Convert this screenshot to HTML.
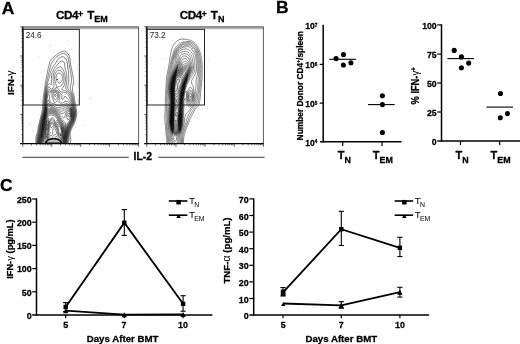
<!DOCTYPE html>
<html><head><meta charset="utf-8"><title>figure</title><style>html,body{margin:0;padding:0;background:#fff;font-family:"Liberation Sans",sans-serif;}svg{display:block;opacity:0.999}text[font-weight=bold]{stroke:#000;stroke-width:0.28px;stroke-linejoin:round}</style></head><body>
<svg width="520" height="344" viewBox="0 0 520 344" font-family="Liberation Sans, sans-serif">
<defs><filter id="bl" x="-50%" y="-50%" width="200%" height="200%"><feGaussianBlur stdDeviation="0.75"/></filter></defs>
<rect width="520" height="344" fill="#fff"/>
<text transform="translate(1.8,14.0) scale(1.02,1)" font-size="17.1" font-weight="bold">A</text>
<text transform="translate(276.0,12.8) scale(1.02,1)" font-size="17.1" font-weight="bold">B</text>
<text transform="translate(0.0,191.0) scale(1.02,1)" font-size="17.1" font-weight="bold">C</text>
<g id="contours1"><circle cx="60.4" cy="91.8" r="0.45" fill="#9a9a9a"/><circle cx="73.5" cy="61.8" r="0.45" fill="#9a9a9a"/><circle cx="56.7" cy="61.6" r="0.45" fill="#9a9a9a"/><circle cx="66.3" cy="69.1" r="0.45" fill="#9a9a9a"/><circle cx="68.2" cy="40.4" r="0.45" fill="#9a9a9a"/><circle cx="77.2" cy="68.5" r="0.45" fill="#9a9a9a"/><circle cx="67.5" cy="67.8" r="0.45" fill="#9a9a9a"/><circle cx="55.8" cy="77.4" r="0.45" fill="#9a9a9a"/><circle cx="69.1" cy="66.8" r="0.45" fill="#9a9a9a"/><circle cx="58.3" cy="81.0" r="0.45" fill="#9a9a9a"/><circle cx="50.4" cy="45.8" r="0.45" fill="#9a9a9a"/><circle cx="64.3" cy="59.3" r="0.45" fill="#9a9a9a"/><circle cx="38.9" cy="57.0" r="0.45" fill="#9a9a9a"/><circle cx="54.9" cy="50.9" r="0.45" fill="#9a9a9a"/><circle cx="43.6" cy="70.6" r="0.45" fill="#9a9a9a"/><circle cx="69.9" cy="66.3" r="0.45" fill="#9a9a9a"/><circle cx="51.8" cy="76.2" r="0.45" fill="#9a9a9a"/><circle cx="67.9" cy="65.2" r="0.45" fill="#9a9a9a"/><circle cx="66.0" cy="86.7" r="0.45" fill="#9a9a9a"/><circle cx="57.7" cy="57.0" r="0.45" fill="#9a9a9a"/><circle cx="63.8" cy="74.0" r="0.45" fill="#9a9a9a"/><circle cx="72.1" cy="49.4" r="0.45" fill="#9a9a9a"/><circle cx="52.7" cy="56.6" r="0.45" fill="#9a9a9a"/><circle cx="40.9" cy="72.0" r="0.45" fill="#9a9a9a"/><circle cx="65.8" cy="58.2" r="0.45" fill="#9a9a9a"/><circle cx="75.2" cy="83.2" r="0.45" fill="#9a9a9a"/><circle cx="68.0" cy="124.8" r="0.45" fill="#9a9a9a"/><circle cx="73.3" cy="104.0" r="0.45" fill="#9a9a9a"/><circle cx="67.8" cy="127.2" r="0.45" fill="#9a9a9a"/><circle cx="29.7" cy="124.2" r="0.45" fill="#9a9a9a"/><circle cx="54.0" cy="129.4" r="0.45" fill="#9a9a9a"/><circle cx="51.0" cy="119.8" r="0.45" fill="#9a9a9a"/><circle cx="63.5" cy="109.5" r="0.45" fill="#9a9a9a"/><circle cx="67.6" cy="118.7" r="0.45" fill="#9a9a9a"/><circle cx="65.9" cy="113.7" r="0.45" fill="#9a9a9a"/><circle cx="75.4" cy="127.3" r="0.45" fill="#9a9a9a"/><circle cx="55.2" cy="127.6" r="0.45" fill="#9a9a9a"/><circle cx="32.8" cy="130.6" r="0.45" fill="#9a9a9a"/><circle cx="65.4" cy="118.9" r="0.45" fill="#9a9a9a"/><circle cx="41.9" cy="135.1" r="0.45" fill="#9a9a9a"/><circle cx="37.8" cy="126.8" r="0.45" fill="#9a9a9a"/><circle cx="78.8" cy="100.8" r="0.45" fill="#9a9a9a"/><circle cx="53.2" cy="104.3" r="0.45" fill="#9a9a9a"/><circle cx="61.9" cy="138.2" r="0.45" fill="#9a9a9a"/><circle cx="90.4" cy="98.7" r="0.45" fill="#9a9a9a"/><circle cx="48.8" cy="128.4" r="0.45" fill="#9a9a9a"/><circle cx="83.3" cy="125.1" r="0.45" fill="#9a9a9a"/><circle cx="46.1" cy="123.6" r="0.45" fill="#9a9a9a"/><path d="M35.7 143.5 L35.7 142.5 L35.7 141.5 L35.7 140.5 L35.7 139.5 L35.8 138.8 L35.9 138.0 L36.0 137.2 L36.1 136.5 L36.3 135.8 L36.5 135.0 L36.8 134.3 L37.0 133.5 L37.2 132.8 L37.3 132.0 L37.5 131.3 L37.7 130.5 L37.8 129.8 L37.9 129.0 L38.1 128.2 L38.2 127.5 L38.3 126.8 L38.5 126.0 L38.6 125.2 L38.8 124.5 L39.0 123.8 L39.2 123.0 L39.4 122.2 L39.5 121.5 L39.7 120.8 L39.9 120.0 L40.1 119.3 L40.3 118.5 L40.5 117.8 L40.7 117.0 L40.9 116.2 L41.1 115.5 L41.2 114.8 L41.4 114.0 L41.6 113.2 L41.7 112.5 L41.9 111.8 L42.0 111.0 L42.2 110.2 L42.3 109.5 L42.4 108.8 L42.5 108.0 L42.5 107.2 L42.6 106.5 L42.6 105.5 L42.7 104.5 L42.8 103.7 L42.8 102.8 L42.9 102.0 L42.9 101.2 L43.0 100.5 L43.1 99.8 L43.1 99.0 L43.2 98.2 L43.3 97.5 L43.4 96.8 L43.5 96.0 L43.6 95.2 L43.7 94.5 L43.8 93.8 L43.9 93.0 L44.1 92.2 L44.2 91.5 L44.3 90.8 L44.4 90.0 L44.5 89.2 L44.6 88.5 L44.7 87.8 L44.8 87.0 L44.9 86.2 L45.0 85.5 L45.1 84.8 L45.3 84.0 L45.4 83.2 L45.5 82.5 L45.6 81.8 L45.8 81.0 L45.9 80.2 L46.0 79.5 L46.2 78.8 L46.3 78.0 L46.4 77.2 L46.6 76.5 L46.7 75.8 L46.9 75.0 L47.0 74.2 L47.2 73.5 L47.3 72.8 L47.5 72.0 L47.6 71.2 L47.8 70.5 L47.9 69.8 L48.1 69.0 L48.2 68.3 L48.4 67.5 L48.6 66.8 L48.8 66.0 L49.0 65.2 L49.2 64.5 L49.4 63.8 L49.5 63.0 L49.7 62.2 L49.9 61.5 L50.2 60.8 L50.7 60.0 L51.1 59.5 L51.6 59.0 L52.2 58.5 L52.8 58.0 L53.2 57.6 L53.8 57.2 L54.2 56.8 L54.8 56.3 L55.2 55.8 L55.8 55.4 L56.2 55.0 L56.7 54.6 L57.2 54.2 L57.8 53.8 L58.2 53.4 L58.8 53.1 L59.2 52.8 L59.8 52.5 L60.5 52.2 L61.2 51.9 L62.0 51.6 L62.8 51.4 L63.5 51.2 L64.2 51.1 L65.2 51.2 L65.9 51.5 L66.5 51.9 L67.0 52.4 L67.5 53.0 L67.8 53.5 L68.2 54.0 L68.5 54.5 L68.8 55.0 L69.2 55.8 L69.5 56.5 L69.7 57.2 L69.8 58.0 L70.0 58.8 L70.1 59.5 L70.2 60.2 L70.2 61.0 L70.3 61.8 L70.4 62.5 L70.5 63.2 L70.6 64.0 L70.7 64.8 L70.8 65.5 L71.0 66.2 L71.1 67.0 L71.3 67.8 L71.5 68.5 L71.6 69.2 L71.8 70.0 L71.9 70.8 L72.1 71.5 L72.2 72.2 L72.4 73.0 L72.5 73.8 L72.7 74.5 L72.8 75.2 L72.9 76.0 L73.0 76.8 L73.1 77.5 L73.2 78.2 L73.4 79.0 L73.5 79.8 L73.6 80.5 L73.6 81.5 L73.5 82.2 L73.4 83.0 L73.3 83.8 L73.1 84.5 L73.0 85.2 L72.9 86.0 L72.8 86.7 L72.6 87.5 L72.5 88.2 L72.5 89.0 L72.5 90.0 L72.5 90.8 L72.7 91.5 L72.9 92.2 L73.1 93.0 L73.4 93.8 L73.7 94.5 L74.0 95.2 L74.2 96.0 L74.3 96.8 L74.4 97.5 L74.5 98.2 L74.6 99.0 L74.7 99.8 L74.8 100.5 L74.9 101.2 L75.1 102.0 L75.2 102.8 L75.3 103.5 L75.5 104.2 L75.6 105.0 L75.7 105.8 L75.9 106.5 L76.0 107.2 L76.1 108.0 L76.2 108.8 L76.3 109.5 L76.4 110.2 L76.5 111.0 L76.6 111.8 L76.7 112.5 L76.7 113.5 L76.7 114.5 L76.6 115.2 L76.5 116.0 L76.3 116.8 L76.2 117.5 L76.0 118.2 L75.8 119.0 L75.6 119.8 L75.4 120.5 L75.1 121.2 L74.9 122.0 L74.6 122.8 L74.3 123.5 L74.0 124.2 L73.7 124.8 L73.3 125.5 L73.0 126.2 L72.7 126.8 L72.3 127.5 L72.0 128.2 L71.7 128.8 L71.4 129.5 L71.1 130.2 L70.8 131.0 L70.6 131.8 L70.4 132.5 L70.3 133.2 L70.2 134.0 L70.2 135.0 L70.2 135.8 L70.4 136.5 L70.5 137.2 L70.6 138.0 L70.7 138.8 L70.8 139.5 L70.8 140.5 L70.7 141.2 L70.6 142.0 L70.4 142.8 L70.1 143.5 L70.1 143.5 M36.6 143.5 L36.6 142.5 L36.6 141.5 L36.6 140.5 L36.7 139.5 L36.7 138.8 L36.8 138.0 L36.9 137.2 L37.1 136.5 L37.2 135.8 L37.4 135.0 L37.6 134.2 L37.8 133.5 L38.0 132.8 L38.2 132.0 L38.3 131.2 L38.5 130.5 L38.6 129.8 L38.7 129.0 L38.8 128.2 L39.0 127.5 L39.1 126.8 L39.2 126.1 L39.4 125.2 L39.6 124.5 L39.8 123.8 L39.9 123.0 L40.1 122.2 L40.3 121.5 L40.5 120.8 L40.7 120.0 L40.9 119.2 L41.0 118.5 L41.2 117.8 L41.4 117.0 L41.6 116.2 L41.8 115.5 L42.0 114.8 L42.2 114.0 L42.4 113.2 L42.5 112.5 L42.7 111.8 L42.8 111.0 L43.0 110.2 L43.1 109.5 L43.2 108.8 L43.3 108.0 L43.3 107.2 L43.4 106.5 L43.4 105.8 L43.5 105.0 L43.6 104.0 L43.6 103.2 L43.7 102.5 L43.7 101.8 L43.8 101.0 L43.9 100.2 L44.0 99.5 L44.0 98.7 L44.1 98.0 L44.2 97.2 L44.3 96.5 L44.4 95.8 L44.5 95.0 L44.6 94.2 L44.7 93.5 L44.8 92.8 L44.9 92.0 L45.0 91.2 L45.2 90.5 L45.3 89.8 L45.4 89.0 L45.5 88.3 L45.6 87.5 L45.8 86.8 L45.9 86.0 L46.0 85.3 L46.2 84.5 L46.3 83.8 L46.5 83.0 L46.7 82.2 L46.8 81.5 L47.0 80.8 L47.2 80.0 L47.3 79.2 L47.5 78.5 L47.7 77.8 L47.8 77.0 L48.0 76.3 L48.2 75.5 L48.4 74.8 L48.6 74.0 L48.7 73.2 L48.9 72.5 L49.1 71.8 L49.2 71.0 L49.4 70.2 L49.6 69.5 L49.8 68.8 L50.0 68.0 L50.2 67.2 L50.4 66.5 L50.7 65.8 L51.0 65.0 L51.2 64.3 L51.5 63.7 L51.8 63.0 L52.2 62.2 L52.5 61.7 L52.9 61.0 L53.3 60.5 L53.6 60.0 L54.0 59.5 L54.5 59.0 L54.9 58.5 L55.4 58.0 L55.9 57.5 L56.5 57.0 L57.0 56.6 L57.5 56.2 L58.0 55.8 L58.5 55.5 L59.0 55.2 L59.5 54.9 L60.1 54.5 L60.8 54.2 L61.5 53.9 L62.2 53.6 L63.0 53.4 L63.8 53.3 L64.8 53.4 L65.4 53.8 L66.0 54.2 L66.4 54.8 L66.9 55.2 L67.2 55.8 L67.5 56.2 L67.9 57.0 L68.1 57.8 L68.3 58.5 L68.5 59.2 L68.6 60.0 L68.7 60.8 L68.8 61.5 L68.9 62.2 L69.0 63.0 L69.1 63.8 L69.2 64.5 L69.3 65.2 L69.4 66.0 L69.6 66.8 L69.7 67.5 L69.9 68.2 L70.0 69.0 L70.2 69.8 L70.4 70.5 L70.5 71.2 L70.7 72.0 L70.8 72.8 L70.9 73.5 L71.0 74.2 L71.1 75.0 L71.2 75.8 L71.3 76.5 L71.4 77.2 L71.4 78.0 L71.5 78.8 L71.5 79.8 L71.5 80.8 L71.5 81.5 L71.4 82.2 L71.2 83.0 L71.0 83.8 L70.8 84.5 L70.6 85.2 L70.4 86.0 L70.3 86.8 L70.2 87.5 L70.3 88.5 L70.5 89.2 L70.7 90.0 L71.0 90.7 L71.2 91.3 L71.5 91.8 L71.8 92.5 L72.0 93.1 L72.2 93.7 L72.5 94.3 L72.7 95.0 L73.0 95.7 L73.2 96.5 L73.3 97.2 L73.4 98.0 L73.5 98.8 L73.7 99.5 L73.8 100.2 L73.9 101.0 L74.1 101.8 L74.2 102.5 L74.4 103.2 L74.5 104.0 L74.7 104.8 L74.8 105.5 L75.0 106.2 L75.1 107.0 L75.2 107.8 L75.4 108.5 L75.5 109.2 L75.6 110.0 L75.7 110.8 L75.8 111.5 L75.9 112.3 L76.0 113.0 L76.0 114.0 L75.9 115.0 L75.8 115.8 L75.6 116.5 L75.5 117.2 L75.3 118.0 L75.1 118.8 L74.9 119.5 L74.7 120.2 L74.4 121.0 L74.2 121.8 L73.9 122.5 L73.6 123.2 L73.2 124.0 L73.0 124.5 L72.6 125.2 L72.2 125.9 L72.0 126.5 L71.6 127.2 L71.2 128.0 L70.9 128.8 L70.6 129.5 L70.3 130.2 L70.0 131.0 L69.8 131.7 L69.6 132.5 L69.4 133.2 L69.3 134.0 L69.2 134.8 L69.2 135.8 L69.1 136.8 L69.1 137.8 L69.1 138.8 L69.1 139.8 L69.0 140.5 L68.9 141.2 L68.7 142.0 L68.5 142.7 L68.2 143.5 L68.2 143.5 M37.1 143.5 L37.1 142.5 L37.1 141.5 L37.2 140.5 L37.2 139.5 L37.3 138.8 L37.4 138.0 L37.5 137.2 L37.7 136.5 L37.8 135.8 L38.0 135.0 L38.2 134.2 L38.4 133.5 L38.6 132.8 L38.7 132.0 L38.9 131.2 L39.0 130.5 L39.2 129.8 L39.3 129.0 L39.4 128.2 L39.5 127.5 L39.7 126.8 L39.8 126.0 L39.9 125.2 L40.1 124.5 L40.3 123.8 L40.4 123.0 L40.6 122.2 L40.8 121.5 L41.0 120.8 L41.2 120.0 L41.4 119.2 L41.5 118.5 L41.7 117.8 L41.9 117.0 L42.1 116.2 L42.3 115.5 L42.5 114.8 L42.7 114.0 L42.9 113.2 L43.1 112.5 L43.2 111.8 L43.4 111.0 L43.5 110.2 L43.7 109.5 L43.8 108.8 L43.8 108.0 L43.9 107.2 L44.0 106.5 L44.0 105.8 L44.1 104.7 L44.1 104.0 L44.2 103.2 L44.2 102.5 L44.3 101.8 L44.4 101.0 L44.5 100.2 L44.5 99.5 L44.6 98.8 L44.7 98.0 L44.8 97.2 L44.8 96.5 L44.9 95.8 L45.0 95.0 L45.1 94.2 L45.3 93.5 L45.4 92.8 L45.5 92.0 L45.7 91.2 L45.8 90.5 L45.9 89.8 L46.0 89.0 L46.2 88.2 L46.3 87.5 L46.5 86.8 L46.7 86.0 L46.9 85.2 L47.1 84.5 L47.2 83.8 L47.5 83.0 L47.7 82.2 L48.0 81.5 L48.2 80.8 L48.5 80.0 L48.7 79.2 L48.9 78.5 L49.1 77.8 L49.3 77.0 L49.5 76.2 L49.7 75.5 L49.9 74.8 L50.1 74.0 L50.2 73.4 L50.5 72.5 L50.7 71.8 L50.9 71.0 L51.2 70.2 L51.5 69.5 L51.8 68.9 L52.1 68.2 L52.5 67.5 L52.8 67.0 L53.2 66.5 L53.6 66.0 L53.9 65.5 L54.3 65.0 L54.7 64.5 L55.1 64.0 L55.4 63.5 L55.7 63.0 L56.0 62.5 L56.5 61.8 L56.9 61.0 L57.2 60.4 L57.7 59.8 L58.1 59.2 L58.5 58.8 L59.0 58.2 L59.5 57.8 L60.0 57.5 L60.8 57.1 L61.5 56.8 L62.2 56.7 L63.0 56.8 L63.8 57.0 L64.5 57.4 L65.0 57.8 L65.5 58.2 L65.9 58.8 L66.2 59.2 L66.5 60.0 L66.8 60.7 L67.0 61.5 L67.1 62.2 L67.2 63.0 L67.4 63.8 L67.4 64.5 L67.5 65.2 L67.6 66.0 L67.7 66.8 L67.8 67.5 L67.9 68.2 L68.0 69.0 L68.1 69.8 L68.2 70.5 L68.4 71.2 L68.5 72.0 L68.6 72.8 L68.7 73.5 L68.7 74.2 L68.8 75.2 L68.8 76.2 L68.8 77.2 L68.9 78.2 L68.8 79.2 L68.8 80.2 L68.8 81.0 L68.7 81.8 L68.6 82.5 L68.4 83.2 L68.3 84.0 L68.1 84.8 L68.0 85.5 L67.9 86.2 L67.8 87.0 L67.8 88.0 L68.0 88.8 L68.4 89.5 L68.7 90.0 L69.1 90.5 L69.6 91.0 L70.0 91.5 L70.3 92.0 L70.7 92.5 L71.0 93.0 L71.4 93.8 L71.7 94.5 L72.0 95.2 L72.2 96.0 L72.4 96.8 L72.5 97.5 L72.7 98.2 L72.8 99.0 L72.9 99.8 L73.1 100.5 L73.2 101.2 L73.4 102.0 L73.6 102.8 L73.7 103.5 L73.9 104.2 L74.1 105.0 L74.2 105.7 L74.4 106.5 L74.5 107.2 L74.7 108.0 L74.8 108.8 L75.0 109.5 L75.1 110.2 L75.2 111.0 L75.3 111.8 L75.4 112.5 L75.5 113.5 L75.4 114.5 L75.3 115.2 L75.2 116.0 L75.1 116.8 L74.9 117.5 L74.7 118.2 L74.5 119.0 L74.3 119.8 L74.1 120.5 L73.8 121.2 L73.5 122.0 L73.2 122.7 L73.0 123.2 L72.6 124.0 L72.3 124.8 L71.9 125.5 L71.5 126.2 L71.1 127.0 L70.8 127.8 L70.5 128.3 L70.2 128.9 L70.0 129.5 L69.8 130.1 L69.5 130.8 L69.3 131.5 L69.1 132.2 L68.9 133.0 L68.8 133.8 L68.7 134.5 L68.6 135.2 L68.5 136.0 L68.4 136.8 L68.4 137.5 L68.3 138.2 L68.3 139.0 L68.2 139.8 L68.1 140.5 L68.0 141.2 L67.8 142.0 L67.6 142.8 L67.5 143.5 L67.5 143.5 M37.5 143.5 L37.6 142.5 L37.6 141.5 L37.6 140.5 L37.7 139.5 L37.8 138.8 L37.9 138.0 L38.0 137.3 L38.2 136.5 L38.3 135.8 L38.5 135.0 L38.7 134.2 L38.9 133.5 L39.0 132.8 L39.2 132.0 L39.4 131.2 L39.5 130.5 L39.6 129.8 L39.7 129.0 L39.8 128.2 L40.0 127.5 L40.1 126.8 L40.2 126.0 L40.4 125.2 L40.5 124.5 L40.7 123.8 L40.9 123.0 L41.0 122.2 L41.2 121.5 L41.4 120.8 L41.6 120.0 L41.8 119.3 L41.9 118.5 L42.1 117.8 L42.3 117.0 L42.5 116.2 L42.7 115.5 L42.9 114.8 L43.1 114.0 L43.3 113.2 L43.5 112.6 L43.7 111.8 L43.8 111.0 L44.0 110.2 L44.1 109.5 L44.2 108.8 L44.3 108.0 L44.4 107.2 L44.4 106.5 L44.5 105.8 L44.5 104.8 L44.6 104.0 L44.6 103.2 L44.7 102.5 L44.8 101.8 L44.8 101.0 L44.9 100.2 L45.0 99.5 L45.1 98.8 L45.2 98.0 L45.2 97.2 L45.3 96.5 L45.4 95.8 L45.5 95.0 L45.6 94.2 L45.7 93.5 L45.9 92.8 L46.0 92.0 L46.2 91.2 L46.3 90.5 L46.5 89.8 L46.7 89.0 L46.8 88.2 L47.0 87.5 L47.2 86.8 L47.5 86.1 L47.7 85.5 L48.0 84.9 L48.4 84.2 L48.9 83.8 L49.8 83.6 L50.2 84.0 L50.7 84.5 L51.1 85.0 L51.7 84.5 L51.7 83.5 L51.7 82.8 L51.6 82.0 L51.5 81.2 L51.4 80.5 L51.4 79.8 L51.3 78.8 L51.4 77.8 L51.4 77.0 L51.5 76.2 L51.6 75.5 L51.8 74.8 L51.9 74.0 L52.1 73.2 L52.4 72.5 L52.7 71.8 L53.0 71.0 L53.3 70.3 L53.6 69.8 L54.0 69.0 L54.3 68.5 L54.7 68.0 L55.1 67.5 L55.5 67.0 L55.9 66.5 L56.4 66.0 L56.7 65.6 L57.2 65.0 L57.7 64.5 L58.1 64.0 L58.5 63.5 L58.9 63.0 L59.4 62.5 L59.8 62.1 L60.2 61.7 L60.8 61.3 L61.5 61.0 L62.2 60.9 L63.0 61.2 L63.5 61.5 L63.9 62.0 L64.2 62.8 L64.5 63.5 L64.6 64.2 L64.7 65.0 L64.8 65.8 L64.9 66.5 L65.0 67.2 L65.1 68.0 L65.2 68.7 L65.4 69.5 L65.7 70.2 L65.9 71.0 L66.1 71.8 L66.2 72.4 L66.4 73.2 L66.6 74.0 L66.7 74.8 L66.8 75.5 L66.8 76.2 L66.9 77.2 L66.9 78.2 L66.9 79.2 L66.9 80.2 L66.8 81.2 L66.8 82.0 L66.7 82.8 L66.5 83.5 L66.4 84.2 L66.2 85.0 L66.0 85.8 L65.9 86.5 L65.8 87.2 L65.7 88.0 L65.9 88.8 L66.2 89.4 L66.8 89.9 L67.2 90.4 L67.8 90.9 L68.2 91.3 L68.7 91.8 L69.2 92.2 L69.6 92.8 L70.0 93.2 L70.4 93.8 L70.8 94.4 L71.0 95.0 L71.2 95.6 L71.5 96.3 L71.6 97.0 L71.8 97.8 L72.0 98.5 L72.1 99.2 L72.3 100.0 L72.5 100.8 L72.6 101.5 L72.8 102.2 L73.0 103.0 L73.2 103.8 L73.3 104.5 L73.5 105.2 L73.7 106.0 L73.9 106.8 L74.1 107.5 L74.2 108.2 L74.4 109.0 L74.5 109.8 L74.7 110.5 L74.8 111.2 L74.9 112.0 L75.0 112.8 L75.0 113.8 L75.0 114.7 L74.9 115.5 L74.8 116.2 L74.6 117.0 L74.4 117.8 L74.2 118.4 L74.0 119.2 L73.8 120.0 L73.6 120.8 L73.3 121.5 L73.0 122.2 L72.8 122.8 L72.4 123.5 L72.0 124.2 L71.6 125.0 L71.2 125.7 L71.0 126.2 L70.6 127.0 L70.3 127.8 L70.0 128.3 L69.8 128.9 L69.5 129.5 L69.2 130.2 L69.0 130.9 L68.8 131.8 L68.6 132.5 L68.4 133.2 L68.3 134.0 L68.2 134.8 L68.1 135.5 L68.0 136.2 L67.9 137.0 L67.8 137.8 L67.8 138.5 L67.7 139.2 L67.6 140.0 L67.5 140.8 L67.3 141.5 L67.2 142.2 L67.0 143.0 L66.9 143.5 M37.9 143.5 L37.9 142.5 L38.0 141.5 L38.0 140.5 L38.1 139.8 L38.1 139.0 L38.2 138.2 L38.4 137.5 L38.5 136.8 L38.7 136.0 L38.9 135.2 L39.0 134.5 L39.2 133.8 L39.4 133.0 L39.6 132.2 L39.7 131.5 L39.9 130.8 L40.0 130.0 L40.1 129.2 L40.2 128.5 L40.3 127.8 L40.4 127.0 L40.6 126.2 L40.7 125.5 L40.9 124.8 L41.0 124.1 L41.2 123.2 L41.3 122.5 L41.5 121.8 L41.7 121.0 L41.9 120.2 L42.1 119.5 L42.2 118.8 L42.4 118.0 L42.6 117.2 L42.8 116.5 L43.0 115.8 L43.2 115.0 L43.4 114.2 L43.6 113.5 L43.8 112.8 L44.0 112.1 L44.2 111.2 L44.3 110.5 L44.5 109.8 L44.6 109.0 L44.7 108.2 L44.7 107.5 L44.8 106.8 L44.9 106.0 L44.9 105.0 L45.0 104.2 L45.0 103.5 L45.1 102.8 L45.2 102.0 L45.2 101.2 L45.3 100.5 L45.4 99.8 L45.5 99.0 L45.5 98.2 L45.6 97.5 L45.7 96.8 L45.8 96.0 L45.9 95.2 L46.0 94.5 L46.1 93.8 L46.3 93.0 L46.5 92.2 L46.6 91.5 L46.8 90.8 L47.1 90.0 L47.2 89.3 L47.5 88.6 L47.7 88.0 L48.2 87.2 L48.8 86.9 L49.5 87.2 L49.8 87.8 L50.2 88.2 L50.6 88.8 L51.2 89.1 L52.0 88.9 L52.5 88.6 L53.0 88.1 L53.5 87.5 L53.8 86.8 L54.0 86.0 L54.1 85.2 L54.0 84.3 L53.9 83.5 L53.8 82.7 L53.6 82.0 L53.5 81.3 L53.4 80.5 L53.2 79.8 L53.1 79.0 L53.1 78.2 L53.1 77.2 L53.1 76.2 L53.2 75.5 L53.4 74.8 L53.5 74.0 L53.8 73.3 L54.0 72.8 L54.2 72.1 L54.5 71.5 L55.0 70.8 L55.3 70.2 L55.6 69.8 L56.1 69.2 L56.5 68.8 L57.0 68.3 L57.5 67.9 L58.0 67.6 L58.5 67.3 L59.2 66.9 L60.0 66.7 L60.8 66.8 L61.2 67.2 L61.8 67.7 L62.1 68.2 L62.4 68.8 L62.8 69.3 L63.1 70.0 L63.5 70.7 L63.8 71.2 L64.1 72.0 L64.4 72.8 L64.7 73.5 L64.9 74.2 L65.1 75.0 L65.2 75.8 L65.3 76.5 L65.3 77.2 L65.4 78.2 L65.4 79.2 L65.4 80.2 L65.3 81.0 L65.2 81.8 L65.1 82.5 L64.9 83.2 L64.7 84.0 L64.5 84.7 L64.3 85.2 L64.0 85.9 L63.6 86.5 L63.3 87.0 L62.9 87.5 L62.5 88.0 L62.0 88.5 L61.8 89.2 L62.1 89.8 L62.8 90.1 L63.5 90.3 L64.2 90.5 L65.0 90.7 L65.6 91.0 L66.2 91.3 L66.8 91.6 L67.2 92.0 L67.8 92.4 L68.2 92.9 L68.8 93.4 L69.2 94.0 L69.6 94.5 L69.9 95.0 L70.2 95.7 L70.5 96.3 L70.7 97.0 L70.9 97.8 L71.1 98.5 L71.3 99.2 L71.5 100.0 L71.7 100.8 L71.9 101.5 L72.1 102.2 L72.3 103.0 L72.5 103.8 L72.8 104.5 L73.0 105.3 L73.2 106.0 L73.4 106.8 L73.6 107.5 L73.8 108.1 L73.9 109.0 L74.1 109.8 L74.2 110.5 L74.4 111.2 L74.5 112.0 L74.6 112.8 L74.6 113.8 L74.6 114.8 L74.5 115.5 L74.4 116.2 L74.2 116.9 L74.1 117.8 L73.9 118.5 L73.6 119.2 L73.4 120.0 L73.2 120.8 L72.9 121.5 L72.6 122.2 L72.2 122.9 L72.0 123.5 L71.6 124.2 L71.2 124.8 L70.9 125.5 L70.5 126.2 L70.2 126.8 L69.9 127.5 L69.6 128.2 L69.3 129.0 L69.0 129.7 L68.8 130.4 L68.5 131.2 L68.3 132.0 L68.2 132.8 L68.0 133.5 L67.9 134.2 L67.8 135.0 L67.7 135.8 L67.6 136.5 L67.5 137.2 L67.4 138.0 L67.3 138.8 L67.2 139.5 L67.1 140.2 L67.0 141.0 L66.8 141.8 L66.7 142.5 L66.6 143.2 L66.5 143.5 M58.0 70.5 L58.8 70.3 L59.8 70.4 L60.5 70.7 L61.0 71.1 L61.5 71.5 L61.9 72.0 L62.3 72.5 L62.6 73.0 L63.0 73.7 L63.2 74.3 L63.5 75.0 L63.7 75.8 L63.8 76.5 L63.9 77.2 L64.0 78.2 L63.9 79.2 L63.9 80.0 L63.8 80.8 L63.6 81.5 L63.4 82.2 L63.1 83.0 L62.8 83.8 L62.5 84.2 L62.1 84.8 L61.5 85.2 L61.0 85.6 L60.3 86.0 L59.8 86.3 L59.2 86.5 L58.6 86.8 L57.9 87.0 L57.3 87.2 L56.9 86.8 L56.5 86.0 L56.3 85.2 L56.0 84.5 L55.8 83.8 L55.6 83.0 L55.4 82.2 L55.2 81.5 L55.0 80.8 L54.8 80.0 L54.7 79.2 L54.6 78.5 L54.5 77.8 L54.5 76.8 L54.6 76.0 L54.7 75.2 L54.9 74.5 L55.2 73.8 L55.5 73.1 L55.9 72.5 L56.2 72.0 L56.6 71.5 L57.2 71.0 L57.8 70.6 L58.0 70.5 M38.3 143.5 L38.3 142.5 L38.3 141.5 L38.4 140.5 L38.4 139.8 L38.5 139.0 L38.6 138.2 L38.7 137.5 L38.9 136.8 L39.1 136.0 L39.2 135.2 L39.4 134.5 L39.6 133.8 L39.8 133.0 L40.0 132.2 L40.1 131.5 L40.2 130.8 L40.4 130.0 L40.5 129.2 L40.6 128.5 L40.7 127.8 L40.8 127.0 L40.9 126.2 L41.0 125.5 L41.2 124.8 L41.3 124.0 L41.5 123.3 L41.7 122.5 L41.8 121.8 L42.0 121.1 L42.2 120.2 L42.4 119.5 L42.6 118.8 L42.7 118.0 L42.9 117.2 L43.1 116.5 L43.4 115.8 L43.6 115.0 L43.8 114.4 L44.0 113.5 L44.2 112.8 L44.4 112.0 L44.5 111.2 L44.7 110.5 L44.8 109.8 L44.9 109.0 L45.0 108.2 L45.1 107.5 L45.2 106.8 L45.2 106.0 L45.3 105.0 L45.3 104.2 L45.4 103.5 L45.5 102.8 L45.5 102.0 L45.6 101.2 L45.7 100.5 L45.8 99.8 L45.9 99.0 L45.9 98.2 L46.0 97.5 L46.1 96.8 L46.2 96.0 L46.3 95.2 L46.4 94.5 L46.6 93.8 L46.7 93.0 L47.0 92.2 L47.2 91.5 L47.5 90.8 L47.8 90.2 L48.2 89.5 L48.8 89.2 L49.3 89.5 L49.9 90.0 L50.5 90.4 L51.2 90.5 L52.0 90.2 L52.5 90.0 L53.0 89.6 L53.5 89.3 L54.0 89.0 L54.5 88.7 L55.2 88.3 L56.0 87.9 L56.8 87.5 L57.3 87.8 L57.8 88.4 L58.1 89.0 L58.5 89.5 L58.9 90.0 L59.4 90.5 L59.9 91.0 L60.5 91.5 L61.0 91.8 L61.8 92.1 L62.5 92.2 L63.5 92.3 L64.5 92.4 L65.2 92.5 L65.9 92.8 L66.5 93.1 L67.0 93.5 L67.5 94.0 L67.9 94.5 L68.2 95.0 L68.6 95.5 L68.9 96.2 L69.2 97.0 L69.5 97.8 L69.8 98.4 L70.0 99.0 L70.2 99.6 L70.5 100.2 L70.8 100.9 L71.0 101.5 L71.2 102.2 L71.5 102.9 L71.7 103.5 L72.0 104.2 L72.2 104.9 L72.5 105.7 L72.8 106.4 L72.9 107.0 L73.2 107.8 L73.4 108.5 L73.6 109.2 L73.7 110.0 L73.9 110.8 L74.0 111.5 L74.2 112.2 L74.2 113.0 L74.3 114.0 L74.2 115.0 L74.1 115.8 L74.0 116.5 L73.8 117.2 L73.7 118.0 L73.4 118.8 L73.2 119.4 L73.0 120.2 L72.8 120.9 L72.5 121.5 L72.2 122.1 L71.9 122.8 L71.5 123.5 L71.2 124.1 L70.9 124.8 L70.5 125.5 L70.1 126.2 L69.8 127.0 L69.4 127.8 L69.1 128.5 L68.8 129.2 L68.5 130.0 L68.3 130.8 L68.1 131.5 L67.9 132.2 L67.8 133.0 L67.6 133.8 L67.5 134.5 L67.4 135.2 L67.3 136.0 L67.2 136.8 L67.1 137.5 L67.0 138.2 L66.9 139.0 L66.8 139.8 L66.7 140.5 L66.6 141.2 L66.4 142.0 L66.3 142.8 L66.1 143.5 L66.1 143.5 M58.1 73.2 L59.0 73.1 L59.8 73.2 L60.3 73.5 L60.9 74.0 L61.4 74.5 L61.7 75.0 L62.0 75.7 L62.2 76.5 L62.4 77.2 L62.4 78.2 L62.3 79.2 L62.2 80.0 L61.9 80.8 L61.6 81.5 L61.2 82.0 L60.8 82.5 L60.2 82.8 L59.5 83.1 L58.8 83.0 L58.0 82.6 L57.5 82.0 L57.2 81.5 L56.8 80.8 L56.6 80.0 L56.4 79.2 L56.2 78.5 L56.1 77.8 L56.1 76.8 L56.2 76.0 L56.5 75.2 L56.8 74.6 L57.2 74.0 L57.7 73.5 L58.1 73.2 M38.6 143.5 L38.6 142.5 L38.6 141.5 L38.7 140.5 L38.7 139.8 L38.8 139.0 L38.9 138.2 L39.1 137.5 L39.2 136.8 L39.4 136.0 L39.6 135.2 L39.8 134.5 L40.0 133.8 L40.2 133.0 L40.3 132.2 L40.5 131.5 L40.6 130.8 L40.7 130.0 L40.8 129.2 L40.9 128.5 L41.0 127.8 L41.1 127.0 L41.2 126.2 L41.4 125.5 L41.5 124.8 L41.7 124.0 L41.8 123.2 L42.0 122.5 L42.1 121.8 L42.3 121.0 L42.5 120.2 L42.7 119.5 L42.9 118.8 L43.0 118.0 L43.2 117.2 L43.4 116.5 L43.7 115.8 L43.9 115.0 L44.1 114.2 L44.3 113.5 L44.5 112.8 L44.7 112.0 L44.9 111.2 L45.0 110.5 L45.2 109.8 L45.3 109.0 L45.4 108.2 L45.5 107.5 L45.5 106.8 L45.6 106.0 L45.6 105.2 L45.7 104.5 L45.7 103.8 L45.8 103.0 L45.9 102.2 L46.0 101.5 L46.0 100.8 L46.1 100.0 L46.2 99.2 L46.3 98.5 L46.4 97.8 L46.5 97.0 L46.6 96.2 L46.7 95.5 L46.8 94.8 L47.0 94.0 L47.2 93.2 L47.4 92.5 L47.8 91.9 L48.2 91.2 L48.8 91.0 L49.5 91.2 L50.1 91.5 L50.8 91.7 L51.5 91.5 L52.0 91.2 L52.8 90.8 L53.3 90.5 L54.0 90.1 L54.8 89.9 L55.5 89.8 L56.2 89.9 L57.0 90.2 L57.5 90.5 L58.0 90.9 L58.4 91.2 L59.0 91.8 L59.5 92.2 L60.0 92.7 L60.5 93.2 L61.0 93.8 L61.4 94.2 L61.7 94.8 L62.0 95.5 L62.0 96.3 L61.8 97.0 L61.6 97.8 L61.7 98.7 L62.0 99.2 L63.0 99.1 L63.5 98.7 L64.0 98.0 L64.4 97.2 L64.6 96.5 L65.2 96.3 L65.8 96.6 L66.2 97.2 L66.7 97.8 L67.1 98.2 L67.6 98.8 L68.0 99.2 L68.4 99.8 L68.8 100.2 L69.1 100.8 L69.5 101.2 L69.8 101.8 L70.1 102.2 L70.5 102.9 L70.8 103.5 L71.2 104.2 L71.5 104.9 L71.8 105.5 L72.1 106.2 L72.4 107.0 L72.7 107.8 L72.9 108.5 L73.1 109.2 L73.3 110.0 L73.5 110.7 L73.7 111.5 L73.8 112.2 L73.9 113.0 L73.9 114.0 L73.9 115.0 L73.8 115.8 L73.7 116.5 L73.5 117.2 L73.3 118.0 L73.1 118.8 L72.9 119.5 L72.6 120.2 L72.3 121.0 L72.0 121.8 L71.8 122.3 L71.4 123.0 L71.0 123.8 L70.6 124.5 L70.2 125.2 L70.0 125.8 L69.6 126.5 L69.2 127.2 L69.0 127.8 L68.8 128.4 L68.5 129.0 L68.2 129.7 L68.0 130.5 L67.8 131.2 L67.7 132.0 L67.5 132.8 L67.4 133.5 L67.3 134.2 L67.1 135.0 L67.0 135.8 L66.9 136.5 L66.8 137.2 L66.7 138.0 L66.6 138.8 L66.5 139.5 L66.4 140.2 L66.3 141.0 L66.1 141.8 L66.0 142.5 L65.9 143.2 L65.8 143.5 M38.9 143.5 L38.9 142.5 L38.9 141.5 L39.0 140.5 L39.1 139.8 L39.1 139.0 L39.2 138.3 L39.4 137.5 L39.6 136.8 L39.7 136.0 L39.9 135.2 L40.1 134.5 L40.3 133.8 L40.5 133.0 L40.7 132.2 L40.8 131.5 L40.9 130.8 L41.0 130.0 L41.1 129.2 L41.2 128.5 L41.3 127.8 L41.4 127.0 L41.5 126.2 L41.7 125.5 L41.8 124.8 L42.0 124.0 L42.1 123.2 L42.3 122.5 L42.4 121.8 L42.6 121.0 L42.8 120.2 L43.0 119.5 L43.1 118.8 L43.3 118.0 L43.5 117.3 L43.7 116.5 L44.0 115.8 L44.2 115.0 L44.4 114.2 L44.6 113.5 L44.8 112.8 L45.0 112.1 L45.2 111.2 L45.4 110.5 L45.5 109.8 L45.6 109.0 L45.7 108.2 L45.8 107.5 L45.9 106.8 L45.9 106.0 L46.0 105.2 L46.0 104.5 L46.1 103.8 L46.2 103.0 L46.3 102.2 L46.3 101.5 L46.4 100.8 L46.5 100.0 L46.6 99.2 L46.7 98.5 L46.8 97.8 L46.9 97.0 L47.0 96.3 L47.1 95.5 L47.3 94.8 L47.5 94.0 L47.8 93.4 L48.2 92.8 L48.8 92.4 L49.5 92.6 L50.2 93.0 L51.0 93.1 L51.5 92.8 L52.0 92.4 L52.4 92.0 L53.0 91.6 L53.5 91.3 L54.1 91.0 L54.8 90.8 L55.8 90.8 L56.5 91.1 L57.2 91.5 L57.8 91.9 L58.2 92.2 L58.6 92.8 L59.0 93.2 L59.3 93.8 L59.7 94.5 L59.8 95.2 L59.9 96.2 L59.8 97.0 L59.6 97.8 L59.5 98.5 L59.3 99.2 L59.2 100.0 L59.1 100.8 L59.0 101.8 L59.2 102.5 L59.8 102.9 L60.5 103.1 L61.5 103.1 L62.2 103.0 L62.9 102.8 L63.5 102.5 L64.0 102.2 L64.8 101.8 L65.4 101.5 L66.2 101.4 L66.9 101.5 L67.5 101.7 L68.0 102.1 L68.5 102.5 L69.0 103.0 L69.5 103.5 L69.9 104.0 L70.3 104.5 L70.7 105.0 L71.0 105.5 L71.4 106.2 L71.8 106.9 L72.0 107.5 L72.4 108.2 L72.6 109.0 L72.9 109.8 L73.1 110.5 L73.2 111.2 L73.4 112.0 L73.5 112.8 L73.6 113.5 L73.6 114.5 L73.5 115.2 L73.5 116.0 L73.3 116.8 L73.1 117.5 L73.0 118.2 L72.8 118.9 L72.5 119.7 L72.2 120.4 L72.0 121.0 L71.8 121.6 L71.4 122.2 L71.0 123.0 L70.6 123.8 L70.2 124.4 L69.9 125.0 L69.6 125.8 L69.2 126.4 L69.0 127.0 L68.6 127.8 L68.3 128.5 L68.1 129.2 L67.8 130.0 L67.6 130.8 L67.5 131.5 L67.3 132.2 L67.2 133.0 L67.0 133.8 L66.9 134.5 L66.8 135.2 L66.7 136.0 L66.6 136.8 L66.5 137.5 L66.4 138.2 L66.3 139.0 L66.2 139.8 L66.0 140.5 L65.9 141.2 L65.8 142.0 L65.6 142.8 L65.5 143.5 L65.5 143.5 M54.5 91.8 L55.5 91.7 L56.2 91.9 L56.8 92.2 L57.4 92.8 L57.9 93.2 L58.2 93.8 L58.5 94.5 L58.7 95.2 L58.7 96.2 L58.6 97.0 L58.4 97.8 L58.1 98.5 L57.9 99.2 L57.5 100.0 L57.1 100.8 L56.7 101.2 L56.3 101.8 L55.8 102.2 L55.2 102.5 L54.4 102.5 L54.0 102.1 L53.7 101.5 L53.4 100.8 L53.1 100.0 L52.9 99.2 L52.7 98.5 L52.4 97.8 L52.2 97.1 L52.0 96.2 L51.9 95.5 L52.0 94.5 L52.2 93.8 L52.7 93.0 L53.1 92.5 L53.8 92.1 L54.5 91.8 L54.5 91.8 M39.2 143.5 L39.2 142.5 L39.2 141.5 L39.3 140.5 L39.4 139.8 L39.4 139.0 L39.6 138.2 L39.7 137.5 L39.9 136.8 L40.1 136.0 L40.2 135.3 L40.5 134.5 L40.7 133.8 L40.8 133.0 L41.0 132.2 L41.1 131.5 L41.2 130.8 L41.4 130.0 L41.5 129.2 L41.5 128.5 L41.6 127.8 L41.7 127.0 L41.8 126.2 L42.0 125.5 L42.1 124.7 L42.2 124.0 L42.4 123.2 L42.6 122.5 L42.7 121.8 L42.9 121.0 L43.1 120.2 L43.2 119.5 L43.4 118.8 L43.6 118.0 L43.8 117.2 L44.0 116.5 L44.2 115.8 L44.5 115.0 L44.7 114.2 L44.9 113.5 L45.1 112.8 L45.3 112.0 L45.5 111.3 L45.7 110.5 L45.8 109.8 L46.0 109.0 L46.1 108.2 L46.2 107.5 L46.2 106.8 L46.3 106.0 L46.4 105.2 L46.4 104.5 L46.5 103.8 L46.6 103.0 L46.7 102.2 L46.8 101.5 L46.9 100.8 L47.0 100.0 L47.1 99.2 L47.2 98.5 L47.4 97.8 L47.5 97.0 L47.6 96.2 L47.8 95.5 L48.0 94.9 L48.5 94.2 L49.2 94.5 L49.6 95.2 L49.6 96.0 L49.6 97.0 L49.5 98.0 L49.6 99.0 L49.7 99.8 L49.9 100.5 L50.1 101.2 L50.4 102.0 L50.8 102.6 L51.2 103.1 L52.0 103.5 L52.8 103.6 L53.8 103.6 L54.5 103.8 L55.0 104.2 L55.5 104.6 L56.0 104.9 L56.6 105.2 L57.5 105.5 L58.2 105.6 L59.2 105.5 L60.0 105.4 L60.8 105.3 L61.5 105.1 L62.2 105.0 L63.0 104.8 L63.7 104.5 L64.3 104.2 L64.9 104.0 L65.7 103.8 L66.5 103.6 L67.2 103.7 L68.0 104.0 L68.8 104.5 L69.2 104.8 L69.7 105.2 L70.2 105.8 L70.6 106.2 L71.0 106.8 L71.3 107.2 L71.7 108.0 L72.0 108.6 L72.2 109.2 L72.5 110.0 L72.7 110.8 L72.9 111.5 L73.1 112.2 L73.2 113.0 L73.3 113.8 L73.3 114.8 L73.2 115.5 L73.1 116.2 L73.0 117.0 L72.8 117.8 L72.6 118.5 L72.3 119.2 L72.1 120.0 L71.8 120.8 L71.5 121.3 L71.2 122.0 L70.8 122.8 L70.4 123.5 L70.0 124.1 L69.7 124.8 L69.3 125.5 L69.0 126.0 L68.7 126.8 L68.3 127.5 L68.0 128.2 L67.8 129.0 L67.6 129.8 L67.4 130.5 L67.2 131.2 L67.1 132.0 L66.9 132.8 L66.8 133.5 L66.7 134.2 L66.6 135.0 L66.5 135.8 L66.4 136.5 L66.2 137.2 L66.1 138.0 L66.0 138.8 L65.9 139.5 L65.8 140.2 L65.7 141.0 L65.5 141.8 L65.4 142.5 L65.3 143.2 L65.2 143.5 M54.6 92.8 L55.5 92.7 L56.2 93.0 L56.8 93.4 L57.2 94.0 L57.5 94.8 L57.6 95.5 L57.5 96.5 L57.3 97.2 L57.0 98.0 L56.7 98.5 L56.2 99.0 L55.8 99.3 L54.9 99.2 L54.3 98.8 L54.0 98.2 L53.6 97.5 L53.3 96.8 L53.1 96.0 L53.1 95.2 L53.1 94.5 L53.4 93.8 L53.8 93.3 L54.2 92.9 L54.6 92.8 M39.5 143.5 L39.5 142.5 L39.5 141.6 L39.5 140.8 L39.6 140.0 L39.7 139.2 L39.8 138.5 L40.0 137.8 L40.1 137.0 L40.3 136.2 L40.5 135.6 L40.7 134.8 L40.9 134.0 L41.1 133.2 L41.3 132.5 L41.4 131.8 L41.5 131.0 L41.6 130.2 L41.7 129.5 L41.8 128.8 L41.9 128.0 L42.0 127.2 L42.1 126.5 L42.2 125.8 L42.3 125.0 L42.5 124.2 L42.6 123.5 L42.8 122.8 L42.9 122.0 L43.1 121.2 L43.2 120.5 L43.4 119.8 L43.6 119.0 L43.8 118.2 L44.0 117.5 L44.2 116.8 L44.4 116.0 L44.7 115.2 L44.9 114.5 L45.1 113.8 L45.3 113.0 L45.6 112.2 L45.8 111.5 L46.0 110.8 L46.1 110.0 L46.2 109.3 L46.4 108.5 L46.5 107.8 L46.6 107.0 L46.7 106.2 L46.7 105.5 L46.8 104.8 L46.9 104.0 L47.0 103.2 L47.2 102.5 L47.3 101.8 L47.5 101.0 L47.8 100.3 L48.1 99.8 L48.6 100.2 L48.9 101.0 L49.2 101.8 L49.5 102.5 L49.8 103.2 L50.1 103.8 L50.4 104.3 L50.9 104.8 L51.5 105.1 L52.2 105.5 L52.8 105.8 L53.4 106.0 L54.0 106.3 L54.8 106.7 L55.5 107.0 L56.1 107.2 L57.0 107.5 L57.8 107.6 L58.7 107.5 L59.5 107.4 L60.2 107.2 L61.0 107.0 L61.8 106.8 L62.5 106.7 L63.2 106.5 L63.9 106.2 L64.6 106.0 L65.2 105.8 L65.8 105.5 L66.5 105.3 L67.5 105.3 L68.1 105.5 L68.7 105.8 L69.2 106.1 L69.7 106.5 L70.2 107.0 L70.7 107.5 L71.0 108.0 L71.4 108.5 L71.7 109.2 L72.0 109.8 L72.2 110.5 L72.5 111.2 L72.7 112.0 L72.8 112.8 L72.9 113.5 L73.0 114.5 L72.9 115.5 L72.8 116.2 L72.6 117.0 L72.5 117.8 L72.3 118.5 L72.0 119.2 L71.8 119.9 L71.5 120.5 L71.2 121.1 L70.9 121.8 L70.5 122.5 L70.1 123.2 L69.8 123.8 L69.4 124.5 L69.0 125.2 L68.7 125.8 L68.4 126.5 L68.0 127.2 L67.8 128.0 L67.5 128.8 L67.3 129.5 L67.1 130.2 L66.9 131.0 L66.8 131.8 L66.7 132.5 L66.6 133.2 L66.5 134.0 L66.4 134.8 L66.2 135.5 L66.1 136.2 L66.0 137.0 L65.9 137.8 L65.8 138.5 L65.7 139.2 L65.6 140.0 L65.4 140.8 L65.3 141.5 L65.2 142.2 L65.0 143.0 L64.9 143.5 M54.8 94.5 L55.7 94.5 L56.0 95.0 L56.1 95.8 L55.8 96.5 L54.8 96.2 L54.5 95.5 L54.6 94.8 L54.8 94.5 M39.7 143.5 L39.8 142.6 L39.8 141.8 L39.8 140.8 L39.9 140.0 L40.0 139.2 L40.1 138.5 L40.2 137.8 L40.4 137.0 L40.6 136.2 L40.8 135.5 L41.1 134.8 L41.2 134.0 L41.4 133.2 L41.6 132.5 L41.7 131.8 L41.9 131.0 L42.0 130.2 L42.0 129.5 L42.1 128.8 L42.2 128.0 L42.3 127.2 L42.4 126.5 L42.5 125.8 L42.6 125.0 L42.7 124.2 L42.9 123.5 L43.0 122.7 L43.2 122.0 L43.4 121.2 L43.5 120.5 L43.7 119.8 L43.9 119.0 L44.1 118.2 L44.3 117.5 L44.5 116.8 L44.7 116.0 L44.9 115.2 L45.2 114.5 L45.4 113.8 L45.6 113.0 L45.9 112.2 L46.1 111.5 L46.3 110.8 L46.5 110.0 L46.6 109.2 L46.8 108.5 L46.9 107.8 L47.0 107.0 L47.2 106.2 L47.3 105.5 L47.4 104.8 L47.6 104.0 L48.0 103.2 L48.7 103.5 L49.0 104.0 L49.3 104.5 L49.7 105.0 L50.1 105.5 L50.7 106.0 L51.2 106.3 L52.0 106.7 L52.7 107.0 L53.3 107.3 L54.0 107.7 L54.7 108.0 L55.2 108.3 L56.0 108.6 L56.8 108.9 L57.5 109.1 L58.2 109.2 L59.2 109.2 L60.0 109.1 L60.8 109.0 L61.5 108.8 L62.2 108.7 L62.9 108.5 L63.7 108.2 L64.2 108.0 L65.0 107.6 L65.6 107.2 L66.2 106.9 L67.0 106.7 L68.0 106.7 L68.8 106.9 L69.3 107.2 L70.0 107.8 L70.5 108.2 L70.8 108.8 L71.2 109.2 L71.5 109.9 L71.8 110.4 L72.0 111.0 L72.2 111.8 L72.4 112.5 L72.5 113.2 L72.6 114.0 L72.6 115.0 L72.6 115.8 L72.4 116.5 L72.3 117.2 L72.1 118.0 L71.8 118.8 L71.6 119.5 L71.2 120.2 L70.9 121.0 L70.5 121.7 L70.1 122.5 L69.8 123.0 L69.3 123.8 L69.0 124.3 L68.6 125.0 L68.3 125.8 L68.0 126.3 L67.8 126.9 L67.5 127.5 L67.3 128.2 L67.1 129.0 L66.9 129.8 L66.7 130.5 L66.6 131.2 L66.5 132.0 L66.4 132.8 L66.3 133.5 L66.2 134.2 L66.1 135.0 L66.0 135.8 L65.8 136.5 L65.7 137.2 L65.6 138.0 L65.5 138.8 L65.4 139.5 L65.3 140.2 L65.1 141.0 L65.0 141.8 L64.9 142.5 L64.7 143.2 L64.7 143.5 M40.0 143.5 L40.0 142.5 L40.1 141.5 L40.1 140.5 L40.2 139.8 L40.3 139.0 L40.5 138.2 L40.6 137.5 L40.8 136.8 L41.0 136.1 L41.2 135.2 L41.5 134.5 L41.7 133.8 L41.8 133.0 L42.0 132.2 L42.1 131.5 L42.2 130.8 L42.3 130.0 L42.4 129.2 L42.4 128.5 L42.5 127.8 L42.6 127.0 L42.7 126.2 L42.8 125.5 L42.9 124.8 L43.1 124.0 L43.2 123.2 L43.4 122.5 L43.5 121.8 L43.7 121.0 L43.8 120.2 L44.0 119.5 L44.2 118.8 L44.4 118.0 L44.6 117.2 L44.8 116.5 L45.0 115.9 L45.2 115.2 L45.4 114.5 L45.7 113.8 L45.9 113.0 L46.2 112.2 L46.4 111.5 L46.6 110.8 L46.9 110.0 L47.1 109.2 L47.2 108.5 L47.5 107.8 L47.7 107.0 L48.0 106.2 L48.5 105.9 L49.2 106.2 L49.8 106.6 L50.2 107.0 L51.0 107.4 L51.8 107.7 L52.5 108.0 L53.1 108.2 L53.8 108.6 L54.5 109.0 L55.0 109.2 L55.8 109.6 L56.5 110.0 L57.2 110.3 L58.0 110.6 L58.8 110.9 L59.5 111.0 L60.2 111.1 L61.3 111.1 L62.0 111.0 L62.8 110.9 L63.5 110.6 L64.1 110.2 L64.7 109.8 L65.2 109.3 L65.8 108.8 L66.2 108.4 L66.8 108.1 L67.5 107.9 L68.5 107.9 L69.2 108.2 L69.8 108.5 L70.2 109.0 L70.6 109.5 L71.0 110.0 L71.4 110.8 L71.7 111.5 L71.9 112.2 L72.1 113.0 L72.2 113.8 L72.3 114.8 L72.2 115.8 L72.1 116.5 L71.9 117.2 L71.8 118.0 L71.5 118.7 L71.2 119.3 L71.0 119.9 L70.7 120.5 L70.3 121.2 L70.0 121.8 L69.6 122.5 L69.3 123.0 L69.0 123.5 L68.5 124.2 L68.1 125.0 L67.8 125.8 L67.5 126.3 L67.2 127.0 L67.0 127.7 L66.8 128.5 L66.6 129.2 L66.5 129.9 L66.4 130.8 L66.3 131.5 L66.2 132.2 L66.1 133.0 L66.0 133.8 L65.9 134.5 L65.8 135.2 L65.7 136.0 L65.6 136.8 L65.5 137.5 L65.3 138.2 L65.2 139.0 L65.1 139.8 L65.0 140.5 L64.8 141.2 L64.7 142.0 L64.5 142.8 L64.4 143.5 L64.4 143.5 M40.3 143.5 L40.3 142.5 L40.4 141.5 L40.4 140.5 L40.5 139.8 L40.6 139.0 L40.8 138.3 L40.9 137.5 L41.1 136.8 L41.4 136.0 L41.6 135.2 L41.8 134.5 L42.0 133.8 L42.2 133.0 L42.3 132.2 L42.5 131.5 L42.6 130.8 L42.6 130.0 L42.7 129.2 L42.8 128.5 L42.8 127.8 L42.9 127.0 L43.0 126.2 L43.1 125.5 L43.2 124.8 L43.3 124.0 L43.5 123.2 L43.6 122.5 L43.8 121.8 L43.9 121.0 L44.1 120.2 L44.2 119.6 L44.4 118.8 L44.6 118.0 L44.8 117.2 L45.1 116.5 L45.3 115.8 L45.6 115.0 L45.8 114.2 L46.1 113.5 L46.4 112.8 L46.6 112.0 L46.9 111.2 L47.2 110.5 L47.4 109.8 L47.7 109.0 L48.0 108.5 L48.4 108.0 L49.0 107.8 L49.8 108.0 L50.5 108.2 L51.2 108.5 L52.0 108.7 L52.7 109.0 L53.3 109.2 L54.0 109.6 L54.7 110.0 L55.2 110.3 L56.0 110.7 L56.8 111.2 L57.3 111.5 L58.0 111.9 L58.7 112.2 L59.2 112.6 L60.0 112.9 L60.8 113.2 L61.5 113.4 L62.2 113.5 L63.0 113.4 L63.8 113.1 L64.2 112.7 L64.8 112.1 L65.2 111.5 L65.6 111.0 L65.9 110.5 L66.3 110.0 L66.8 109.6 L67.2 109.2 L68.0 108.9 L68.8 109.0 L69.3 109.2 L70.0 109.7 L70.4 110.2 L70.8 110.8 L71.2 111.5 L71.5 112.2 L71.7 113.0 L71.8 113.8 L71.9 114.5 L71.9 115.5 L71.8 116.2 L71.6 117.0 L71.4 117.8 L71.2 118.5 L70.9 119.2 L70.5 120.0 L70.2 120.5 L69.9 121.0 L69.6 121.5 L69.3 122.0 L68.9 122.5 L68.6 123.0 L68.3 123.5 L67.9 124.2 L67.5 124.9 L67.2 125.5 L67.0 126.1 L66.8 126.8 L66.6 127.5 L66.4 128.2 L66.3 129.0 L66.2 129.8 L66.1 130.5 L66.0 131.2 L65.9 132.0 L65.8 132.8 L65.8 133.5 L65.7 134.2 L65.6 135.0 L65.5 135.8 L65.4 136.5 L65.2 137.2 L65.1 138.0 L65.0 138.8 L64.9 139.5 L64.8 140.2 L64.6 141.0 L64.5 141.8 L64.3 142.5 L64.1 143.2 L64.1 143.5 M40.7 143.5 L40.6 142.5 L40.7 141.5 L40.7 140.5 L40.8 139.8 L40.9 139.0 L41.1 138.2 L41.2 137.5 L41.5 136.8 L41.7 136.0 L41.9 135.2 L42.2 134.5 L42.4 133.8 L42.5 133.0 L42.7 132.2 L42.8 131.5 L42.9 130.8 L43.0 130.0 L43.0 129.2 L43.1 128.5 L43.1 127.8 L43.2 127.0 L43.3 126.2 L43.4 125.5 L43.5 124.8 L43.6 124.0 L43.8 123.3 L43.9 122.5 L44.1 121.8 L44.2 121.0 L44.4 120.2 L44.5 119.5 L44.7 118.8 L44.9 118.0 L45.1 117.2 L45.4 116.5 L45.6 115.8 L45.9 115.0 L46.1 114.2 L46.4 113.5 L46.7 112.8 L47.0 112.0 L47.2 111.4 L47.6 110.8 L48.0 110.0 L48.4 109.5 L49.0 109.1 L50.0 109.1 L50.8 109.2 L51.5 109.4 L52.2 109.7 L53.0 109.9 L53.6 110.2 L54.2 110.6 L55.0 111.0 L55.5 111.3 L56.0 111.6 L56.5 112.0 L57.0 112.3 L57.5 112.7 L58.0 113.0 L58.5 113.4 L59.0 113.8 L59.5 114.2 L60.0 114.6 L60.4 115.0 L61.0 115.5 L61.5 116.0 L62.0 116.5 L62.5 117.0 L63.0 117.5 L63.5 117.8 L64.2 117.7 L64.7 117.0 L64.9 116.2 L65.1 115.5 L65.2 114.8 L65.5 114.0 L65.8 113.3 L66.0 112.7 L66.3 112.0 L66.8 111.3 L67.2 110.8 L67.8 110.3 L68.5 110.1 L69.2 110.2 L69.8 110.6 L70.2 111.0 L70.5 111.5 L70.9 112.2 L71.2 113.0 L71.4 113.8 L71.5 114.5 L71.5 115.5 L71.4 116.2 L71.2 117.0 L71.0 117.7 L70.8 118.4 L70.4 119.0 L70.0 119.8 L69.7 120.2 L69.3 120.8 L68.9 121.2 L68.5 121.7 L68.1 122.2 L67.7 122.8 L67.4 123.2 L67.0 124.0 L66.8 124.7 L66.5 125.2 L66.3 126.0 L66.2 126.8 L66.0 127.5 L65.9 128.2 L65.9 129.0 L65.8 129.8 L65.7 130.5 L65.7 131.2 L65.6 132.0 L65.6 132.8 L65.5 133.5 L65.4 134.2 L65.3 135.0 L65.2 135.8 L65.1 136.5 L65.0 137.2 L64.9 138.0 L64.8 138.8 L64.7 139.5 L64.5 140.2 L64.4 141.0 L64.2 141.8 L64.0 142.5 L63.8 143.2 L63.8 143.5 M68.1 111.5 L68.8 111.3 L69.4 111.5 L70.0 112.0 L70.3 112.5 L70.7 113.2 L70.9 114.0 L71.0 114.8 L70.9 115.8 L70.8 116.5 L70.6 117.2 L70.3 118.0 L69.8 118.8 L69.3 119.2 L68.8 119.6 L67.8 119.5 L67.4 119.0 L67.1 118.2 L66.9 117.5 L66.8 116.8 L66.7 116.0 L66.7 115.0 L66.8 114.2 L66.9 113.5 L67.2 112.8 L67.5 112.1 L68.0 111.6 L68.1 111.5 M41.0 143.5 L41.0 142.5 L41.0 141.5 L41.0 140.5 L41.1 139.8 L41.2 139.0 L41.4 138.2 L41.6 137.5 L41.8 136.8 L42.0 136.0 L42.2 135.4 L42.4 134.8 L42.7 134.0 L42.8 133.2 L43.0 132.5 L43.1 131.8 L43.2 131.0 L43.3 130.2 L43.3 129.5 L43.4 128.5 L43.4 127.8 L43.5 127.0 L43.6 126.2 L43.7 125.5 L43.8 124.8 L43.9 124.0 L44.0 123.3 L44.2 122.5 L44.3 121.8 L44.5 121.0 L44.7 120.2 L44.8 119.5 L45.0 118.8 L45.2 118.0 L45.4 117.2 L45.6 116.5 L45.9 115.8 L46.2 115.0 L46.5 114.2 L46.8 113.6 L47.0 113.0 L47.4 112.2 L47.8 111.6 L48.1 111.0 L48.6 110.5 L49.2 110.2 L50.0 110.1 L51.0 110.2 L51.8 110.3 L52.4 110.5 L53.0 110.7 L53.6 111.0 L54.2 111.4 L54.9 111.8 L55.5 112.1 L56.0 112.5 L56.5 112.9 L57.0 113.2 L57.5 113.7 L58.0 114.1 L58.4 114.5 L58.9 115.0 L59.4 115.5 L59.8 116.0 L60.1 116.5 L60.5 117.0 L60.8 117.5 L61.1 118.0 L61.4 118.5 L61.8 119.0 L62.1 119.5 L62.5 120.0 L63.0 120.5 L63.5 121.0 L64.0 121.4 L64.5 121.8 L65.0 122.4 L65.3 123.0 L65.5 123.8 L65.5 124.8 L65.5 125.8 L65.4 126.8 L65.4 127.8 L65.4 128.8 L65.4 129.8 L65.4 130.8 L65.3 131.8 L65.3 132.8 L65.2 133.5 L65.2 134.2 L65.1 135.0 L65.0 135.8 L64.9 136.5 L64.8 137.2 L64.7 138.0 L64.5 138.8 L64.4 139.5 L64.3 140.2 L64.1 141.0 L63.9 141.8 L63.8 142.4 L63.5 143.2 L63.4 143.5 M68.8 113.0 L69.5 113.2 L69.9 113.8 L70.2 114.5 L70.2 115.2 L70.1 116.0 L69.9 116.8 L69.5 117.2 L68.8 117.3 L68.3 116.8 L68.1 116.0 L68.0 115.2 L68.0 114.4 L68.2 113.8 L68.5 113.2 L68.8 113.0 M41.4 143.5 L41.3 142.8 L41.3 141.8 L41.3 140.8 L41.4 140.0 L41.5 139.2 L41.7 138.5 L41.9 137.8 L42.1 137.0 L42.3 136.2 L42.6 135.5 L42.8 134.8 L43.0 134.1 L43.2 133.2 L43.4 132.5 L43.5 131.8 L43.6 131.0 L43.6 130.2 L43.7 129.2 L43.7 128.2 L43.8 127.2 L43.9 126.5 L43.9 125.8 L44.0 125.0 L44.2 124.2 L44.3 123.5 L44.4 122.8 L44.6 122.0 L44.7 121.2 L44.9 120.5 L45.1 119.8 L45.2 119.0 L45.4 118.2 L45.6 117.5 L45.9 116.8 L46.1 116.0 L46.4 115.2 L46.7 114.5 L47.1 113.8 L47.5 113.0 L47.8 112.5 L48.2 112.0 L48.7 111.5 L49.2 111.2 L50.0 111.0 L50.8 111.0 L51.5 111.0 L52.2 111.2 L53.0 111.5 L53.6 111.8 L54.2 112.1 L54.8 112.4 L55.2 112.7 L55.8 113.1 L56.2 113.5 L56.8 113.9 L57.2 114.4 L57.8 114.9 L58.2 115.5 L58.7 116.0 L59.0 116.5 L59.4 117.0 L59.7 117.5 L60.0 118.0 L60.3 118.5 L60.6 119.0 L60.9 119.5 L61.3 120.0 L61.7 120.5 L62.1 121.0 L62.5 121.5 L62.9 122.0 L63.2 122.5 L63.6 123.0 L64.0 123.8 L64.2 124.4 L64.5 125.2 L64.6 126.0 L64.7 126.8 L64.8 127.5 L64.9 128.2 L64.9 129.0 L65.0 130.0 L65.0 131.0 L65.0 132.0 L65.0 133.0 L64.9 134.0 L64.8 134.8 L64.8 135.5 L64.7 136.2 L64.6 137.0 L64.5 137.8 L64.3 138.5 L64.2 139.2 L64.1 140.0 L63.9 140.8 L63.7 141.5 L63.5 142.2 L63.2 143.0 L63.1 143.5 M41.9 143.5 L41.8 142.8 L41.7 142.0 L41.7 141.0 L41.8 140.1 L41.9 139.2 L42.0 138.5 L42.2 137.8 L42.5 137.0 L42.7 136.2 L43.0 135.5 L43.2 134.8 L43.4 134.0 L43.6 133.2 L43.7 132.5 L43.8 131.8 L43.9 131.0 L44.0 130.2 L44.0 129.2 L44.1 128.2 L44.1 127.2 L44.2 126.5 L44.3 125.8 L44.4 125.0 L44.5 124.2 L44.6 123.5 L44.7 122.8 L44.9 122.0 L45.0 121.2 L45.2 120.5 L45.4 119.8 L45.5 119.0 L45.7 118.2 L46.0 117.5 L46.2 116.8 L46.5 116.0 L46.8 115.4 L47.1 114.8 L47.5 114.0 L47.8 113.5 L48.2 113.0 L48.7 112.5 L49.2 112.1 L50.0 111.9 L50.8 111.8 L51.8 111.9 L52.5 112.1 L53.2 112.3 L54.0 112.7 L54.8 113.2 L55.3 113.5 L55.8 113.9 L56.2 114.4 L56.7 114.8 L57.2 115.4 L57.8 116.0 L58.2 116.5 L58.5 117.0 L58.8 117.5 L59.1 118.0 L59.4 118.5 L59.8 119.0 L60.2 119.8 L60.6 120.2 L60.9 120.8 L61.3 121.2 L61.7 121.8 L62.1 122.2 L62.4 122.8 L62.7 123.2 L63.1 124.0 L63.4 124.8 L63.7 125.5 L63.9 126.2 L64.0 127.0 L64.2 127.7 L64.3 128.5 L64.5 129.2 L64.5 130.0 L64.6 130.8 L64.7 131.8 L64.7 132.8 L64.7 133.8 L64.6 134.5 L64.5 135.2 L64.4 136.0 L64.4 136.8 L64.2 137.5 L64.1 138.2 L64.0 139.0 L63.9 139.8 L63.7 140.5 L63.5 141.2 L63.2 142.0 L63.0 142.6 L62.7 143.2 L62.6 143.5 M55.3 143.5 L54.5 143.3 L53.8 143.1 L53.0 143.0 L52.0 143.0 L51.2 143.2 L50.5 143.4 L50.2 143.5 M51.8 121.9 L51.4 122.5 L51.2 123.2 L51.3 124.0 L51.8 124.7 L52.4 124.2 L52.7 123.5 L52.6 122.5 L52.2 121.9 L51.8 121.9 M42.4 143.5 L42.2 142.8 L42.1 142.0 L42.1 141.0 L42.1 140.0 L42.2 139.2 L42.4 138.5 L42.6 137.8 L42.8 137.0 L43.1 136.2 L43.4 135.5 L43.6 134.8 L43.8 134.0 L44.0 133.2 L44.1 132.5 L44.2 131.8 L44.3 131.0 L44.4 130.0 L44.4 129.0 L44.4 128.0 L44.5 127.0 L44.5 126.2 L44.6 125.5 L44.7 124.8 L44.9 124.0 L45.0 123.2 L45.1 122.5 L45.3 121.8 L45.4 121.0 L45.6 120.2 L45.8 119.6 L46.0 118.8 L46.2 118.0 L46.4 117.2 L46.7 116.5 L47.0 115.9 L47.3 115.2 L47.8 114.5 L48.2 114.0 L48.7 113.5 L49.2 113.1 L50.0 112.8 L50.8 112.7 L51.8 112.7 L52.5 112.9 L53.2 113.2 L53.9 113.5 L54.5 113.8 L55.0 114.2 L55.5 114.6 L56.0 115.0 L56.4 115.5 L56.9 116.0 L57.2 116.4 L57.7 117.0 L58.0 117.5 L58.3 118.0 L58.6 118.5 L59.0 119.0 L59.3 119.5 L59.6 120.0 L60.0 120.5 L60.4 121.0 L60.7 121.5 L61.1 122.0 L61.5 122.5 L61.8 123.0 L62.1 123.5 L62.5 124.2 L62.8 124.9 L63.0 125.5 L63.2 126.2 L63.4 127.0 L63.6 127.8 L63.8 128.5 L64.0 129.2 L64.1 130.0 L64.2 130.8 L64.3 131.5 L64.4 132.5 L64.4 133.5 L64.3 134.5 L64.3 135.2 L64.2 136.0 L64.1 136.8 L64.0 137.5 L63.9 138.2 L63.8 139.0 L63.6 139.8 L63.4 140.5 L63.2 141.2 L62.9 142.0 L62.5 142.7 L62.2 143.2 L62.0 143.5 M57.9 143.5 L57.3 143.2 L56.5 143.0 L55.8 142.8 L55.0 142.6 L54.2 142.4 L53.5 142.3 L52.8 142.2 L51.8 142.2 L51.0 142.3 L50.2 142.6 L49.5 142.9 L49.0 143.2 L48.6 143.5 M51.8 119.7 L51.0 120.2 L50.7 120.8 L50.4 121.5 L50.3 122.2 L50.2 123.0 L50.2 124.0 L50.3 124.8 L50.4 125.5 L50.6 126.2 L50.8 127.0 L51.2 127.5 L52.0 127.3 L52.5 126.8 L53.0 126.2 L53.3 125.8 L53.6 125.0 L53.8 124.2 L53.9 123.5 L53.9 122.5 L53.8 121.8 L53.5 121.0 L53.0 120.2 L52.5 119.8 L51.8 119.7 L51.8 119.7 M50.8 132.2 L50.5 132.8 L50.8 132.2 L50.8 132.2 M43.1 143.5 L42.8 142.8 L42.6 142.0 L42.5 141.2 L42.5 140.2 L42.6 139.5 L42.7 138.8 L42.9 138.0 L43.2 137.2 L43.4 136.5 L43.7 135.8 L43.9 135.0 L44.2 134.2 L44.4 133.5 L44.5 132.8 L44.6 132.0 L44.7 131.2 L44.8 130.3 L44.8 129.5 L44.8 128.5 L44.8 127.5 L44.9 126.5 L45.0 125.8 L45.1 125.0 L45.2 124.2 L45.3 123.5 L45.5 122.8 L45.6 122.0 L45.8 121.2 L45.9 120.5 L46.1 119.8 L46.3 119.0 L46.5 118.3 L46.8 117.6 L47.0 117.0 L47.4 116.2 L47.8 115.6 L48.2 115.0 L48.7 114.5 L49.2 114.1 L50.0 113.8 L50.8 113.7 L51.8 113.7 L52.5 113.8 L53.2 114.1 L54.0 114.5 L54.5 114.8 L55.0 115.2 L55.5 115.6 L56.0 116.1 L56.5 116.7 L56.9 117.2 L57.3 117.8 L57.6 118.3 L58.0 118.7 L58.3 119.2 L58.7 119.8 L59.0 120.2 L59.4 120.8 L59.8 121.2 L60.2 121.7 L60.6 122.2 L60.9 122.8 L61.3 123.2 L61.6 123.8 L62.0 124.5 L62.2 125.2 L62.5 125.8 L62.7 126.5 L62.9 127.2 L63.1 128.0 L63.3 128.8 L63.5 129.4 L63.7 130.2 L63.8 131.0 L63.9 131.8 L64.0 132.5 L64.0 133.5 L64.0 134.5 L64.0 135.5 L63.9 136.2 L63.8 137.0 L63.7 137.8 L63.6 138.5 L63.4 139.2 L63.2 139.9 L63.0 140.7 L62.8 141.3 L62.4 142.0 L62.0 142.5 L61.5 143.0 L60.8 143.2 L59.8 143.1 L59.0 142.9 L58.2 142.7 L57.5 142.4 L56.9 142.2 L56.0 142.0 L55.2 141.8 L54.5 141.7 L53.8 141.5 L53.0 141.4 L52.2 141.3 L51.2 141.4 L50.5 141.6 L49.8 141.9 L49.2 142.2 L48.5 142.7 L48.0 143.1 L47.5 143.4 L47.4 143.5 M51.8 117.9 L51.1 118.2 L50.6 118.8 L50.3 119.2 L50.0 119.8 L49.8 120.5 L49.6 121.2 L49.5 122.0 L49.5 123.0 L49.5 124.0 L49.5 125.0 L49.6 125.8 L49.7 126.5 L49.7 127.2 L49.7 128.2 L49.7 129.0 L49.6 129.8 L49.4 130.5 L49.2 131.2 L49.1 132.0 L49.0 132.8 L49.0 133.8 L49.2 134.5 L49.5 135.1 L50.0 135.7 L50.8 136.0 L51.4 135.8 L52.0 135.2 L52.3 134.8 L52.7 134.0 L52.8 133.2 L52.8 132.2 L52.7 131.5 L52.7 130.8 L52.7 129.8 L52.9 129.0 L53.2 128.3 L53.6 127.7 L54.0 127.0 L54.2 126.4 L54.5 125.8 L54.6 125.0 L54.7 124.2 L54.8 123.5 L54.8 122.5 L54.7 121.5 L54.6 120.8 L54.4 120.0 L54.0 119.3 L53.6 118.8 L53.0 118.3 L52.4 118.0 L51.8 117.9 M44.4 143.5 L43.8 143.0 L43.4 142.5 L43.1 141.8 L43.0 141.0 L43.0 140.1 L43.1 139.2 L43.2 138.5 L43.4 137.8 L43.7 137.0 L43.9 136.2 L44.2 135.5 L44.5 134.8 L44.7 134.0 L44.9 133.2 L45.0 132.5 L45.1 131.8 L45.2 130.8 L45.2 129.8 L45.2 128.8 L45.2 127.8 L45.3 126.8 L45.4 126.0 L45.4 125.2 L45.6 124.5 L45.7 123.8 L45.8 123.0 L46.0 122.3 L46.2 121.5 L46.4 120.8 L46.6 120.0 L46.7 119.2 L47.0 118.5 L47.2 117.8 L47.7 117.0 L48.0 116.5 L48.4 116.0 L49.0 115.6 L49.7 115.2 L50.5 115.1 L51.5 115.0 L52.2 115.1 L53.0 115.3 L53.8 115.7 L54.2 116.0 L54.8 116.4 L55.2 116.8 L55.7 117.2 L56.1 117.8 L56.5 118.2 L56.9 118.8 L57.3 119.2 L57.7 119.8 L58.2 120.2 L58.6 120.8 L59.1 121.2 L59.5 121.8 L59.9 122.2 L60.3 122.8 L60.6 123.2 L61.0 123.8 L61.2 124.3 L61.6 125.0 L61.9 125.8 L62.2 126.5 L62.4 127.2 L62.6 128.0 L62.8 128.8 L63.0 129.5 L63.2 130.2 L63.4 131.0 L63.5 131.8 L63.6 132.5 L63.7 133.2 L63.7 134.2 L63.7 135.2 L63.6 136.0 L63.6 136.8 L63.5 137.5 L63.3 138.2 L63.2 139.0 L63.0 139.7 L62.8 140.4 L62.5 141.0 L62.1 141.5 L61.8 141.9 L61.2 142.2 L60.5 142.4 L59.8 142.3 L59.0 142.1 L58.2 141.8 L57.5 141.6 L56.8 141.4 L56.0 141.2 L55.2 141.0 L54.5 140.9 L53.8 140.7 L53.0 140.5 L52.2 140.4 L51.2 140.4 L50.5 140.5 L49.8 140.9 L49.2 141.3 L48.8 141.6 L48.3 142.0 L47.8 142.4 L47.2 142.8 L46.8 143.1 L46.0 143.5 L45.9 143.5 M48.2 118.2 L48.9 118.5 L48.9 119.2 L48.8 120.0 L48.7 120.8 L48.7 121.8 L48.7 122.8 L48.7 123.8 L48.8 124.5 L48.8 125.2 L48.9 126.0 L48.9 127.0 L48.9 128.0 L48.8 128.8 L48.7 129.5 L48.6 130.2 L48.4 131.0 L48.2 131.8 L48.1 132.5 L48.1 133.5 L48.2 134.2 L48.5 135.0 L48.8 135.7 L49.1 136.5 L49.5 137.1 L49.9 137.8 L50.1 138.5 L49.9 139.2 L49.5 139.8 L49.1 140.2 L48.6 140.8 L48.1 141.2 L47.5 141.7 L47.0 142.1 L46.3 142.5 L45.5 142.7 L44.8 142.6 L44.2 142.3 L43.9 141.8 L43.6 141.0 L43.5 140.2 L43.6 139.2 L43.7 138.5 L43.9 137.8 L44.2 137.0 L44.4 136.2 L44.7 135.5 L45.0 134.8 L45.2 134.1 L45.5 133.2 L45.6 132.5 L45.7 131.8 L45.7 130.8 L45.7 129.8 L45.7 128.8 L45.7 127.8 L45.8 126.8 L45.8 126.0 L45.9 125.2 L46.1 124.5 L46.2 123.8 L46.4 123.0 L46.6 122.2 L46.9 121.5 L47.1 120.8 L47.4 120.0 L47.7 119.2 L48.0 118.5 L48.2 118.2 M56.1 120.8 L56.8 120.5 L57.3 120.8 L58.0 121.2 L58.5 121.6 L59.0 122.1 L59.5 122.7 L60.0 123.2 L60.3 123.8 L60.6 124.2 L61.0 124.9 L61.3 125.5 L61.6 126.2 L61.8 127.0 L62.1 127.8 L62.2 128.4 L62.5 129.2 L62.7 130.0 L62.9 130.8 L63.0 131.5 L63.2 132.2 L63.3 133.0 L63.3 133.8 L63.4 134.8 L63.3 135.8 L63.3 136.5 L63.2 137.2 L63.1 138.0 L62.9 138.8 L62.7 139.5 L62.4 140.2 L62.1 140.8 L61.6 141.2 L61.0 141.5 L60.0 141.5 L59.2 141.3 L58.5 141.1 L57.8 140.8 L57.0 140.6 L56.3 140.4 L55.5 140.2 L54.8 140.0 L54.0 139.8 L53.4 139.5 L52.8 139.1 L52.2 138.8 L52.0 138.2 L52.2 137.5 L52.5 137.0 L52.9 136.5 L53.2 136.0 L53.7 135.5 L54.2 135.0 L55.0 134.7 L55.7 134.5 L56.2 134.2 L56.6 133.5 L56.6 132.5 L56.4 131.8 L56.0 131.0 L55.6 130.2 L55.3 129.5 L55.2 128.8 L55.2 127.8 L55.3 127.0 L55.4 126.2 L55.4 125.5 L55.5 124.8 L55.5 124.0 L55.6 123.2 L55.7 122.5 L55.8 121.8 L56.0 121.0 L56.1 120.8 M56.9 122.5 L57.5 122.3 L58.2 122.5 L58.8 122.9 L59.2 123.2 L59.6 123.8 L60.0 124.2 L60.3 124.8 L60.7 125.5 L61.0 126.2 L61.2 126.8 L61.5 127.5 L61.7 128.2 L61.9 129.0 L62.1 129.8 L62.3 130.5 L62.5 131.2 L62.7 132.0 L62.8 132.8 L62.9 133.5 L63.0 134.2 L63.0 135.2 L63.0 136.2 L62.9 137.0 L62.8 137.8 L62.6 138.5 L62.3 139.2 L62.0 139.9 L61.5 140.5 L60.9 140.8 L60.0 140.7 L59.3 140.5 L58.8 140.3 L58.2 140.0 L57.6 139.8 L57.0 139.5 L56.4 139.2 L55.9 139.0 L55.2 138.6 L54.8 138.0 L55.0 137.3 L55.5 136.9 L56.2 136.6 L56.8 136.3 L57.2 135.8 L57.5 135.2 L57.7 134.5 L57.7 133.8 L57.7 132.8 L57.5 132.0 L57.3 131.2 L57.1 130.5 L56.9 129.8 L56.6 129.0 L56.5 128.2 L56.3 127.5 L56.3 126.8 L56.2 125.8 L56.3 124.8 L56.4 124.0 L56.5 123.2 L56.9 122.5 L56.9 122.5 M47.2 124.2 L47.8 124.6 L48.0 125.5 L48.0 126.2 L48.1 127.2 L48.0 128.2 L47.8 129.0 L47.6 129.8 L47.2 130.4 L46.7 130.0 L46.5 129.2 L46.5 128.5 L46.4 127.5 L46.5 126.6 L46.6 125.8 L46.8 125.0 L47.2 124.2 L47.2 124.2 M46.7 133.8 L47.2 134.2 L47.5 135.0 L47.8 135.6 L48.0 136.1 L48.2 136.8 L48.5 137.5 L48.6 138.2 L48.6 139.0 L48.3 139.8 L48.0 140.2 L47.5 140.8 L47.0 141.2 L46.5 141.5 L45.9 141.8 L45.0 141.7 L44.5 141.3 L44.2 140.7 L44.1 140.0 L44.2 139.0 L44.3 138.2 L44.5 137.6 L44.8 136.9 L45.0 136.3 L45.3 135.8 L45.7 135.0 L46.0 134.4 L46.5 133.8 L46.7 133.8 M58.0 123.8 L58.8 124.0 L59.2 124.4 L59.7 125.0 L60.1 125.5 L60.4 126.2 L60.7 127.0 L61.0 127.7 L61.2 128.5 L61.5 129.2 L61.7 130.0 L61.9 130.8 L62.1 131.5 L62.2 132.2 L62.4 133.0 L62.5 133.8 L62.6 134.5 L62.6 135.5 L62.5 136.5 L62.4 137.2 L62.3 138.0 L62.0 138.8 L61.5 139.5 L61.0 139.9 L60.0 139.8 L59.3 139.5 L58.8 139.1 L58.3 138.5 L58.0 137.8 L58.1 137.0 L58.2 136.2 L58.4 135.5 L58.5 134.8 L58.5 133.9 L58.4 133.0 L58.3 132.2 L58.1 131.5 L58.0 130.8 L57.8 130.0 L57.5 129.2 L57.4 128.5 L57.2 127.8 L57.1 127.0 L57.1 126.0 L57.2 125.0 L57.4 124.2 L58.0 123.8 L58.0 123.8 M46.1 136.2 L47.0 136.5 L47.3 137.0 L47.5 137.8 L47.6 138.5 L47.4 139.2 L47.0 140.0 L46.5 140.4 L45.8 140.6 L45.1 140.2 L44.9 139.5 L44.9 138.5 L45.2 137.8 L45.5 137.0 L45.9 136.5 L46.1 136.2 M58.3 125.8 L59.1 125.8 L59.5 126.2 L59.9 126.8 L60.2 127.5 L60.5 128.2 L60.8 129.0 L61.0 129.8 L61.2 130.5 L61.4 131.2 L61.6 132.0 L61.7 132.8 L61.9 133.5 L62.0 134.2 L62.0 135.0 L62.1 136.0 L62.0 136.8 L61.8 137.5 L61.5 138.2 L61.0 138.8 L60.2 138.8 L59.8 138.4 L59.3 137.8 L59.2 137.0 L59.2 136.0 L59.2 135.0 L59.2 134.0 L59.2 133.2 L59.1 132.5 L58.9 131.8 L58.8 131.0 L58.6 130.2 L58.4 129.5 L58.2 128.8 L58.1 128.0 L58.0 127.2 L58.1 126.2 L58.3 125.8 M60.5 133.5 L60.8 134.0 L61.0 134.8 L61.1 135.5 L61.0 136.2 L60.4 136.0 L60.4 135.2 L60.4 134.2 L60.5 133.5 L60.5 133.5" fill="none" stroke="#1c1c1c" stroke-width="0.55"/><g fill="none" stroke="#000" stroke-linecap="round" stroke-linejoin="round" filter="url(#bl)"><path d="M46 108 L44.6 117 L43 127 L41.5 137" stroke-width="2.6" opacity="0.42"/><path d="M47.5 122 L46.5 138" stroke-width="3.4" opacity="0.40"/><path d="M70.8 109 L70.6 116" stroke-width="2.6" opacity="0.35"/><path d="M62.5 128 L60.8 138" stroke-width="2.2" opacity="0.30"/></g><circle cx="57.3" cy="79.4" r="0.7" fill="#444"/><path d="M45.6 143.2 A8 4.4 0 0 1 61.6 143.2 Z" fill="#bdbdbd" stroke="#000" stroke-width="1.4"/></g>
<g id="contours2"><circle cx="185.8" cy="57.1" r="0.45" fill="#9a9a9a"/><circle cx="177.9" cy="65.4" r="0.45" fill="#9a9a9a"/><circle cx="189.4" cy="58.7" r="0.45" fill="#9a9a9a"/><circle cx="183.6" cy="42.0" r="0.45" fill="#9a9a9a"/><circle cx="180.7" cy="76.9" r="0.45" fill="#9a9a9a"/><circle cx="183.9" cy="39.8" r="0.45" fill="#9a9a9a"/><circle cx="200.7" cy="67.4" r="0.45" fill="#9a9a9a"/><circle cx="209.2" cy="60.9" r="0.45" fill="#9a9a9a"/><circle cx="180.9" cy="39.7" r="0.45" fill="#9a9a9a"/><circle cx="200.6" cy="96.0" r="0.45" fill="#9a9a9a"/><circle cx="177.0" cy="50.9" r="0.45" fill="#9a9a9a"/><circle cx="192.6" cy="48.4" r="0.45" fill="#9a9a9a"/><circle cx="183.0" cy="55.1" r="0.45" fill="#9a9a9a"/><circle cx="188.1" cy="75.3" r="0.45" fill="#9a9a9a"/><circle cx="186.2" cy="72.9" r="0.45" fill="#9a9a9a"/><circle cx="181.4" cy="64.6" r="0.45" fill="#9a9a9a"/><circle cx="162.5" cy="39.7" r="0.45" fill="#9a9a9a"/><circle cx="194.8" cy="51.7" r="0.45" fill="#9a9a9a"/><circle cx="192.4" cy="67.6" r="0.45" fill="#9a9a9a"/><circle cx="200.5" cy="71.4" r="0.45" fill="#9a9a9a"/><circle cx="197.2" cy="58.4" r="0.45" fill="#9a9a9a"/><circle cx="178.3" cy="49.8" r="0.45" fill="#9a9a9a"/><circle cx="180.6" cy="44.2" r="0.45" fill="#9a9a9a"/><circle cx="180.0" cy="58.7" r="0.45" fill="#9a9a9a"/><circle cx="188.8" cy="55.3" r="0.45" fill="#9a9a9a"/><circle cx="164.8" cy="59.0" r="0.45" fill="#9a9a9a"/><circle cx="188.5" cy="75.2" r="0.45" fill="#9a9a9a"/><circle cx="192.4" cy="51.0" r="0.45" fill="#9a9a9a"/><circle cx="178.0" cy="88.1" r="0.45" fill="#9a9a9a"/><circle cx="194.3" cy="85.6" r="0.45" fill="#9a9a9a"/><circle cx="207.6" cy="108.2" r="0.45" fill="#9a9a9a"/><circle cx="186.6" cy="123.5" r="0.45" fill="#9a9a9a"/><circle cx="188.7" cy="124.5" r="0.45" fill="#9a9a9a"/><circle cx="184.4" cy="120.1" r="0.45" fill="#9a9a9a"/><circle cx="164.0" cy="116.0" r="0.45" fill="#9a9a9a"/><circle cx="173.0" cy="119.5" r="0.45" fill="#9a9a9a"/><circle cx="176.4" cy="125.4" r="0.45" fill="#9a9a9a"/><circle cx="191.8" cy="121.7" r="0.45" fill="#9a9a9a"/><circle cx="185.8" cy="119.1" r="0.45" fill="#9a9a9a"/><circle cx="176.6" cy="116.0" r="0.45" fill="#9a9a9a"/><circle cx="176.1" cy="122.7" r="0.45" fill="#9a9a9a"/><circle cx="182.2" cy="125.0" r="0.45" fill="#9a9a9a"/><circle cx="166.1" cy="128.7" r="0.45" fill="#9a9a9a"/><circle cx="172.8" cy="109.2" r="0.45" fill="#9a9a9a"/><circle cx="179.6" cy="111.2" r="0.45" fill="#9a9a9a"/><circle cx="185.5" cy="111.1" r="0.45" fill="#9a9a9a"/><circle cx="169.2" cy="107.9" r="0.45" fill="#9a9a9a"/><circle cx="197.7" cy="118.5" r="0.45" fill="#9a9a9a"/><circle cx="168.0" cy="118.1" r="0.45" fill="#9a9a9a"/><circle cx="163.3" cy="139.5" r="0.45" fill="#9a9a9a"/><circle cx="163.7" cy="123.7" r="0.45" fill="#9a9a9a"/><circle cx="188.5" cy="100.6" r="0.45" fill="#9a9a9a"/><path d="M167.0 143.5 L166.9 142.8 L166.8 142.0 L166.8 141.3 L166.7 140.5 L166.6 139.8 L166.6 139.0 L166.5 138.2 L166.4 137.5 L166.4 136.8 L166.3 136.0 L166.2 135.2 L166.2 134.5 L166.1 133.8 L166.0 133.0 L165.9 132.2 L165.9 131.5 L165.8 130.8 L165.7 130.0 L165.7 129.2 L165.6 128.5 L165.5 127.8 L165.5 127.0 L165.4 126.2 L165.4 125.5 L165.3 124.8 L165.2 124.0 L165.2 123.2 L165.1 122.5 L165.1 121.8 L165.0 121.0 L164.9 120.2 L164.9 119.2 L164.8 118.2 L164.8 117.2 L164.9 116.2 L164.9 115.5 L165.0 114.8 L165.0 114.0 L165.1 113.0 L165.1 112.0 L165.2 111.0 L165.2 110.0 L165.2 109.0 L165.2 108.0 L165.2 107.0 L165.2 106.0 L165.3 105.0 L165.3 104.0 L165.3 103.0 L165.3 102.0 L165.3 101.0 L165.3 100.0 L165.3 99.0 L165.3 98.0 L165.4 97.2 L165.4 96.5 L165.5 95.5 L165.5 94.5 L165.5 93.5 L165.6 92.8 L165.7 92.0 L165.7 91.0 L165.7 90.0 L165.8 89.0 L165.9 88.2 L165.9 87.5 L166.0 86.5 L166.0 85.6 L166.0 84.8 L166.1 84.0 L166.2 83.2 L166.2 82.2 L166.3 81.5 L166.3 80.8 L166.4 79.8 L166.5 78.8 L166.5 78.0 L166.6 77.2 L166.7 76.5 L166.8 75.8 L167.0 75.0 L167.1 74.2 L167.3 73.5 L167.4 72.8 L167.6 72.0 L167.7 71.2 L167.9 70.5 L168.0 69.8 L168.2 69.0 L168.3 68.2 L168.5 67.5 L168.6 66.8 L168.7 66.0 L168.9 65.2 L169.0 64.5 L169.1 63.8 L169.2 63.0 L169.3 62.2 L169.4 61.5 L169.5 60.8 L169.6 60.0 L169.7 59.2 L169.8 58.5 L169.9 57.8 L170.0 57.0 L170.2 56.2 L170.3 55.5 L170.5 54.8 L170.6 54.0 L170.8 53.3 L170.9 52.5 L171.1 51.8 L171.2 51.0 L171.4 50.2 L171.6 49.5 L171.9 48.8 L172.2 48.0 L172.5 47.2 L172.8 46.6 L173.0 46.0 L173.4 45.2 L173.8 44.7 L174.2 44.0 L174.5 43.5 L174.9 43.0 L175.4 42.5 L175.9 42.0 L176.5 41.5 L177.0 41.0 L177.5 40.7 L178.0 40.3 L178.5 40.0 L179.0 39.8 L179.6 39.5 L180.2 39.3 L181.0 39.1 L181.8 39.0 L182.7 39.0 L183.8 39.1 L184.5 39.2 L185.2 39.3 L186.0 39.4 L186.8 39.5 L187.5 39.7 L188.3 39.8 L189.0 39.9 L189.8 40.1 L190.5 40.3 L191.2 40.7 L191.8 41.0 L192.5 41.4 L193.0 41.7 L193.5 42.0 L194.0 42.4 L194.5 42.8 L195.0 43.2 L195.5 43.8 L195.9 44.2 L196.3 44.8 L196.7 45.3 L197.1 45.8 L197.4 46.2 L197.8 46.8 L198.2 47.5 L198.5 48.1 L198.8 48.7 L199.0 49.4 L199.2 50.1 L199.5 50.8 L199.7 51.5 L200.0 52.2 L200.2 53.0 L200.5 53.8 L200.7 54.5 L200.9 55.2 L201.1 56.0 L201.2 56.8 L201.4 57.5 L201.5 58.3 L201.6 59.0 L201.7 59.8 L201.8 60.5 L201.8 61.2 L201.9 62.0 L202.0 62.8 L202.1 63.5 L202.1 64.2 L202.2 65.0 L202.2 66.0 L202.3 67.0 L202.3 68.0 L202.2 69.0 L202.2 70.0 L202.2 71.0 L202.2 72.0 L202.2 73.0 L202.2 74.0 L202.1 75.0 L202.1 76.0 L202.1 77.0 L202.0 78.0 L202.0 78.9 L201.9 79.8 L201.9 80.5 L201.8 81.2 L201.7 82.0 L201.6 82.8 L201.5 83.5 L201.5 84.2 L201.4 85.2 L201.3 86.2 L201.3 87.0 L201.2 87.8 L201.1 88.5 L201.0 89.2 L200.9 90.0 L200.8 90.8 L200.7 91.5 L200.6 92.2 L200.6 93.0 L200.5 93.8 L200.4 94.5 L200.4 95.2 L200.3 96.0 L200.2 96.8 L200.2 97.5 L200.1 98.2 L200.0 99.0 L199.9 99.8 L199.8 100.5 L199.7 101.2 L199.7 102.0 L199.6 102.8 L199.4 103.5 L199.2 104.2 L199.0 104.8 L198.6 105.5 L198.2 106.0 L197.8 106.5 L197.3 107.0 L196.8 107.5 L196.3 108.0 L195.8 108.5 L195.4 109.0 L195.1 109.5 L194.8 110.0 L194.4 110.8 L194.0 111.4 L193.7 112.0 L193.3 112.8 L193.0 113.3 L192.6 114.0 L192.2 114.7 L191.9 115.2 L191.5 116.0 L191.2 116.6 L190.9 117.2 L190.5 118.0 L190.2 118.6 L190.0 119.2 L189.8 119.8 L189.5 120.4 L189.2 121.1 L189.0 121.7 L188.8 122.4 L188.5 123.0 L188.2 123.6 L188.0 124.2 L187.8 124.8 L187.5 125.4 L187.2 126.0 L187.0 126.6 L186.8 127.2 L186.5 127.8 L186.2 128.4 L186.0 129.0 L185.8 129.8 L185.5 130.5 L185.3 131.2 L185.1 132.0 L184.9 132.8 L184.7 133.5 L184.5 134.2 L184.3 135.0 L184.1 135.8 L183.9 136.5 L183.8 137.2 L183.7 138.0 L183.6 138.8 L183.6 139.5 L183.5 140.2 L183.5 141.0 L183.4 141.8 L183.3 142.5 L183.3 143.2 L183.2 143.5 M168.0 143.5 L167.9 142.8 L167.8 142.0 L167.7 141.2 L167.7 140.5 L167.6 139.8 L167.5 139.0 L167.5 138.2 L167.4 137.5 L167.4 136.8 L167.3 136.0 L167.2 135.2 L167.2 134.5 L167.1 133.8 L167.0 133.0 L166.9 132.2 L166.9 131.5 L166.8 130.8 L166.7 130.0 L166.7 129.0 L166.6 128.0 L166.6 127.0 L166.5 126.0 L166.5 125.0 L166.4 124.0 L166.4 123.0 L166.3 122.0 L166.3 121.0 L166.3 120.0 L166.2 119.0 L166.2 118.0 L166.1 117.0 L166.2 116.0 L166.2 115.0 L166.2 114.0 L166.3 113.0 L166.3 112.0 L166.4 111.0 L166.4 110.0 L166.4 109.0 L166.5 108.0 L166.5 107.0 L166.5 106.0 L166.6 105.0 L166.6 104.0 L166.6 103.0 L166.5 102.0 L166.5 101.0 L166.4 100.0 L166.4 99.0 L166.5 98.0 L166.5 97.2 L166.6 96.2 L166.6 95.2 L166.6 94.2 L166.6 93.2 L166.7 92.2 L166.7 91.2 L166.7 90.2 L166.8 89.5 L166.9 88.8 L166.9 88.0 L167.0 87.0 L167.0 86.0 L167.1 85.0 L167.1 84.2 L167.2 83.5 L167.2 82.8 L167.3 82.0 L167.4 81.2 L167.4 80.5 L167.5 79.8 L167.5 79.0 L167.6 78.2 L167.7 77.5 L167.8 76.8 L167.9 76.0 L168.0 75.2 L168.2 74.5 L168.3 73.8 L168.4 73.0 L168.6 72.2 L168.8 71.5 L168.9 70.8 L169.1 70.0 L169.2 69.2 L169.4 68.5 L169.5 67.8 L169.7 67.0 L169.9 66.2 L170.0 65.6 L170.2 64.8 L170.3 64.0 L170.5 63.2 L170.6 62.5 L170.8 61.8 L170.9 61.0 L171.1 60.2 L171.2 59.5 L171.4 58.8 L171.6 58.0 L171.8 57.2 L172.1 56.5 L172.3 55.7 L172.5 55.1 L172.8 54.3 L173.0 53.5 L173.2 52.8 L173.5 52.0 L173.7 51.2 L174.0 50.5 L174.2 49.9 L174.6 49.2 L175.0 48.5 L175.3 48.0 L175.7 47.5 L176.1 47.0 L176.5 46.5 L177.0 46.0 L177.5 45.5 L178.0 45.1 L178.5 44.7 L179.0 44.3 L179.5 43.9 L180.0 43.5 L180.5 43.2 L181.2 42.8 L181.9 42.5 L182.8 42.3 L183.5 42.1 L184.2 42.0 L185.0 41.9 L185.8 41.7 L186.5 41.6 L187.2 41.5 L188.0 41.5 L189.0 41.4 L189.8 41.6 L190.5 41.8 L191.2 42.2 L191.8 42.5 L192.5 42.9 L193.0 43.2 L193.5 43.6 L194.0 44.0 L194.5 44.5 L194.9 45.0 L195.4 45.5 L195.8 46.0 L196.1 46.5 L196.5 47.0 L196.9 47.5 L197.2 48.0 L197.5 48.7 L197.7 49.2 L198.0 49.9 L198.2 50.6 L198.5 51.2 L198.7 52.0 L199.0 52.8 L199.2 53.5 L199.4 54.2 L199.6 55.0 L199.8 55.8 L200.0 56.5 L200.1 57.2 L200.2 58.0 L200.3 58.8 L200.4 59.5 L200.5 60.2 L200.6 61.0 L200.7 61.8 L200.7 62.5 L200.8 63.2 L200.9 64.0 L200.9 64.8 L201.0 65.8 L201.0 66.8 L201.0 67.6 L201.0 68.5 L200.9 69.5 L200.9 70.5 L200.9 71.5 L200.9 72.5 L200.9 73.5 L200.9 74.5 L200.9 75.5 L200.9 76.5 L200.8 77.5 L200.8 78.5 L200.7 79.5 L200.7 80.2 L200.6 81.0 L200.5 81.8 L200.4 82.5 L200.4 83.2 L200.3 84.2 L200.3 85.2 L200.2 86.2 L200.1 87.0 L200.0 87.8 L199.9 88.5 L199.8 89.2 L199.8 90.0 L199.7 90.8 L199.5 91.5 L199.4 92.2 L199.3 93.0 L199.2 93.8 L199.1 94.5 L199.0 95.2 L199.0 96.0 L198.9 96.8 L198.8 97.5 L198.8 98.2 L198.7 99.0 L198.6 99.8 L198.5 100.5 L198.4 101.2 L198.3 101.9 L198.1 102.8 L197.8 103.5 L197.5 104.1 L197.1 104.8 L196.7 105.2 L196.3 105.8 L195.9 106.2 L195.5 106.7 L195.1 107.2 L194.7 107.8 L194.3 108.2 L194.0 108.7 L193.7 109.2 L193.4 109.8 L193.0 110.4 L192.6 111.0 L192.2 111.7 L191.9 112.2 L191.6 112.8 L191.2 113.3 L190.9 114.0 L190.5 114.6 L190.2 115.2 L189.8 116.0 L189.5 116.6 L189.2 117.2 L189.0 117.8 L188.8 118.4 L188.5 119.0 L188.3 119.8 L188.0 120.5 L187.8 121.2 L187.5 122.0 L187.3 122.8 L187.0 123.4 L186.8 124.1 L186.5 124.7 L186.2 125.3 L186.0 125.9 L185.8 126.5 L185.5 127.2 L185.3 127.8 L185.0 128.5 L184.8 129.2 L184.5 130.0 L184.3 130.8 L184.0 131.5 L183.8 132.2 L183.6 133.0 L183.4 133.8 L183.2 134.4 L183.1 135.2 L182.9 136.0 L182.8 136.8 L182.7 137.5 L182.7 138.2 L182.6 139.2 L182.6 140.2 L182.5 141.2 L182.5 142.0 L182.4 143.0 L182.3 143.5 M169.0 143.5 L168.9 142.8 L168.8 142.1 L168.6 141.2 L168.5 140.5 L168.5 139.8 L168.4 139.0 L168.3 138.2 L168.3 137.5 L168.2 136.8 L168.2 135.8 L168.1 135.0 L168.1 134.2 L168.0 133.5 L167.9 132.8 L167.9 132.0 L167.8 131.2 L167.7 130.5 L167.7 129.5 L167.6 128.5 L167.6 127.5 L167.6 126.5 L167.6 125.5 L167.5 124.5 L167.5 123.5 L167.5 122.5 L167.5 121.5 L167.5 120.5 L167.5 119.5 L167.5 118.5 L167.4 117.5 L167.4 116.5 L167.4 115.5 L167.4 114.5 L167.4 113.5 L167.5 112.5 L167.5 111.5 L167.6 110.5 L167.6 109.5 L167.7 108.5 L167.7 107.5 L167.8 106.5 L167.8 105.5 L167.9 104.5 L167.9 103.5 L167.8 102.5 L167.8 101.6 L167.7 100.8 L167.7 99.8 L167.7 98.8 L167.7 97.8 L167.7 96.8 L167.7 95.8 L167.7 94.8 L167.6 93.8 L167.6 92.8 L167.6 91.8 L167.6 90.8 L167.7 89.8 L167.8 89.0 L167.8 88.0 L167.9 87.0 L167.9 86.0 L168.0 85.0 L168.0 84.2 L168.1 83.5 L168.2 82.8 L168.2 82.0 L168.3 81.2 L168.4 80.5 L168.5 79.8 L168.5 79.0 L168.6 78.2 L168.7 77.5 L168.8 76.8 L168.9 76.0 L169.0 75.2 L169.2 74.5 L169.3 73.8 L169.4 73.0 L169.6 72.2 L169.7 71.5 L169.9 70.8 L170.1 70.0 L170.2 69.2 L170.4 68.5 L170.5 67.8 L170.7 67.0 L170.8 66.2 L171.0 65.5 L171.1 64.8 L171.2 64.1 L171.4 63.2 L171.6 62.5 L171.7 61.8 L171.9 61.0 L172.0 60.2 L172.2 59.5 L172.4 58.8 L172.6 58.0 L172.8 57.4 L172.9 56.8 L173.2 56.0 L173.4 55.2 L173.7 54.5 L173.9 53.8 L174.2 53.0 L174.5 52.2 L174.8 51.5 L175.0 50.9 L175.2 50.3 L175.6 49.8 L176.0 49.0 L176.4 48.5 L176.8 48.0 L177.2 47.5 L177.8 47.0 L178.2 46.5 L178.8 46.1 L179.2 45.8 L179.8 45.3 L180.2 44.9 L180.8 44.6 L181.2 44.2 L182.0 43.8 L182.8 43.5 L183.5 43.3 L184.2 43.2 L185.0 43.0 L185.8 42.9 L186.5 42.8 L187.2 42.7 L188.0 42.6 L189.0 42.6 L189.7 42.8 L190.4 43.0 L191.0 43.3 L191.5 43.6 L192.0 44.0 L192.5 44.4 L193.0 44.8 L193.5 45.2 L194.0 45.8 L194.4 46.2 L194.8 46.8 L195.2 47.2 L195.7 47.8 L196.0 48.2 L196.4 48.8 L196.8 49.4 L197.0 50.0 L197.2 50.6 L197.5 51.2 L197.7 52.0 L197.9 52.8 L198.2 53.5 L198.4 54.2 L198.6 55.0 L198.7 55.8 L198.9 56.5 L199.0 57.2 L199.1 58.0 L199.2 58.7 L199.3 59.5 L199.4 60.2 L199.5 61.0 L199.6 61.8 L199.7 62.5 L199.8 63.2 L199.9 64.0 L199.9 64.8 L200.0 65.8 L200.0 66.8 L199.9 67.8 L199.9 68.8 L199.8 69.8 L199.8 70.8 L199.8 71.8 L199.8 72.8 L199.8 73.8 L199.8 74.8 L199.8 75.8 L199.7 76.5 L199.7 77.2 L199.6 78.0 L199.5 78.8 L199.5 79.5 L199.4 80.2 L199.4 81.0 L199.3 81.8 L199.3 82.5 L199.2 83.5 L199.2 84.5 L199.1 85.5 L199.0 86.5 L199.0 87.2 L198.9 88.0 L198.8 88.7 L198.6 89.5 L198.5 90.2 L198.4 91.0 L198.3 91.8 L198.1 92.5 L198.0 93.2 L197.9 94.0 L197.8 94.8 L197.7 95.5 L197.6 96.2 L197.5 97.0 L197.4 97.8 L197.3 98.5 L197.3 99.2 L197.2 100.0 L197.0 100.8 L196.9 101.5 L196.7 102.2 L196.3 103.0 L196.0 103.6 L195.5 104.2 L195.2 104.8 L194.8 105.2 L194.4 105.8 L194.1 106.2 L193.7 106.8 L193.2 107.2 L192.8 107.8 L192.4 108.2 L192.0 108.7 L191.6 109.2 L191.2 109.7 L190.9 110.2 L190.5 111.0 L190.1 111.8 L189.8 112.4 L189.4 113.0 L189.0 113.8 L188.8 114.3 L188.4 115.0 L188.1 115.8 L187.8 116.5 L187.5 117.1 L187.3 117.8 L187.0 118.5 L186.8 119.2 L186.5 120.0 L186.3 120.8 L186.1 121.5 L185.9 122.2 L185.7 123.0 L185.5 123.8 L185.2 124.5 L184.9 125.2 L184.7 126.0 L184.4 126.8 L184.2 127.5 L183.9 128.2 L183.7 129.0 L183.5 129.6 L183.3 130.2 L183.1 131.0 L182.9 131.8 L182.7 132.5 L182.5 133.2 L182.3 134.0 L182.1 134.8 L182.0 135.5 L181.9 136.2 L181.8 137.0 L181.8 138.0 L181.7 139.0 L181.7 140.0 L181.7 141.0 L181.6 142.0 L181.6 143.0 L181.6 143.5 M170.1 143.5 L169.9 142.8 L169.8 142.0 L169.6 141.2 L169.5 140.5 L169.4 139.8 L169.3 139.0 L169.2 138.2 L169.1 137.2 L169.1 136.2 L169.1 135.2 L169.0 134.2 L168.9 133.5 L168.9 132.8 L168.8 132.0 L168.7 131.2 L168.7 130.5 L168.6 129.8 L168.6 128.8 L168.6 127.8 L168.5 126.8 L168.5 125.8 L168.4 124.8 L168.4 123.8 L168.3 122.8 L168.3 121.8 L168.3 120.8 L168.4 119.8 L168.4 118.8 L168.3 117.8 L168.3 116.8 L168.4 115.8 L168.4 114.8 L168.4 113.8 L168.4 112.8 L168.5 111.8 L168.5 110.8 L168.6 109.8 L168.7 109.0 L168.7 108.2 L168.8 107.5 L168.8 106.8 L168.9 106.0 L168.9 105.0 L168.9 104.0 L168.9 103.0 L168.9 102.0 L168.8 101.0 L168.8 100.2 L168.7 99.2 L168.7 98.2 L168.7 97.2 L168.6 96.2 L168.6 95.2 L168.5 94.2 L168.5 93.2 L168.4 92.2 L168.4 91.2 L168.4 90.2 L168.5 89.2 L168.5 88.2 L168.6 87.2 L168.6 86.2 L168.7 85.2 L168.8 84.5 L168.8 83.8 L168.9 83.0 L169.0 82.2 L169.1 81.5 L169.2 80.8 L169.3 80.0 L169.4 79.2 L169.5 78.5 L169.6 77.8 L169.7 77.0 L169.8 76.2 L169.9 75.5 L170.1 74.8 L170.2 74.0 L170.4 73.2 L170.5 72.5 L170.7 71.8 L170.9 71.0 L171.1 70.2 L171.2 69.5 L171.4 68.8 L171.5 68.0 L171.7 67.2 L171.8 66.5 L171.9 65.8 L172.1 65.0 L172.2 64.2 L172.3 63.5 L172.5 62.8 L172.6 62.0 L172.8 61.3 L172.9 60.5 L173.0 59.8 L173.2 59.0 L173.3 58.2 L173.5 57.6 L173.8 56.8 L174.0 56.0 L174.2 55.2 L174.5 54.5 L174.8 53.8 L175.0 53.1 L175.2 52.5 L175.5 51.9 L175.8 51.3 L176.0 50.8 L176.4 50.0 L176.8 49.5 L177.1 49.0 L177.5 48.6 L178.0 48.0 L178.5 47.5 L179.0 47.1 L179.5 46.8 L180.0 46.4 L180.5 46.0 L181.0 45.7 L181.5 45.4 L182.2 45.0 L182.9 44.8 L183.8 44.5 L184.5 44.4 L185.2 44.2 L186.0 44.1 L186.8 44.0 L187.5 43.9 L188.2 43.8 L189.2 43.9 L190.0 44.2 L190.6 44.5 L191.2 45.0 L191.8 45.4 L192.2 45.8 L192.7 46.2 L193.2 46.8 L193.6 47.2 L194.1 47.8 L194.5 48.2 L195.0 48.7 L195.4 49.2 L195.8 49.7 L196.0 50.2 L196.4 51.0 L196.6 51.8 L196.9 52.5 L197.1 53.2 L197.2 54.0 L197.4 54.8 L197.6 55.5 L197.7 56.2 L197.9 57.0 L198.0 57.8 L198.1 58.5 L198.2 59.2 L198.3 60.0 L198.4 60.8 L198.5 61.5 L198.6 62.2 L198.7 63.0 L198.8 63.8 L198.8 64.5 L198.9 65.2 L198.9 66.2 L198.9 67.2 L198.9 68.2 L198.8 69.2 L198.8 70.2 L198.7 71.3 L198.7 72.2 L198.7 73.2 L198.7 74.2 L198.6 75.2 L198.5 76.0 L198.4 76.8 L198.3 77.5 L198.3 78.2 L198.2 79.0 L198.1 80.0 L198.1 81.0 L198.0 82.0 L198.0 83.0 L198.0 84.0 L197.9 85.0 L197.9 86.0 L197.8 86.8 L197.7 87.5 L197.6 88.2 L197.5 89.0 L197.4 89.8 L197.2 90.5 L197.0 91.2 L196.9 92.0 L196.8 92.8 L196.6 93.5 L196.5 94.2 L196.4 95.0 L196.4 95.8 L196.3 96.5 L196.2 97.2 L196.1 98.0 L196.0 98.8 L195.9 99.5 L195.8 100.2 L195.6 101.0 L195.4 101.8 L195.1 102.5 L194.8 103.2 L194.3 104.0 L194.0 104.5 L193.7 105.0 L193.3 105.5 L192.9 106.0 L192.5 106.5 L192.0 107.0 L191.5 107.5 L191.0 108.0 L190.5 108.5 L190.1 109.0 L189.7 109.5 L189.3 110.0 L188.9 110.5 L188.5 111.0 L188.1 111.5 L187.7 112.0 L187.3 112.5 L186.9 113.0 L186.5 113.4 L186.1 114.0 L185.8 114.6 L185.4 115.2 L185.2 116.0 L184.9 116.8 L184.8 117.5 L184.6 118.2 L184.5 119.0 L184.5 119.8 L184.4 120.7 L184.4 121.5 L184.3 122.2 L184.2 123.0 L184.0 123.8 L183.9 124.5 L183.7 125.2 L183.5 126.0 L183.3 126.8 L183.2 127.5 L182.9 128.2 L182.8 129.0 L182.5 129.8 L182.3 130.5 L182.1 131.2 L181.9 132.0 L181.7 132.8 L181.4 133.5 L181.2 134.2 L181.1 135.0 L180.9 135.8 L180.8 136.5 L180.8 137.5 L180.8 138.5 L180.8 139.5 L180.8 140.5 L180.8 141.5 L180.8 142.5 L180.7 143.2 L180.7 143.5 M171.6 143.5 L171.3 142.8 L171.0 142.0 L170.8 141.3 L170.5 140.5 L170.4 139.8 L170.2 139.0 L170.2 138.2 L170.1 137.2 L170.1 136.2 L170.1 135.2 L170.0 134.4 L169.9 133.5 L169.8 132.8 L169.7 132.0 L169.6 131.2 L169.6 130.5 L169.5 129.8 L169.4 129.0 L169.3 128.2 L169.3 127.5 L169.2 126.5 L169.2 125.8 L169.1 125.0 L169.1 124.2 L169.0 123.3 L169.0 122.5 L169.0 121.5 L169.0 120.5 L169.0 119.5 L169.0 118.5 L169.0 117.5 L169.0 116.5 L169.1 115.5 L169.1 114.5 L169.1 113.5 L169.2 112.5 L169.2 111.5 L169.3 110.5 L169.3 109.5 L169.4 108.8 L169.5 108.0 L169.5 107.2 L169.6 106.5 L169.6 105.5 L169.7 104.5 L169.7 103.5 L169.7 102.5 L169.7 101.5 L169.6 100.5 L169.5 99.8 L169.5 99.0 L169.4 98.0 L169.4 97.0 L169.3 96.2 L169.3 95.5 L169.2 94.8 L169.1 94.0 L169.1 93.0 L169.0 92.0 L169.0 91.0 L169.0 90.0 L169.1 89.0 L169.1 88.0 L169.2 87.0 L169.2 86.0 L169.3 85.2 L169.3 84.5 L169.4 83.8 L169.5 83.0 L169.6 82.2 L169.7 81.5 L169.8 80.8 L169.9 80.0 L170.0 79.2 L170.2 78.5 L170.3 77.8 L170.4 77.0 L170.6 76.2 L170.8 75.5 L170.9 74.8 L171.1 74.0 L171.3 73.2 L171.6 72.5 L171.8 71.8 L172.0 71.0 L172.2 70.2 L172.4 69.5 L172.5 68.8 L172.7 68.0 L172.8 67.2 L173.0 66.5 L173.1 65.8 L173.2 65.0 L173.4 64.2 L173.6 63.5 L173.7 62.8 L173.8 62.0 L173.9 61.2 L174.0 60.5 L174.0 59.8 L174.1 59.0 L174.2 58.2 L174.4 57.5 L174.6 56.8 L174.8 56.0 L175.1 55.2 L175.3 54.5 L175.6 53.8 L175.9 53.0 L176.2 52.3 L176.6 51.5 L177.0 50.8 L177.4 50.2 L177.7 49.8 L178.1 49.2 L178.6 48.8 L179.0 48.3 L179.5 47.9 L180.0 47.5 L180.5 47.2 L181.2 46.8 L182.0 46.5 L182.8 46.3 L183.5 46.0 L184.2 45.8 L185.0 45.6 L185.8 45.4 L186.5 45.3 L187.2 45.1 L188.0 45.0 L189.0 45.1 L189.8 45.3 L190.4 45.8 L191.0 46.2 L191.5 46.6 L192.0 47.1 L192.5 47.7 L193.0 48.2 L193.5 48.8 L193.9 49.2 L194.4 49.8 L194.7 50.2 L195.1 50.8 L195.4 51.5 L195.7 52.2 L195.9 53.0 L196.2 53.8 L196.3 54.5 L196.5 55.2 L196.7 56.0 L196.8 56.8 L196.9 57.5 L197.0 58.2 L197.1 59.0 L197.2 59.8 L197.3 60.5 L197.4 61.2 L197.5 62.0 L197.6 62.8 L197.7 63.5 L197.8 64.2 L197.8 65.0 L197.9 66.0 L197.9 67.0 L197.8 68.0 L197.8 68.8 L197.7 69.8 L197.6 70.8 L197.6 71.8 L197.5 72.8 L197.5 73.5 L197.4 74.2 L197.3 75.0 L197.1 75.8 L196.9 76.5 L196.7 77.2 L196.5 78.0 L196.4 78.8 L196.2 79.5 L196.1 80.2 L196.1 81.2 L196.1 82.2 L196.1 83.2 L196.1 84.2 L196.1 85.2 L196.0 86.2 L195.9 87.0 L195.8 87.8 L195.7 88.5 L195.5 89.2 L195.4 90.0 L195.4 90.8 L195.3 91.5 L195.3 92.5 L195.3 93.5 L195.2 94.5 L195.2 95.5 L195.1 96.5 L195.1 97.2 L195.0 98.0 L194.9 98.8 L194.8 99.4 L194.6 100.2 L194.4 101.0 L194.1 101.8 L193.9 102.5 L193.5 103.2 L193.2 103.8 L192.8 104.5 L192.4 105.0 L192.0 105.5 L191.5 105.9 L191.0 106.3 L190.2 106.7 L189.5 106.9 L188.8 106.6 L188.2 106.1 L187.8 105.5 L187.5 104.9 L187.2 104.2 L186.9 103.5 L186.6 102.8 L186.4 102.0 L186.2 101.2 L186.0 100.5 L185.8 99.8 L185.5 99.0 L185.0 98.4 L184.7 99.0 L184.4 99.8 L184.3 100.5 L184.2 101.2 L184.1 102.0 L184.0 103.0 L184.0 104.0 L184.0 105.0 L184.0 106.0 L183.9 107.0 L183.9 108.0 L183.8 109.0 L183.8 109.8 L183.7 110.8 L183.7 111.8 L183.7 112.8 L183.7 113.8 L183.6 114.8 L183.6 115.5 L183.5 116.2 L183.4 117.0 L183.4 117.8 L183.3 118.8 L183.3 119.8 L183.3 120.8 L183.2 121.8 L183.2 122.8 L183.1 123.5 L183.0 124.2 L182.9 125.0 L182.8 125.8 L182.6 126.5 L182.5 127.3 L182.3 128.0 L182.1 128.8 L181.9 129.5 L181.7 130.2 L181.5 131.0 L181.2 131.7 L181.0 132.5 L180.8 133.2 L180.5 133.9 L180.2 134.6 L180.0 135.2 L179.8 136.0 L179.7 136.8 L179.7 137.8 L179.8 138.8 L179.8 139.5 L179.9 140.5 L179.9 141.5 L179.8 142.5 L179.7 143.2 L179.6 143.5 M173.2 143.5 L172.9 143.0 L172.5 142.4 L172.2 141.8 L171.9 141.0 L171.6 140.2 L171.4 139.5 L171.3 138.8 L171.2 138.0 L171.1 137.0 L171.1 136.0 L171.0 135.2 L170.9 134.5 L170.8 133.8 L170.7 133.0 L170.5 132.2 L170.4 131.5 L170.3 130.8 L170.2 130.0 L170.1 129.2 L170.0 128.5 L169.9 127.8 L169.8 127.0 L169.7 126.2 L169.7 125.5 L169.6 124.8 L169.5 124.0 L169.5 123.2 L169.4 122.2 L169.4 121.2 L169.4 120.2 L169.5 119.2 L169.5 118.2 L169.5 117.2 L169.5 116.2 L169.6 115.2 L169.6 114.2 L169.7 113.2 L169.7 112.2 L169.7 111.2 L169.8 110.2 L169.8 109.5 L169.9 108.8 L170.0 108.0 L170.0 107.2 L170.1 106.2 L170.1 105.2 L170.2 104.2 L170.2 103.2 L170.2 102.2 L170.2 101.2 L170.1 100.5 L170.1 99.7 L170.0 99.0 L170.0 98.2 L169.9 97.5 L169.8 96.8 L169.8 96.0 L169.7 95.2 L169.7 94.5 L169.6 93.8 L169.5 92.8 L169.5 91.8 L169.5 90.8 L169.5 89.8 L169.5 88.8 L169.6 87.8 L169.6 86.8 L169.7 85.8 L169.8 85.0 L169.8 84.2 L169.9 83.5 L170.0 82.8 L170.1 82.0 L170.2 81.2 L170.3 80.5 L170.5 79.8 L170.6 79.0 L170.7 78.2 L170.9 77.5 L171.1 76.8 L171.2 76.0 L171.5 75.2 L171.7 74.5 L171.9 73.8 L172.2 73.0 L172.4 72.2 L172.7 71.5 L173.0 70.8 L173.2 70.0 L173.4 69.2 L173.7 68.5 L173.9 67.8 L174.1 67.0 L174.2 66.4 L174.5 65.5 L174.7 64.8 L174.9 64.0 L175.1 63.2 L175.2 62.5 L175.3 61.8 L175.4 60.8 L175.3 59.8 L175.3 58.8 L175.4 57.8 L175.5 57.0 L175.6 56.2 L175.9 55.5 L176.1 54.8 L176.4 54.0 L176.7 53.2 L177.1 52.5 L177.5 51.8 L177.9 51.2 L178.2 50.8 L178.6 50.2 L179.0 49.8 L179.5 49.3 L180.0 48.8 L180.5 48.5 L181.2 48.1 L182.0 47.8 L182.8 47.5 L183.5 47.3 L184.2 47.2 L185.0 47.0 L185.8 46.8 L186.5 46.7 L187.2 46.6 L188.2 46.6 L189.0 46.8 L189.8 47.2 L190.2 47.6 L190.7 48.0 L191.1 48.5 L191.5 48.9 L191.9 49.5 L192.3 50.0 L192.7 50.5 L193.1 51.0 L193.5 51.5 L193.8 52.0 L194.2 52.5 L194.5 53.1 L194.8 53.8 L195.1 54.5 L195.3 55.2 L195.5 55.9 L195.7 56.8 L195.8 57.5 L195.9 58.2 L195.9 59.0 L196.0 59.8 L196.1 60.5 L196.2 61.2 L196.2 62.0 L196.3 62.8 L196.4 63.5 L196.5 64.2 L196.6 65.0 L196.6 66.0 L196.6 67.0 L196.5 68.0 L196.4 68.8 L196.4 69.5 L196.3 70.2 L196.2 71.0 L196.1 71.8 L195.9 72.5 L195.7 73.2 L195.4 74.0 L195.0 74.8 L194.8 75.3 L194.3 76.0 L194.0 76.5 L193.7 77.0 L193.3 77.5 L193.0 78.0 L192.6 78.8 L192.2 79.4 L192.0 80.0 L191.7 80.8 L191.4 81.5 L191.4 82.2 L191.5 83.0 L191.8 83.7 L192.1 84.2 L192.5 85.0 L192.8 85.6 L193.0 86.2 L193.2 86.9 L193.5 87.8 L193.6 88.5 L193.7 89.2 L193.8 90.0 L193.9 90.8 L194.0 91.5 L194.1 92.2 L194.2 93.0 L194.2 93.8 L194.3 94.8 L194.3 95.8 L194.3 96.8 L194.2 97.5 L194.1 98.2 L194.0 99.0 L193.8 99.8 L193.6 100.5 L193.4 101.2 L193.1 102.0 L192.8 102.6 L192.4 103.2 L192.0 103.7 L191.5 104.2 L191.0 104.6 L190.2 104.8 L189.5 104.7 L189.0 104.4 L188.5 103.8 L188.1 103.2 L187.8 102.6 L187.5 102.0 L187.2 101.4 L187.1 100.8 L186.8 100.0 L186.7 99.2 L186.5 98.5 L186.4 97.8 L186.4 97.0 L186.4 96.0 L186.4 95.0 L186.5 94.2 L186.5 93.5 L186.6 92.5 L186.6 91.5 L186.3 90.8 L185.8 91.2 L185.5 91.8 L185.2 92.5 L184.9 93.2 L184.8 93.9 L184.6 94.8 L184.4 95.5 L184.3 96.2 L184.1 97.0 L184.0 97.8 L183.8 98.5 L183.7 99.2 L183.6 100.0 L183.5 100.8 L183.5 101.5 L183.4 102.5 L183.4 103.5 L183.4 104.5 L183.3 105.5 L183.3 106.5 L183.2 107.3 L183.2 108.2 L183.1 109.2 L183.1 110.2 L183.1 111.2 L183.0 112.2 L183.0 113.2 L183.0 114.2 L183.0 115.2 L182.9 116.2 L182.8 117.0 L182.8 117.8 L182.7 118.8 L182.7 119.8 L182.7 120.8 L182.7 121.8 L182.6 122.8 L182.5 123.5 L182.5 124.2 L182.4 125.0 L182.2 125.8 L182.1 126.5 L181.9 127.2 L181.8 128.0 L181.6 128.8 L181.4 129.5 L181.1 130.2 L180.9 131.0 L180.7 131.8 L180.4 132.5 L180.1 133.2 L179.8 134.0 L179.5 134.6 L179.2 135.2 L178.9 136.0 L178.8 136.7 L178.7 137.5 L178.7 138.5 L178.8 139.2 L178.8 140.2 L178.8 141.2 L178.7 142.0 L178.6 142.8 L178.3 143.5 L178.3 143.5 M183.1 49.2 L184.0 49.1 L184.8 49.1 L185.8 49.0 L186.8 49.1 L187.5 49.2 L188.2 49.5 L188.8 49.8 L189.5 50.2 L190.0 50.7 L190.5 51.2 L190.9 51.8 L191.2 52.2 L191.7 52.8 L192.1 53.2 L192.4 53.8 L192.8 54.2 L193.1 54.8 L193.5 55.5 L193.8 56.1 L193.9 56.8 L194.1 57.5 L194.2 58.2 L194.3 59.0 L194.3 59.8 L194.4 60.5 L194.5 61.2 L194.6 62.0 L194.7 62.8 L194.8 63.5 L194.9 64.2 L194.9 65.0 L195.0 66.0 L195.0 67.0 L194.9 68.0 L194.9 68.8 L194.8 69.5 L194.7 70.2 L194.5 71.0 L194.3 71.8 L194.0 72.5 L193.6 73.2 L193.2 73.9 L192.9 74.5 L192.5 75.0 L192.1 75.5 L191.8 76.0 L191.4 76.5 L191.0 77.0 L190.7 77.5 L190.4 78.0 L190.1 78.5 L189.8 79.0 L189.4 79.8 L189.0 80.5 L188.7 81.2 L188.3 82.0 L188.0 82.8 L187.8 83.4 L187.5 83.9 L187.2 84.5 L186.9 85.2 L186.6 86.0 L186.3 86.8 L186.0 87.5 L185.8 88.2 L185.5 89.0 L185.2 89.7 L185.0 90.5 L184.8 91.2 L184.6 92.0 L184.4 92.8 L184.2 93.5 L184.1 94.2 L183.9 95.0 L183.8 95.8 L183.7 96.5 L183.6 97.2 L183.4 98.0 L183.3 98.8 L183.2 99.5 L183.1 100.2 L183.1 101.0 L183.0 102.0 L183.0 103.0 L183.0 104.0 L182.9 105.0 L182.9 106.0 L182.8 107.0 L182.8 108.0 L182.7 109.0 L182.7 110.0 L182.6 111.0 L182.6 112.0 L182.6 113.0 L182.6 114.0 L182.5 115.0 L182.5 116.0 L182.4 117.0 L182.4 118.0 L182.3 119.0 L182.3 120.0 L182.3 121.0 L182.2 122.0 L182.2 123.0 L182.1 123.8 L182.0 124.5 L181.9 125.3 L181.8 126.0 L181.6 126.8 L181.5 127.5 L181.3 128.2 L181.1 129.0 L180.8 129.8 L180.6 130.5 L180.4 131.2 L180.1 132.0 L179.8 132.8 L179.5 133.4 L179.2 134.0 L178.8 134.7 L178.4 135.2 L178.0 136.0 L177.8 136.8 L177.7 137.5 L177.7 138.5 L177.7 139.5 L177.8 140.3 L177.7 141.2 L177.5 142.0 L177.1 142.8 L176.5 143.2 L175.8 143.5 L175.0 143.3 L174.5 143.0 L174.0 142.5 L173.7 142.0 L173.3 141.5 L173.0 140.8 L172.8 140.3 L172.5 139.5 L172.3 138.8 L172.2 138.0 L172.2 137.2 L172.1 136.5 L172.0 135.8 L171.8 135.0 L171.7 134.2 L171.5 133.5 L171.3 132.8 L171.1 132.0 L170.9 131.2 L170.8 130.5 L170.6 129.8 L170.5 129.0 L170.4 128.2 L170.3 127.5 L170.2 126.8 L170.1 126.0 L170.1 125.2 L170.0 124.5 L169.9 123.8 L169.9 123.0 L169.8 122.0 L169.8 121.0 L169.8 120.0 L169.8 119.0 L169.9 118.0 L169.9 117.0 L169.9 116.0 L170.0 115.0 L170.0 114.0 L170.1 113.0 L170.1 112.0 L170.1 111.0 L170.2 110.0 L170.3 109.2 L170.3 108.5 L170.4 107.8 L170.4 107.0 L170.5 106.2 L170.5 105.2 L170.6 104.2 L170.6 103.2 L170.6 102.2 L170.6 101.2 L170.5 100.3 L170.5 99.5 L170.4 98.8 L170.3 98.0 L170.3 97.2 L170.2 96.5 L170.2 95.8 L170.1 95.0 L170.0 94.2 L170.0 93.5 L169.9 92.5 L169.9 91.5 L169.9 90.5 L169.9 89.5 L169.9 88.5 L170.0 87.5 L170.0 86.5 L170.1 85.5 L170.1 84.8 L170.2 84.0 L170.3 83.2 L170.4 82.5 L170.5 81.8 L170.7 81.0 L170.8 80.2 L170.9 79.5 L171.1 78.8 L171.2 78.0 L171.4 77.2 L171.6 76.5 L171.8 75.8 L172.0 75.0 L172.3 74.2 L172.6 73.5 L172.8 72.8 L173.1 72.0 L173.4 71.2 L173.7 70.5 L174.0 69.8 L174.2 69.0 L174.5 68.4 L174.7 67.8 L175.0 67.0 L175.2 66.3 L175.5 65.6 L175.7 65.0 L176.0 64.2 L176.2 63.5 L176.4 62.8 L176.6 62.0 L176.7 61.2 L176.8 60.5 L176.8 59.5 L176.7 58.5 L176.7 57.8 L176.7 56.8 L176.8 56.0 L177.0 55.2 L177.2 54.5 L177.5 53.9 L177.8 53.2 L178.2 52.5 L178.6 52.0 L179.0 51.5 L179.5 51.0 L180.0 50.5 L180.5 50.2 L181.2 49.8 L181.9 49.5 L182.8 49.3 L183.1 49.2 M189.7 87.5 L190.5 87.4 L191.2 87.8 L191.7 88.2 L192.0 88.8 L192.4 89.5 L192.7 90.2 L192.9 91.0 L193.1 91.8 L193.2 92.5 L193.4 93.2 L193.5 94.0 L193.6 94.8 L193.6 95.8 L193.6 96.8 L193.5 97.5 L193.5 98.2 L193.3 99.0 L193.1 99.8 L192.9 100.5 L192.5 101.2 L192.2 101.8 L191.9 102.2 L191.5 102.7 L191.0 103.1 L190.2 103.3 L189.5 103.1 L189.0 102.7 L188.6 102.2 L188.3 101.8 L188.0 101.2 L187.8 100.5 L187.5 99.8 L187.3 99.0 L187.2 98.2 L187.1 97.5 L187.1 96.5 L187.1 95.5 L187.2 94.8 L187.4 94.0 L187.5 93.2 L187.6 92.5 L187.8 91.8 L188.0 91.0 L188.1 90.2 L188.4 89.5 L188.7 88.8 L189.0 88.2 L189.5 87.6 L189.7 87.5 M183.8 51.5 L184.8 51.4 L185.8 51.4 L186.5 51.5 L187.2 51.7 L187.9 52.0 L188.5 52.4 L189.0 52.7 L189.5 53.2 L190.0 53.7 L190.4 54.2 L190.8 54.7 L191.1 55.2 L191.5 55.9 L191.8 56.5 L192.0 57.1 L192.2 57.8 L192.3 58.5 L192.4 59.2 L192.5 60.0 L192.7 60.7 L192.8 61.5 L192.9 62.3 L193.1 63.0 L193.2 63.7 L193.3 64.5 L193.4 65.2 L193.5 66.0 L193.5 67.0 L193.5 68.0 L193.4 68.8 L193.3 69.5 L193.2 70.2 L193.0 70.9 L192.8 71.6 L192.5 72.1 L192.2 72.8 L191.8 73.5 L191.4 74.0 L191.1 74.5 L190.8 75.0 L190.5 75.5 L190.0 76.2 L189.8 76.8 L189.4 77.5 L189.0 78.2 L188.8 78.8 L188.5 79.4 L188.2 79.9 L188.0 80.5 L187.8 81.1 L187.5 81.8 L187.2 82.4 L187.0 83.0 L186.8 83.6 L186.5 84.2 L186.2 84.8 L186.0 85.5 L185.8 86.2 L185.5 87.0 L185.3 87.8 L185.1 88.5 L184.9 89.2 L184.7 90.0 L184.5 90.8 L184.3 91.5 L184.1 92.2 L183.9 93.0 L183.8 93.8 L183.6 94.5 L183.5 95.2 L183.4 96.0 L183.2 96.7 L183.1 97.5 L183.0 98.2 L182.9 99.0 L182.8 99.8 L182.8 100.5 L182.7 101.2 L182.7 102.2 L182.6 103.2 L182.6 104.2 L182.6 105.2 L182.5 106.2 L182.5 107.2 L182.4 108.2 L182.4 109.2 L182.3 110.2 L182.3 111.2 L182.3 112.2 L182.3 113.2 L182.2 114.2 L182.2 115.2 L182.1 116.2 L182.1 117.0 L182.0 118.0 L182.0 119.0 L181.9 120.0 L181.9 121.0 L181.9 122.0 L181.8 123.0 L181.7 123.8 L181.7 124.5 L181.6 125.2 L181.4 126.0 L181.3 126.8 L181.1 127.5 L180.9 128.2 L180.7 129.0 L180.5 129.6 L180.3 130.2 L180.0 131.0 L179.8 131.8 L179.5 132.4 L179.2 133.0 L178.8 133.8 L178.4 134.2 L178.1 134.8 L177.7 135.2 L177.3 135.8 L177.0 136.2 L176.6 137.0 L176.5 137.8 L176.5 138.8 L176.4 139.8 L176.3 140.5 L175.9 141.0 L175.2 141.2 L174.6 140.8 L174.2 140.2 L173.8 139.5 L173.6 138.8 L173.4 138.0 L173.3 137.2 L173.2 136.5 L172.9 135.8 L172.6 135.0 L172.3 134.2 L172.0 133.5 L171.8 132.8 L171.6 132.0 L171.4 131.2 L171.2 130.5 L171.1 129.8 L170.9 129.0 L170.8 128.2 L170.7 127.5 L170.6 126.8 L170.5 126.0 L170.4 125.2 L170.3 124.5 L170.2 123.8 L170.2 123.0 L170.1 122.0 L170.1 121.0 L170.1 120.0 L170.2 119.0 L170.2 118.0 L170.2 117.0 L170.3 116.0 L170.3 115.0 L170.4 114.0 L170.4 113.0 L170.4 112.0 L170.5 111.0 L170.5 110.0 L170.6 109.2 L170.7 108.5 L170.7 107.8 L170.8 107.0 L170.8 106.0 L170.9 105.0 L170.9 104.0 L171.0 103.0 L170.9 102.0 L170.9 101.0 L170.8 100.0 L170.8 99.2 L170.7 98.5 L170.7 97.8 L170.6 97.0 L170.5 96.2 L170.5 95.5 L170.4 94.8 L170.3 94.0 L170.3 93.2 L170.2 92.2 L170.2 91.2 L170.2 90.2 L170.2 89.2 L170.2 88.2 L170.3 87.2 L170.3 86.2 L170.4 85.5 L170.5 84.8 L170.5 84.0 L170.6 83.2 L170.7 82.5 L170.9 81.8 L171.0 81.0 L171.1 80.2 L171.3 79.5 L171.4 78.8 L171.6 78.0 L171.8 77.2 L172.0 76.5 L172.2 75.8 L172.5 75.0 L172.7 74.2 L173.0 73.6 L173.2 72.9 L173.5 72.3 L173.8 71.7 L174.0 71.1 L174.2 70.5 L174.5 69.9 L174.8 69.3 L175.0 68.8 L175.2 68.1 L175.5 67.6 L175.8 67.0 L176.0 66.4 L176.2 65.9 L176.5 65.3 L176.8 64.7 L177.0 64.1 L177.2 63.4 L177.5 62.8 L177.7 62.0 L177.8 61.2 L178.0 60.5 L178.1 59.8 L178.1 59.0 L178.1 58.0 L178.2 57.0 L178.2 56.2 L178.4 55.5 L178.7 54.8 L179.0 54.1 L179.4 53.5 L179.9 53.0 L180.5 52.5 L181.2 52.1 L182.0 51.9 L182.8 51.7 L183.5 51.5 L183.8 51.5 M189.8 90.3 L190.5 90.0 L191.2 90.4 L191.7 91.0 L192.1 91.8 L192.4 92.5 L192.6 93.2 L192.8 94.0 L192.9 94.8 L193.0 95.5 L193.0 96.5 L193.0 97.5 L192.8 98.2 L192.7 99.0 L192.4 99.8 L192.1 100.5 L191.8 101.0 L191.4 101.5 L190.8 101.9 L190.0 102.0 L189.2 101.6 L188.8 101.0 L188.4 100.2 L188.1 99.5 L187.9 98.8 L187.8 98.1 L187.7 97.2 L187.7 96.2 L187.8 95.5 L187.9 94.8 L188.1 94.0 L188.2 93.3 L188.5 92.5 L188.8 91.8 L189.0 91.3 L189.3 90.8 L189.8 90.3 L189.8 90.3 M183.9 53.8 L184.8 53.7 L185.7 53.8 L186.5 53.9 L187.2 54.2 L188.0 54.7 L188.5 55.1 L189.0 55.6 L189.5 56.2 L189.9 57.0 L190.2 57.8 L190.4 58.5 L190.7 59.2 L190.9 60.0 L191.1 60.8 L191.2 61.4 L191.5 62.2 L191.7 63.0 L191.8 63.8 L192.0 64.5 L192.1 65.2 L192.2 66.0 L192.3 66.8 L192.3 67.8 L192.3 68.8 L192.2 69.5 L192.0 70.2 L191.8 71.0 L191.5 71.7 L191.2 72.3 L190.9 73.0 L190.5 73.8 L190.1 74.5 L189.8 75.2 L189.5 75.8 L189.1 76.5 L188.8 77.2 L188.5 77.9 L188.2 78.4 L188.0 79.1 L187.8 79.7 L187.5 80.3 L187.2 81.0 L187.0 81.6 L186.8 82.2 L186.5 82.9 L186.3 83.5 L186.0 84.2 L185.8 84.9 L185.5 85.5 L185.3 86.2 L185.1 87.0 L184.9 87.8 L184.7 88.5 L184.5 89.1 L184.3 90.0 L184.1 90.8 L183.9 91.5 L183.8 92.2 L183.6 93.0 L183.4 93.8 L183.3 94.5 L183.2 95.2 L183.0 96.0 L182.9 96.8 L182.8 97.5 L182.7 98.2 L182.6 99.0 L182.5 99.8 L182.5 100.5 L182.4 101.2 L182.4 102.2 L182.3 103.2 L182.3 104.2 L182.3 105.2 L182.2 106.2 L182.2 107.0 L182.2 108.0 L182.1 109.0 L182.0 110.0 L182.0 110.9 L182.0 111.8 L182.0 112.8 L182.0 113.8 L181.9 114.8 L181.9 115.8 L181.8 116.5 L181.8 117.2 L181.7 118.2 L181.7 119.2 L181.6 120.2 L181.6 121.2 L181.6 122.2 L181.5 123.0 L181.4 123.8 L181.4 124.5 L181.2 125.2 L181.1 126.0 L181.0 126.8 L180.8 127.5 L180.6 128.2 L180.4 129.0 L180.1 129.8 L179.9 130.5 L179.6 131.2 L179.3 132.0 L178.9 132.8 L178.6 133.2 L178.2 133.7 L177.8 134.2 L177.3 134.8 L176.8 135.2 L176.2 135.6 L175.8 136.0 L175.0 136.2 L174.2 135.8 L173.8 135.3 L173.3 134.8 L173.0 134.2 L172.6 133.5 L172.3 132.8 L172.0 132.0 L171.8 131.2 L171.6 130.5 L171.4 129.8 L171.3 129.0 L171.1 128.2 L171.0 127.5 L170.9 126.8 L170.8 126.0 L170.7 125.2 L170.6 124.5 L170.5 123.8 L170.5 123.0 L170.4 122.0 L170.4 121.0 L170.4 120.0 L170.4 119.0 L170.5 118.0 L170.5 117.0 L170.6 116.0 L170.6 115.0 L170.7 114.0 L170.7 113.0 L170.7 112.0 L170.8 111.0 L170.8 110.0 L170.9 109.2 L171.0 108.5 L171.0 107.8 L171.1 107.0 L171.1 106.0 L171.2 105.0 L171.2 104.0 L171.3 103.0 L171.2 102.2 L171.2 101.2 L171.1 100.2 L171.1 99.5 L171.0 98.8 L171.0 98.0 L170.9 97.2 L170.9 96.5 L170.8 95.8 L170.7 95.0 L170.7 94.2 L170.6 93.5 L170.5 92.5 L170.5 91.5 L170.5 90.5 L170.5 89.5 L170.5 88.5 L170.6 87.5 L170.6 86.5 L170.7 85.5 L170.7 84.8 L170.8 84.0 L170.9 83.2 L171.0 82.5 L171.2 81.8 L171.3 81.0 L171.4 80.2 L171.6 79.5 L171.7 78.8 L171.9 78.0 L172.1 77.2 L172.3 76.5 L172.6 75.8 L172.8 75.0 L173.1 74.2 L173.4 73.5 L173.7 72.8 L174.0 72.1 L174.2 71.5 L174.5 71.0 L174.8 70.2 L175.2 69.5 L175.5 68.9 L175.8 68.2 L176.2 67.5 L176.5 66.9 L176.8 66.2 L177.2 65.5 L177.5 64.9 L177.8 64.2 L178.1 63.5 L178.4 62.8 L178.7 62.0 L178.9 61.2 L179.1 60.5 L179.3 59.7 L179.5 59.0 L179.6 58.2 L179.7 57.5 L179.9 56.8 L180.2 56.0 L180.5 55.5 L181.0 55.0 L181.5 54.6 L182.1 54.2 L182.7 54.0 L183.5 53.8 L183.9 53.8 M189.9 92.2 L190.5 92.0 L191.2 92.5 L191.6 93.0 L192.0 93.8 L192.2 94.5 L192.3 95.2 L192.4 96.0 L192.4 97.0 L192.3 97.8 L192.2 98.5 L191.9 99.2 L191.5 100.0 L191.1 100.5 L190.5 100.8 L189.8 100.7 L189.2 100.3 L188.9 99.8 L188.6 99.0 L188.4 98.2 L188.3 97.5 L188.2 96.5 L188.3 95.8 L188.5 95.0 L188.7 94.2 L189.0 93.5 L189.4 92.8 L189.9 92.2 L189.9 92.2 M184.0 56.0 L184.8 55.9 L185.5 56.0 L186.2 56.2 L187.0 56.7 L187.5 57.1 L188.0 57.7 L188.3 58.2 L188.7 59.0 L189.1 59.8 L189.5 60.5 L189.8 61.2 L190.0 61.8 L190.2 62.5 L190.5 63.2 L190.7 64.0 L190.9 64.8 L191.1 65.5 L191.2 66.2 L191.4 67.0 L191.4 67.8 L191.4 68.8 L191.3 69.5 L191.2 70.2 L191.0 71.0 L190.7 71.8 L190.4 72.5 L190.0 73.2 L189.8 73.8 L189.5 74.5 L189.1 75.2 L188.8 76.0 L188.5 76.6 L188.2 77.2 L188.0 77.9 L187.8 78.5 L187.5 79.1 L187.3 79.8 L187.0 80.5 L186.8 81.2 L186.5 81.8 L186.2 82.5 L186.0 83.2 L185.8 83.8 L185.5 84.5 L185.2 85.2 L185.0 86.0 L184.8 86.8 L184.6 87.5 L184.4 88.2 L184.2 89.0 L184.0 89.8 L183.8 90.5 L183.7 91.2 L183.5 91.9 L183.3 92.8 L183.2 93.5 L183.0 94.2 L182.9 95.0 L182.8 95.8 L182.7 96.5 L182.6 97.2 L182.5 98.0 L182.4 98.8 L182.3 99.5 L182.2 100.2 L182.1 101.0 L182.1 102.0 L182.1 103.0 L182.0 104.0 L182.0 105.0 L182.0 105.8 L182.0 106.8 L181.9 107.8 L181.8 108.8 L181.8 109.8 L181.8 110.6 L181.7 111.5 L181.7 112.5 L181.7 113.5 L181.7 114.5 L181.6 115.5 L181.6 116.2 L181.5 117.0 L181.4 118.0 L181.4 119.0 L181.4 120.0 L181.3 121.0 L181.3 122.0 L181.2 122.8 L181.2 123.8 L181.1 124.5 L181.0 125.2 L180.8 126.0 L180.7 126.8 L180.5 127.4 L180.3 128.2 L180.0 129.0 L179.8 129.8 L179.5 130.5 L179.2 131.2 L179.0 131.7 L178.6 132.5 L178.3 133.0 L177.9 133.5 L177.4 134.0 L176.8 134.5 L176.0 134.9 L175.2 135.0 L174.5 134.8 L174.0 134.5 L173.5 134.0 L173.1 133.5 L172.8 132.8 L172.5 132.2 L172.3 131.5 L172.0 130.8 L171.8 130.0 L171.7 129.2 L171.5 128.5 L171.4 127.8 L171.3 127.0 L171.1 126.2 L171.0 125.5 L170.9 124.8 L170.8 124.0 L170.8 123.2 L170.7 122.5 L170.7 121.5 L170.7 120.5 L170.7 119.5 L170.7 118.5 L170.8 117.6 L170.8 116.8 L170.8 115.8 L170.9 114.8 L170.9 113.8 L171.0 112.8 L171.0 111.8 L171.1 110.8 L171.1 109.8 L171.2 109.0 L171.2 108.2 L171.3 107.5 L171.4 106.8 L171.4 105.8 L171.5 104.8 L171.5 103.8 L171.5 102.8 L171.5 101.8 L171.5 100.8 L171.4 100.0 L171.3 99.2 L171.3 98.5 L171.2 97.8 L171.2 97.0 L171.1 96.2 L171.0 95.5 L171.0 94.8 L170.9 94.0 L170.8 93.2 L170.8 92.2 L170.7 91.2 L170.7 90.2 L170.7 89.2 L170.8 88.2 L170.8 87.2 L170.9 86.2 L170.9 85.5 L171.0 84.8 L171.1 84.0 L171.2 83.2 L171.3 82.5 L171.4 81.8 L171.6 81.0 L171.7 80.2 L171.9 79.5 L172.0 78.8 L172.2 78.0 L172.4 77.2 L172.6 76.5 L172.9 75.8 L173.2 75.0 L173.4 74.2 L173.8 73.5 L174.0 73.0 L174.2 72.4 L174.6 71.8 L174.9 71.0 L175.2 70.3 L175.6 69.8 L176.0 69.0 L176.4 68.2 L176.8 67.6 L177.1 67.0 L177.5 66.5 L177.8 66.0 L178.1 65.5 L178.5 64.8 L178.9 64.0 L179.2 63.2 L179.5 62.6 L179.7 62.0 L180.0 61.3 L180.2 60.8 L180.5 60.1 L180.8 59.5 L181.0 58.9 L181.2 58.3 L181.5 57.7 L182.0 57.0 L182.5 56.6 L183.1 56.2 L183.7 56.0 L184.0 56.0 M189.9 94.0 L190.8 93.9 L191.2 94.4 L191.5 95.0 L191.7 95.8 L191.8 96.5 L191.7 97.5 L191.5 98.2 L191.2 98.9 L190.8 99.5 L190.0 99.6 L189.5 99.2 L189.1 98.5 L188.9 97.8 L188.9 97.0 L188.9 96.0 L189.1 95.2 L189.5 94.5 L189.9 94.0 L189.9 94.0 M184.7 58.5 L185.5 58.6 L186.2 59.0 L186.8 59.4 L187.2 59.9 L187.7 60.5 L188.1 61.0 L188.4 61.5 L188.7 62.0 L189.1 62.8 L189.5 63.5 L189.8 64.1 L190.0 64.8 L190.2 65.5 L190.4 66.2 L190.6 67.0 L190.7 67.8 L190.7 68.8 L190.7 69.5 L190.5 70.2 L190.3 71.0 L190.1 71.8 L189.8 72.5 L189.5 73.2 L189.3 73.8 L189.0 74.4 L188.8 75.0 L188.5 75.6 L188.2 76.2 L188.0 76.8 L187.7 77.4 L187.5 78.1 L187.3 78.8 L187.0 79.5 L186.8 80.2 L186.5 80.8 L186.3 81.5 L186.0 82.2 L185.8 82.9 L185.5 83.5 L185.3 84.2 L185.0 85.0 L184.8 85.8 L184.5 86.5 L184.3 87.2 L184.2 88.0 L184.0 88.7 L183.8 89.5 L183.6 90.2 L183.4 91.0 L183.3 91.8 L183.1 92.5 L183.0 93.2 L182.8 94.0 L182.7 94.8 L182.6 95.5 L182.4 96.2 L182.3 97.0 L182.2 97.8 L182.1 98.5 L182.0 99.2 L182.0 100.0 L181.9 100.8 L181.8 101.8 L181.8 102.8 L181.8 103.8 L181.8 104.8 L181.8 105.8 L181.7 106.8 L181.7 107.8 L181.6 108.8 L181.5 109.8 L181.5 110.8 L181.5 111.8 L181.5 112.8 L181.5 113.7 L181.4 114.8 L181.4 115.8 L181.3 116.5 L181.2 117.3 L181.2 118.2 L181.1 119.2 L181.1 120.2 L181.1 121.2 L181.0 122.2 L181.0 123.0 L180.9 123.8 L180.8 124.5 L180.7 125.2 L180.6 126.0 L180.4 126.8 L180.2 127.5 L180.0 128.2 L179.8 128.9 L179.5 129.6 L179.3 130.2 L179.0 130.9 L178.8 131.5 L178.5 132.0 L178.2 132.5 L177.8 133.0 L177.3 133.5 L176.8 133.9 L176.0 134.2 L175.2 134.3 L174.5 134.1 L174.0 133.8 L173.5 133.2 L173.2 132.8 L172.8 132.0 L172.5 131.2 L172.3 130.5 L172.1 129.8 L171.9 129.0 L171.8 128.2 L171.6 127.5 L171.5 126.8 L171.4 126.0 L171.3 125.2 L171.2 124.5 L171.1 123.8 L171.0 123.0 L170.9 122.2 L170.9 121.2 L170.9 120.2 L170.9 119.2 L171.0 118.2 L171.0 117.4 L171.0 116.5 L171.1 115.5 L171.2 114.5 L171.2 113.5 L171.2 112.5 L171.3 111.5 L171.3 110.5 L171.4 109.8 L171.4 109.0 L171.5 108.2 L171.6 107.5 L171.6 106.8 L171.7 105.8 L171.7 104.8 L171.8 103.8 L171.8 102.8 L171.8 101.8 L171.7 100.8 L171.7 100.0 L171.6 99.2 L171.5 98.5 L171.5 97.8 L171.4 97.0 L171.3 96.2 L171.3 95.5 L171.2 94.8 L171.1 94.0 L171.1 93.2 L171.0 92.5 L171.0 91.5 L171.0 90.5 L171.0 89.5 L171.0 88.5 L171.0 87.5 L171.1 86.5 L171.1 85.8 L171.2 85.0 L171.3 84.2 L171.4 83.5 L171.5 82.8 L171.6 82.0 L171.8 81.2 L171.9 80.5 L172.1 79.8 L172.2 79.0 L172.4 78.2 L172.6 77.5 L172.8 76.8 L173.1 76.0 L173.4 75.2 L173.7 74.5 L174.0 73.8 L174.2 73.2 L174.6 72.5 L174.9 71.8 L175.2 71.2 L175.6 70.5 L176.0 69.8 L176.3 69.2 L176.7 68.8 L177.0 68.3 L177.4 67.8 L177.7 67.2 L178.1 66.8 L178.5 66.2 L178.9 65.8 L179.2 65.2 L179.5 64.8 L179.8 64.2 L180.2 63.5 L180.5 63.0 L180.9 62.2 L181.2 61.6 L181.6 61.0 L181.9 60.5 L182.2 60.0 L182.7 59.5 L183.2 59.0 L183.8 58.7 L184.5 58.5 L184.7 58.5 M190.0 96.2 L190.7 96.5 L190.6 97.5 L189.9 97.2 L190.0 96.3 L190.0 96.2 M184.4 61.2 L185.2 61.2 L186.0 61.5 L186.8 62.0 L187.2 62.4 L187.8 62.9 L188.2 63.5 L188.6 64.0 L188.9 64.5 L189.2 65.1 L189.5 65.7 L189.8 66.4 L189.9 67.0 L190.1 67.8 L190.2 68.5 L190.1 69.5 L190.0 70.2 L189.8 71.0 L189.6 71.8 L189.3 72.5 L189.0 73.2 L188.8 73.9 L188.5 74.5 L188.2 75.2 L188.0 75.8 L187.8 76.5 L187.5 77.1 L187.3 77.8 L187.0 78.5 L186.8 79.2 L186.5 79.9 L186.2 80.7 L186.0 81.2 L185.8 82.0 L185.5 82.8 L185.2 83.5 L185.0 84.1 L184.8 84.8 L184.6 85.5 L184.3 86.2 L184.1 87.0 L184.0 87.8 L183.8 88.5 L183.6 89.2 L183.4 90.0 L183.2 90.7 L183.1 91.5 L182.9 92.2 L182.8 93.0 L182.6 93.8 L182.5 94.5 L182.4 95.2 L182.2 96.0 L182.1 96.8 L182.0 97.5 L181.9 98.2 L181.8 99.0 L181.7 99.8 L181.7 100.5 L181.6 101.5 L181.6 102.5 L181.6 103.5 L181.6 104.5 L181.5 105.5 L181.5 106.4 L181.5 107.3 L181.4 108.2 L181.3 109.2 L181.3 110.2 L181.3 111.2 L181.3 112.2 L181.2 113.2 L181.2 114.2 L181.2 115.2 L181.1 116.0 L181.0 116.8 L181.0 117.5 L180.9 118.5 L180.9 119.5 L180.9 120.5 L180.8 121.5 L180.8 122.5 L180.7 123.2 L180.6 124.0 L180.5 124.8 L180.4 125.5 L180.3 126.2 L180.1 127.0 L179.8 127.8 L179.6 128.5 L179.3 129.2 L179.0 130.0 L178.8 130.7 L178.5 131.2 L178.1 132.0 L177.7 132.5 L177.2 132.9 L176.8 133.3 L176.0 133.6 L175.2 133.7 L174.6 133.5 L174.0 133.1 L173.5 132.5 L173.1 131.8 L172.8 131.0 L172.6 130.2 L172.4 129.5 L172.2 128.8 L172.0 128.0 L171.9 127.2 L171.7 126.5 L171.6 125.8 L171.5 125.0 L171.4 124.2 L171.3 123.5 L171.2 122.8 L171.1 121.8 L171.1 120.8 L171.1 119.8 L171.2 118.8 L171.2 117.8 L171.3 116.8 L171.3 115.8 L171.4 114.8 L171.4 113.8 L171.5 112.8 L171.5 111.9 L171.5 111.0 L171.6 110.0 L171.7 109.2 L171.7 108.5 L171.8 107.8 L171.8 107.0 L171.9 106.0 L172.0 105.0 L172.0 104.1 L172.0 103.2 L172.0 102.3 L172.0 101.2 L171.9 100.2 L171.9 99.5 L171.8 98.8 L171.7 98.0 L171.7 97.2 L171.6 96.5 L171.5 95.8 L171.5 95.0 L171.4 94.2 L171.3 93.5 L171.3 92.8 L171.2 91.8 L171.2 90.8 L171.2 89.8 L171.2 88.8 L171.2 87.8 L171.3 86.7 L171.3 86.0 L171.4 85.2 L171.5 84.5 L171.6 83.8 L171.7 83.0 L171.8 82.2 L172.0 81.5 L172.1 80.8 L172.2 80.1 L172.4 79.2 L172.6 78.5 L172.8 77.8 L173.0 77.1 L173.2 76.3 L173.5 75.6 L173.7 75.0 L174.0 74.4 L174.3 73.8 L174.7 73.0 L175.0 72.3 L175.3 71.8 L175.7 71.0 L176.1 70.5 L176.4 70.0 L176.7 69.5 L177.1 69.0 L177.5 68.5 L177.9 68.0 L178.4 67.5 L178.9 67.0 L179.3 66.5 L179.8 66.1 L180.2 65.5 L180.7 65.0 L181.1 64.5 L181.5 64.0 L181.9 63.5 L182.2 63.0 L182.7 62.5 L183.1 62.0 L183.8 61.5 L184.4 61.2 L184.4 61.2 M185.3 63.8 L186.2 63.8 L187.0 64.1 L187.5 64.4 L188.0 64.9 L188.5 65.5 L188.8 66.0 L189.2 66.8 L189.4 67.5 L189.6 68.2 L189.6 69.2 L189.5 70.0 L189.4 70.8 L189.2 71.5 L189.0 72.2 L188.7 73.0 L188.4 73.8 L188.1 74.5 L187.9 75.2 L187.6 76.0 L187.3 76.8 L187.0 77.5 L186.8 78.2 L186.5 79.0 L186.3 79.8 L186.0 80.5 L185.8 81.2 L185.5 82.0 L185.2 82.7 L185.0 83.4 L184.8 84.0 L184.5 84.8 L184.3 85.5 L184.1 86.2 L183.9 87.0 L183.7 87.7 L183.5 88.5 L183.3 89.2 L183.2 90.0 L183.0 90.7 L182.8 91.5 L182.7 92.2 L182.5 93.0 L182.4 93.8 L182.2 94.5 L182.1 95.2 L182.0 96.0 L181.9 96.8 L181.8 97.5 L181.6 98.2 L181.6 99.0 L181.5 99.8 L181.4 100.5 L181.4 101.5 L181.3 102.5 L181.3 103.5 L181.3 104.5 L181.3 105.5 L181.3 106.5 L181.2 107.5 L181.2 108.5 L181.1 109.5 L181.1 110.5 L181.0 111.5 L181.0 112.5 L181.0 113.5 L181.0 114.5 L180.9 115.5 L180.9 116.2 L180.8 117.0 L180.7 117.8 L180.7 118.8 L180.6 119.8 L180.6 120.8 L180.6 121.8 L180.5 122.8 L180.5 123.5 L180.4 124.2 L180.3 125.0 L180.1 125.8 L179.9 126.5 L179.8 127.1 L179.6 127.8 L179.3 128.5 L179.0 129.2 L178.8 129.9 L178.5 130.4 L178.2 131.0 L177.8 131.8 L177.4 132.2 L176.8 132.8 L176.2 133.0 L175.5 133.2 L174.8 133.0 L174.2 132.6 L173.8 132.1 L173.4 131.5 L173.1 130.8 L172.8 130.0 L172.6 129.2 L172.4 128.5 L172.3 127.8 L172.1 127.0 L171.9 126.2 L171.8 125.5 L171.7 124.8 L171.6 124.0 L171.5 123.2 L171.4 122.5 L171.3 121.5 L171.3 120.5 L171.4 119.5 L171.4 118.5 L171.5 117.5 L171.5 116.6 L171.5 115.8 L171.6 114.8 L171.7 113.8 L171.7 112.8 L171.7 111.8 L171.8 110.8 L171.8 110.0 L171.9 109.2 L172.0 108.5 L172.0 107.8 L172.1 107.0 L172.1 106.0 L172.2 105.0 L172.2 104.0 L172.3 103.0 L172.3 102.0 L172.2 101.0 L172.1 100.0 L172.1 99.2 L172.0 98.5 L172.0 97.8 L171.9 97.0 L171.8 96.2 L171.7 95.5 L171.7 94.8 L171.6 94.0 L171.5 93.2 L171.5 92.5 L171.4 91.5 L171.4 90.5 L171.4 89.5 L171.4 88.5 L171.5 87.5 L171.5 86.5 L171.6 85.8 L171.6 85.0 L171.7 84.2 L171.8 83.5 L172.0 82.8 L172.1 82.0 L172.2 81.2 L172.4 80.5 L172.6 79.8 L172.7 79.0 L172.9 78.2 L173.1 77.5 L173.4 76.8 L173.6 76.0 L173.9 75.2 L174.3 74.5 L174.6 73.8 L175.0 73.0 L175.4 72.2 L175.8 71.7 L176.2 71.0 L176.5 70.5 L176.9 70.0 L177.3 69.5 L177.8 69.0 L178.3 68.5 L178.8 68.1 L179.2 67.7 L179.8 67.3 L180.2 66.9 L180.7 66.5 L181.2 66.1 L181.8 65.7 L182.2 65.3 L182.8 64.9 L183.2 64.6 L183.8 64.3 L184.3 64.0 L185.0 63.8 L185.3 63.8 M184.8 65.5 L185.5 65.3 L186.5 65.4 L187.2 65.6 L187.8 66.0 L188.2 66.5 L188.6 67.0 L188.9 67.8 L189.1 68.5 L189.1 69.2 L189.0 70.2 L188.9 71.0 L188.7 71.8 L188.5 72.4 L188.3 73.0 L188.0 73.8 L187.8 74.5 L187.5 75.2 L187.2 76.0 L187.0 76.7 L186.8 77.4 L186.5 78.2 L186.2 78.9 L186.0 79.7 L185.8 80.4 L185.5 81.2 L185.2 81.9 L185.0 82.6 L184.8 83.2 L184.5 84.0 L184.3 84.8 L184.0 85.5 L183.8 86.2 L183.6 87.0 L183.4 87.8 L183.3 88.5 L183.1 89.2 L182.9 90.0 L182.8 90.7 L182.6 91.5 L182.4 92.2 L182.3 93.0 L182.1 93.8 L182.0 94.4 L181.9 95.2 L181.8 96.0 L181.6 96.8 L181.5 97.5 L181.4 98.2 L181.3 99.0 L181.2 99.8 L181.2 100.5 L181.1 101.5 L181.1 102.5 L181.1 103.5 L181.1 104.5 L181.1 105.5 L181.1 106.5 L181.0 107.5 L180.9 108.5 L180.9 109.5 L180.9 110.5 L180.8 111.5 L180.8 112.5 L180.8 113.5 L180.8 114.5 L180.7 115.5 L180.6 116.2 L180.6 117.0 L180.5 117.8 L180.4 118.8 L180.4 119.7 L180.4 120.8 L180.4 121.8 L180.3 122.8 L180.2 123.5 L180.1 124.2 L180.0 125.0 L179.9 125.8 L179.7 126.5 L179.4 127.2 L179.2 128.0 L178.9 128.8 L178.6 129.5 L178.2 130.2 L177.9 130.8 L177.6 131.2 L177.2 131.7 L176.8 132.2 L176.2 132.5 L175.2 132.6 L174.6 132.2 L174.1 131.8 L173.7 131.2 L173.4 130.5 L173.1 129.8 L172.9 129.0 L172.7 128.2 L172.5 127.5 L172.3 126.8 L172.2 126.0 L172.0 125.2 L171.9 124.5 L171.8 123.8 L171.7 123.0 L171.6 122.2 L171.5 121.2 L171.6 120.2 L171.6 119.2 L171.6 118.2 L171.7 117.2 L171.7 116.2 L171.8 115.2 L171.9 114.2 L171.9 113.2 L171.9 112.2 L172.0 111.2 L172.1 110.2 L172.1 109.5 L172.2 108.8 L172.3 108.0 L172.3 107.2 L172.4 106.5 L172.4 105.5 L172.5 104.5 L172.5 103.5 L172.5 102.5 L172.5 101.5 L172.4 100.5 L172.4 99.8 L172.3 99.0 L172.2 98.2 L172.2 97.5 L172.1 96.8 L172.0 96.0 L171.9 95.2 L171.9 94.5 L171.8 93.8 L171.7 93.0 L171.7 92.2 L171.6 91.2 L171.6 90.2 L171.6 89.2 L171.6 88.2 L171.7 87.2 L171.7 86.2 L171.8 85.5 L171.9 84.8 L172.0 84.0 L172.1 83.2 L172.2 82.5 L172.4 81.8 L172.5 81.1 L172.7 80.2 L172.8 79.5 L173.0 78.8 L173.2 78.0 L173.4 77.2 L173.7 76.5 L174.0 75.8 L174.2 75.1 L174.5 74.5 L174.9 73.8 L175.2 73.2 L175.6 72.5 L176.0 72.0 L176.3 71.5 L176.7 71.0 L177.1 70.5 L177.5 70.0 L178.0 69.6 L178.5 69.1 L179.0 68.8 L179.5 68.4 L180.0 68.1 L180.5 67.8 L181.0 67.5 L181.5 67.2 L182.2 66.8 L182.8 66.4 L183.5 66.0 L184.1 65.8 L184.8 65.5 L184.8 65.5 M185.7 66.5 L186.5 66.5 L187.2 66.8 L187.8 67.2 L188.2 67.8 L188.5 68.5 L188.6 69.2 L188.6 70.2 L188.5 71.0 L188.3 71.8 L188.1 72.5 L187.8 73.2 L187.6 74.0 L187.3 74.8 L187.1 75.5 L186.8 76.2 L186.6 77.0 L186.3 77.8 L186.1 78.5 L185.9 79.2 L185.6 80.0 L185.4 80.8 L185.1 81.5 L184.9 82.2 L184.6 83.0 L184.4 83.8 L184.1 84.5 L183.9 85.2 L183.6 86.0 L183.4 86.8 L183.3 87.5 L183.1 88.2 L182.9 89.0 L182.8 89.7 L182.6 90.5 L182.4 91.2 L182.2 92.0 L182.1 92.8 L181.9 93.5 L181.8 94.2 L181.7 95.0 L181.5 95.8 L181.4 96.5 L181.3 97.2 L181.2 98.0 L181.1 98.8 L181.0 99.5 L180.9 100.2 L180.9 101.2 L180.9 102.2 L180.9 103.2 L180.9 104.2 L180.9 105.2 L180.8 106.2 L180.8 107.2 L180.7 108.2 L180.7 109.0 L180.7 110.0 L180.6 111.0 L180.6 112.0 L180.6 113.0 L180.6 114.0 L180.5 115.0 L180.5 115.8 L180.4 116.5 L180.3 117.2 L180.3 118.0 L180.2 119.0 L180.2 120.0 L180.2 121.0 L180.1 122.0 L180.1 122.8 L180.0 123.5 L179.9 124.2 L179.8 125.0 L179.6 125.8 L179.4 126.5 L179.1 127.3 L178.9 128.0 L178.5 128.8 L178.2 129.4 L177.9 130.0 L177.5 130.7 L177.1 131.2 L176.5 131.7 L175.8 132.0 L175.0 131.9 L174.5 131.5 L174.1 131.0 L173.8 130.4 L173.5 129.8 L173.2 129.1 L173.0 128.2 L172.8 127.5 L172.6 126.8 L172.4 126.0 L172.3 125.2 L172.1 124.5 L172.0 123.8 L171.9 123.0 L171.8 122.2 L171.8 121.2 L171.8 120.2 L171.8 119.2 L171.9 118.2 L171.9 117.2 L172.0 116.2 L172.0 115.2 L172.1 114.2 L172.1 113.2 L172.2 112.2 L172.2 111.2 L172.3 110.2 L172.4 109.5 L172.4 108.8 L172.5 108.0 L172.6 107.2 L172.6 106.5 L172.7 105.5 L172.7 104.5 L172.7 103.5 L172.7 102.5 L172.7 101.5 L172.7 100.5 L172.6 99.8 L172.5 99.0 L172.5 98.2 L172.4 97.5 L172.3 96.8 L172.3 96.0 L172.2 95.2 L172.1 94.5 L172.0 93.8 L171.9 93.0 L171.9 92.2 L171.8 91.2 L171.8 90.2 L171.8 89.2 L171.8 88.2 L171.9 87.2 L171.9 86.2 L172.0 85.5 L172.1 84.8 L172.2 84.0 L172.3 83.2 L172.4 82.5 L172.6 81.8 L172.7 81.0 L172.9 80.2 L173.1 79.5 L173.2 78.8 L173.4 78.0 L173.7 77.2 L173.9 76.5 L174.3 75.8 L174.5 75.2 L174.8 74.5 L175.2 73.8 L175.6 73.2 L175.9 72.8 L176.2 72.2 L176.6 71.8 L177.0 71.2 L177.5 70.8 L178.0 70.3 L178.5 69.9 L179.0 69.5 L179.5 69.2 L180.2 68.8 L180.8 68.5 L181.5 68.2 L182.2 67.8 L182.8 67.5 L183.5 67.2 L184.2 66.9 L185.0 66.6 L185.7 66.5 L185.7 66.5 M185.7 67.5 L186.5 67.5 L187.2 67.9 L187.7 68.5 L188.0 69.2 L188.1 70.0 L188.0 71.0 L187.9 71.8 L187.7 72.5 L187.5 73.1 L187.2 74.0 L187.0 74.8 L186.8 75.5 L186.5 76.2 L186.3 77.0 L186.0 77.8 L185.8 78.5 L185.6 79.2 L185.4 80.0 L185.1 80.8 L184.9 81.5 L184.6 82.2 L184.4 83.0 L184.1 83.8 L183.8 84.5 L183.6 85.2 L183.4 86.0 L183.2 86.8 L183.0 87.5 L182.8 88.2 L182.7 89.0 L182.5 89.7 L182.3 90.5 L182.1 91.2 L182.0 92.0 L181.8 92.8 L181.7 93.5 L181.5 94.2 L181.4 95.0 L181.3 95.8 L181.2 96.5 L181.0 97.2 L180.9 98.0 L180.8 98.8 L180.7 99.5 L180.7 100.2 L180.6 101.2 L180.6 102.2 L180.6 103.2 L180.6 104.2 L180.6 105.2 L180.6 106.2 L180.6 107.2 L180.5 108.2 L180.5 109.2 L180.4 110.2 L180.4 111.3 L180.4 112.2 L180.4 113.2 L180.3 114.2 L180.3 115.2 L180.2 116.0 L180.1 116.8 L180.1 117.5 L180.0 118.2 L179.9 119.3 L179.9 120.2 L179.9 121.2 L179.9 122.2 L179.8 123.0 L179.7 123.8 L179.6 124.5 L179.4 125.3 L179.3 126.0 L179.0 126.8 L178.8 127.4 L178.5 128.0 L178.2 128.5 L177.9 129.2 L177.5 129.9 L177.1 130.5 L176.5 131.0 L176.0 131.3 L175.0 131.1 L174.6 130.8 L174.2 130.2 L173.8 129.5 L173.5 128.8 L173.3 128.0 L173.1 127.2 L172.8 126.5 L172.7 125.8 L172.5 125.0 L172.3 124.2 L172.2 123.5 L172.1 122.8 L172.0 122.0 L172.0 121.0 L172.0 120.0 L172.0 119.0 L172.1 118.0 L172.2 117.0 L172.2 116.0 L172.3 115.0 L172.3 114.0 L172.4 113.0 L172.4 112.0 L172.5 111.0 L172.5 110.2 L172.6 109.5 L172.7 108.8 L172.8 108.0 L172.8 107.2 L172.9 106.5 L172.9 105.5 L173.0 104.5 L173.0 103.5 L173.0 102.6 L173.0 101.8 L172.9 100.8 L172.9 100.0 L172.8 99.2 L172.7 98.5 L172.7 97.8 L172.6 97.0 L172.5 96.2 L172.4 95.5 L172.3 94.8 L172.2 94.0 L172.2 93.2 L172.1 92.5 L172.0 91.8 L172.0 90.8 L172.0 89.8 L172.0 88.9 L172.0 88.0 L172.1 87.0 L172.1 86.2 L172.2 85.5 L172.3 84.8 L172.4 84.0 L172.5 83.2 L172.6 82.5 L172.8 81.8 L173.0 81.0 L173.1 80.2 L173.3 79.5 L173.5 78.8 L173.7 78.0 L173.9 77.2 L174.2 76.5 L174.5 75.8 L174.8 75.3 L175.2 74.5 L175.5 73.9 L175.9 73.2 L176.3 72.8 L176.7 72.2 L177.1 71.8 L177.6 71.2 L178.2 70.8 L178.8 70.4 L179.5 70.0 L180.0 69.7 L180.8 69.4 L181.5 69.0 L182.1 68.8 L182.7 68.5 L183.2 68.3 L183.9 68.0 L184.5 67.8 L185.2 67.6 L185.7 67.5 M185.3 68.5 L186.2 68.5 L186.8 68.8 L187.2 69.2 L187.5 70.0 L187.5 71.0 L187.4 71.8 L187.3 72.5 L187.1 73.2 L186.9 74.0 L186.7 74.8 L186.4 75.5 L186.2 76.2 L186.0 76.9 L185.8 77.8 L185.5 78.5 L185.3 79.2 L185.1 80.0 L184.8 80.8 L184.6 81.5 L184.4 82.2 L184.1 83.0 L183.9 83.8 L183.6 84.5 L183.4 85.2 L183.1 86.0 L183.0 86.8 L182.8 87.5 L182.6 88.2 L182.4 89.0 L182.2 89.7 L182.1 90.5 L181.9 91.2 L181.7 92.0 L181.6 92.8 L181.4 93.5 L181.3 94.2 L181.2 95.0 L181.0 95.8 L180.9 96.5 L180.8 97.2 L180.6 98.0 L180.5 98.8 L180.4 99.5 L180.4 100.2 L180.3 101.2 L180.3 102.2 L180.3 103.2 L180.4 104.2 L180.4 105.2 L180.4 106.2 L180.4 107.2 L180.3 108.2 L180.3 109.2 L180.2 110.2 L180.2 111.2 L180.2 112.2 L180.2 113.2 L180.1 114.2 L180.1 115.0 L180.0 115.8 L179.9 116.5 L179.8 117.2 L179.8 118.0 L179.7 118.8 L179.7 119.8 L179.7 120.8 L179.7 121.8 L179.6 122.8 L179.5 123.5 L179.4 124.2 L179.2 124.9 L179.0 125.8 L178.8 126.5 L178.5 127.2 L178.2 127.8 L177.8 128.5 L177.5 129.0 L177.2 129.5 L176.8 130.0 L176.2 130.4 L175.5 130.5 L174.8 130.0 L174.4 129.5 L174.0 128.8 L173.8 128.2 L173.5 127.5 L173.3 126.7 L173.0 126.0 L172.8 125.2 L172.6 124.5 L172.5 123.8 L172.3 123.0 L172.2 122.2 L172.2 121.2 L172.2 120.2 L172.2 119.4 L172.3 118.5 L172.4 117.5 L172.4 116.5 L172.5 115.5 L172.5 114.5 L172.6 113.5 L172.7 112.5 L172.7 111.5 L172.8 110.8 L172.8 110.0 L172.9 109.2 L173.0 108.5 L173.0 107.8 L173.1 107.0 L173.2 106.2 L173.2 105.2 L173.2 104.4 L173.3 103.5 L173.3 102.5 L173.2 101.5 L173.2 100.5 L173.1 99.8 L173.0 99.0 L173.0 98.2 L172.9 97.5 L172.8 96.7 L172.7 96.0 L172.6 95.2 L172.5 94.5 L172.4 93.8 L172.3 93.0 L172.3 92.2 L172.2 91.5 L172.2 90.5 L172.2 89.5 L172.2 88.5 L172.3 87.5 L172.3 86.8 L172.4 86.0 L172.5 85.2 L172.5 84.5 L172.6 83.8 L172.8 83.0 L172.9 82.2 L173.1 81.5 L173.2 80.8 L173.4 80.0 L173.6 79.2 L173.8 78.6 L174.0 77.8 L174.2 77.1 L174.5 76.4 L174.8 75.9 L175.1 75.2 L175.5 74.5 L175.8 74.0 L176.2 73.5 L176.6 73.0 L177.0 72.5 L177.5 72.0 L178.0 71.6 L178.5 71.3 L179.2 70.8 L179.9 70.5 L180.5 70.3 L181.1 70.0 L181.7 69.8 L182.4 69.5 L183.0 69.2 L183.6 69.0 L184.2 68.8 L185.0 68.6 L185.3 68.5 M185.2 69.5 L186.0 69.6 L186.5 69.9 L186.8 70.5 L186.9 71.2 L186.8 72.2 L186.7 73.0 L186.5 73.8 L186.3 74.5 L186.1 75.2 L185.9 76.0 L185.8 76.6 L185.5 77.5 L185.3 78.2 L185.1 79.0 L184.9 79.8 L184.7 80.5 L184.4 81.2 L184.2 82.0 L183.9 82.8 L183.7 83.5 L183.4 84.2 L183.2 85.0 L183.0 85.8 L182.8 86.5 L182.6 87.2 L182.4 88.0 L182.2 88.8 L182.0 89.5 L181.8 90.2 L181.7 91.0 L181.5 91.7 L181.3 92.5 L181.2 93.2 L181.1 94.0 L180.9 94.8 L180.8 95.5 L180.7 96.2 L180.5 97.0 L180.4 97.8 L180.3 98.5 L180.1 99.2 L180.1 100.0 L180.0 101.0 L180.0 102.0 L180.1 103.0 L180.1 104.0 L180.1 105.0 L180.1 106.0 L180.1 107.0 L180.1 108.0 L180.0 109.0 L180.0 110.0 L180.0 111.0 L180.0 112.0 L179.9 113.0 L179.9 114.0 L179.8 115.0 L179.8 115.8 L179.7 116.5 L179.6 117.2 L179.5 118.0 L179.5 118.8 L179.4 119.8 L179.4 120.8 L179.4 121.8 L179.3 122.8 L179.2 123.5 L179.1 124.2 L178.9 125.0 L178.8 125.6 L178.5 126.2 L178.2 126.8 L177.9 127.5 L177.6 128.0 L177.2 128.5 L176.8 129.0 L176.2 129.4 L175.5 129.4 L175.0 129.1 L174.5 128.5 L174.2 128.0 L173.9 127.2 L173.6 126.5 L173.3 125.8 L173.0 125.0 L172.8 124.2 L172.7 123.5 L172.5 122.8 L172.5 122.0 L172.4 121.0 L172.5 120.0 L172.5 119.2 L172.6 118.2 L172.6 117.2 L172.7 116.2 L172.7 115.2 L172.8 114.5 L172.9 113.5 L172.9 112.5 L173.0 111.5 L173.0 110.8 L173.1 110.0 L173.2 109.2 L173.3 108.5 L173.3 107.7 L173.4 107.0 L173.5 106.2 L173.5 105.4 L173.5 104.5 L173.6 103.5 L173.6 102.5 L173.5 101.5 L173.5 100.8 L173.4 100.0 L173.3 99.2 L173.3 98.5 L173.2 97.8 L173.1 97.0 L173.0 96.2 L172.9 95.5 L172.8 94.8 L172.7 94.0 L172.6 93.2 L172.5 92.5 L172.5 91.8 L172.4 90.8 L172.4 89.8 L172.4 88.8 L172.5 87.8 L172.5 86.8 L172.6 86.0 L172.7 85.2 L172.8 84.5 L172.9 83.8 L173.0 83.0 L173.1 82.2 L173.3 81.5 L173.5 80.8 L173.6 80.0 L173.8 79.2 L174.0 78.6 L174.2 77.8 L174.5 77.1 L174.8 76.5 L175.1 75.8 L175.5 75.1 L175.9 74.5 L176.2 74.0 L176.7 73.5 L177.2 73.0 L177.7 72.5 L178.2 72.1 L178.8 71.8 L179.3 71.5 L179.9 71.2 L180.5 71.0 L181.2 70.8 L181.9 70.5 L182.5 70.3 L183.2 70.0 L184.0 69.8 L184.8 69.6 L185.2 69.5 M183.9 70.8 L184.8 70.6 L185.5 70.7 L186.0 71.1 L186.2 71.8 L186.2 72.8 L186.1 73.5 L186.0 74.2 L185.8 75.0 L185.6 75.8 L185.4 76.5 L185.2 77.2 L185.0 78.0 L184.8 78.8 L184.6 79.5 L184.4 80.2 L184.2 80.9 L184.0 81.7 L183.8 82.5 L183.5 83.2 L183.2 84.0 L183.0 84.7 L182.8 85.5 L182.5 86.2 L182.3 87.0 L182.2 87.8 L182.0 88.4 L181.8 89.2 L181.6 90.0 L181.4 90.8 L181.3 91.5 L181.1 92.2 L181.0 93.0 L180.8 93.8 L180.7 94.5 L180.5 95.2 L180.4 96.0 L180.2 96.7 L180.1 97.5 L179.9 98.2 L179.8 99.0 L179.7 99.8 L179.7 100.5 L179.7 101.5 L179.7 102.5 L179.8 103.3 L179.8 104.2 L179.9 105.2 L179.9 106.2 L179.8 107.2 L179.8 108.2 L179.8 109.2 L179.7 110.2 L179.7 111.2 L179.7 112.2 L179.7 113.2 L179.7 114.2 L179.6 115.0 L179.5 115.8 L179.4 116.5 L179.3 117.2 L179.2 118.0 L179.2 118.8 L179.1 119.8 L179.1 120.8 L179.1 121.8 L179.0 122.8 L179.0 123.5 L178.8 124.2 L178.6 125.0 L178.3 125.8 L178.0 126.4 L177.6 127.0 L177.3 127.5 L176.8 128.0 L176.0 128.3 L175.2 128.2 L174.8 127.8 L174.4 127.2 L174.0 126.5 L173.8 125.9 L173.5 125.3 L173.2 124.6 L173.1 124.0 L172.9 123.2 L172.8 122.5 L172.7 121.8 L172.7 120.8 L172.7 119.8 L172.8 119.0 L172.8 118.3 L172.9 117.2 L172.9 116.2 L173.0 115.4 L173.1 114.5 L173.1 113.8 L173.2 113.0 L173.2 112.2 L173.3 111.5 L173.3 110.8 L173.4 110.0 L173.5 109.2 L173.6 108.5 L173.7 107.8 L173.7 107.0 L173.8 106.3 L173.8 105.2 L173.9 104.2 L173.9 103.2 L173.9 102.2 L173.8 101.2 L173.8 100.5 L173.7 99.8 L173.6 99.0 L173.6 98.2 L173.5 97.5 L173.4 96.8 L173.3 96.0 L173.2 95.2 L173.0 94.5 L172.9 93.8 L172.8 93.0 L172.7 92.2 L172.7 91.5 L172.6 90.5 L172.6 89.5 L172.6 88.5 L172.7 87.5 L172.7 86.8 L172.8 86.0 L172.9 85.2 L173.0 84.5 L173.1 83.8 L173.2 83.0 L173.4 82.2 L173.5 81.5 L173.7 80.8 L173.9 80.0 L174.1 79.2 L174.3 78.5 L174.5 77.9 L174.7 77.2 L175.0 76.7 L175.3 76.0 L175.8 75.3 L176.2 74.8 L176.6 74.2 L177.0 73.8 L177.5 73.3 L178.0 73.0 L178.5 72.6 L179.2 72.3 L179.9 72.0 L180.5 71.8 L181.2 71.5 L182.0 71.3 L182.8 71.1 L183.5 70.9 L183.9 70.8 M182.9 72.0 L183.8 71.8 L184.8 71.9 L185.2 72.2 L185.5 73.0 L185.5 74.0 L185.4 74.8 L185.2 75.5 L185.1 76.2 L184.9 77.0 L184.8 77.7 L184.6 78.5 L184.4 79.2 L184.2 80.0 L184.0 80.7 L183.8 81.5 L183.5 82.2 L183.3 83.0 L183.0 83.8 L182.8 84.5 L182.5 85.2 L182.3 86.0 L182.1 86.8 L181.9 87.5 L181.8 88.2 L181.5 89.0 L181.3 89.8 L181.2 90.5 L181.0 91.2 L180.8 92.0 L180.7 92.8 L180.5 93.5 L180.4 94.2 L180.3 95.0 L180.1 95.8 L179.9 96.5 L179.8 97.2 L179.6 98.0 L179.4 98.8 L179.3 99.5 L179.2 100.3 L179.2 101.2 L179.3 102.2 L179.3 103.0 L179.4 103.8 L179.5 104.5 L179.5 105.5 L179.6 106.5 L179.6 107.5 L179.5 108.5 L179.5 109.5 L179.5 110.5 L179.4 111.5 L179.5 112.5 L179.4 113.5 L179.4 114.5 L179.3 115.2 L179.2 116.0 L179.1 116.8 L179.0 117.5 L178.9 118.2 L178.8 119.0 L178.8 120.0 L178.8 121.0 L178.8 122.0 L178.7 122.7 L178.6 123.5 L178.5 124.3 L178.2 124.9 L178.0 125.5 L177.7 126.0 L177.3 126.5 L176.8 127.0 L176.0 127.2 L175.3 127.0 L174.8 126.6 L174.3 126.0 L174.0 125.4 L173.7 124.8 L173.4 124.0 L173.2 123.2 L173.0 122.5 L173.0 121.8 L172.9 120.8 L173.0 119.8 L173.0 119.0 L173.1 118.2 L173.2 117.5 L173.2 116.5 L173.3 115.8 L173.3 115.0 L173.4 114.2 L173.4 113.5 L173.5 112.8 L173.6 112.0 L173.6 111.2 L173.7 110.5 L173.8 109.8 L173.9 109.0 L174.0 108.2 L174.1 107.5 L174.1 106.8 L174.2 106.0 L174.2 105.2 L174.3 104.2 L174.3 103.2 L174.3 102.2 L174.2 101.4 L174.2 100.5 L174.1 99.8 L174.0 99.0 L173.9 98.2 L173.8 97.5 L173.7 96.8 L173.6 96.0 L173.5 95.2 L173.3 94.5 L173.2 93.8 L173.1 93.0 L173.0 92.2 L172.9 91.5 L172.8 90.5 L172.8 89.5 L172.9 88.5 L172.9 87.5 L173.0 86.8 L173.0 86.0 L173.1 85.2 L173.2 84.5 L173.3 83.8 L173.5 83.0 L173.6 82.2 L173.8 81.5 L174.0 80.8 L174.2 80.0 L174.4 79.2 L174.6 78.5 L174.8 77.8 L175.2 77.0 L175.5 76.4 L175.9 75.8 L176.2 75.3 L176.7 74.8 L177.2 74.2 L177.8 73.8 L178.2 73.5 L179.0 73.1 L179.8 72.8 L180.5 72.6 L181.2 72.4 L182.0 72.2 L182.8 72.0 L182.9 72.0 M181.8 73.2 L182.5 73.2 L183.5 73.1 L184.2 73.4 L184.6 74.0 L184.7 74.8 L184.6 75.8 L184.5 76.5 L184.4 77.2 L184.2 78.0 L184.1 78.8 L183.9 79.5 L183.8 80.2 L183.6 81.0 L183.4 81.8 L183.1 82.5 L182.9 83.2 L182.6 84.0 L182.4 84.8 L182.1 85.5 L181.9 86.2 L181.7 87.0 L181.5 87.7 L181.3 88.5 L181.1 89.2 L180.9 90.0 L180.7 90.8 L180.5 91.5 L180.4 92.2 L180.2 93.0 L180.1 93.8 L179.9 94.5 L179.8 95.2 L179.6 96.0 L179.4 96.8 L179.1 97.5 L178.9 98.2 L178.8 99.0 L178.6 99.8 L178.6 100.5 L178.6 101.5 L178.7 102.2 L178.8 103.0 L178.9 103.8 L179.1 104.5 L179.1 105.2 L179.2 106.0 L179.2 107.0 L179.2 108.0 L179.2 109.0 L179.1 110.0 L179.1 111.0 L179.2 112.0 L179.2 113.0 L179.1 114.0 L179.1 114.8 L179.0 115.5 L178.8 116.2 L178.7 117.0 L178.6 117.8 L178.5 118.5 L178.4 119.5 L178.5 120.5 L178.5 121.5 L178.4 122.5 L178.3 123.2 L178.1 124.0 L177.8 124.8 L177.3 125.5 L176.8 126.0 L176.0 126.2 L175.2 125.9 L174.8 125.5 L174.3 125.0 L174.0 124.5 L173.8 123.9 L173.5 123.2 L173.4 122.5 L173.3 121.8 L173.2 120.8 L173.3 119.8 L173.4 119.0 L173.4 118.2 L173.5 117.5 L173.5 116.8 L173.6 116.0 L173.6 115.2 L173.7 114.5 L173.8 113.8 L173.8 113.0 L173.9 112.2 L174.0 111.5 L174.1 110.8 L174.2 110.0 L174.3 109.2 L174.4 108.5 L174.5 107.8 L174.6 107.0 L174.7 106.2 L174.7 105.5 L174.8 104.8 L174.9 103.8 L174.9 102.8 L174.8 101.8 L174.8 101.0 L174.7 100.2 L174.6 99.5 L174.5 98.8 L174.4 98.0 L174.2 97.3 L174.1 96.5 L173.9 95.8 L173.8 95.0 L173.6 94.2 L173.4 93.5 L173.3 92.8 L173.2 92.0 L173.1 91.2 L173.1 90.2 L173.1 89.2 L173.1 88.2 L173.2 87.2 L173.2 86.5 L173.3 85.8 L173.4 85.0 L173.5 84.2 L173.7 83.5 L173.8 82.8 L174.0 82.0 L174.1 81.2 L174.3 80.5 L174.5 79.8 L174.7 79.0 L175.0 78.2 L175.2 77.6 L175.6 77.0 L176.0 76.3 L176.4 75.8 L176.9 75.2 L177.5 74.8 L178.0 74.4 L178.8 74.0 L179.5 73.8 L180.2 73.5 L181.0 73.4 L181.8 73.3 L181.8 73.2 M180.5 74.5 L181.2 74.4 L182.2 74.5 L183.0 74.7 L183.5 75.1 L183.7 75.8 L183.8 76.5 L183.8 77.5 L183.7 78.2 L183.6 79.0 L183.4 79.8 L183.3 80.5 L183.1 81.2 L182.9 82.0 L182.7 82.8 L182.4 83.5 L182.1 84.2 L181.9 85.0 L181.6 85.8 L181.4 86.5 L181.2 87.2 L181.0 87.9 L180.8 88.8 L180.6 89.5 L180.4 90.2 L180.2 91.0 L180.0 91.8 L179.9 92.5 L179.7 93.2 L179.6 94.0 L179.4 94.8 L179.1 95.5 L178.9 96.2 L178.5 97.0 L178.2 97.6 L177.9 98.2 L177.5 98.9 L177.2 99.5 L176.9 100.2 L176.8 101.0 L177.1 101.8 L177.5 102.4 L177.8 103.0 L178.1 103.8 L178.4 104.5 L178.6 105.2 L178.7 106.0 L178.7 106.8 L178.8 107.8 L178.8 108.8 L178.8 109.8 L178.8 110.8 L178.8 111.8 L178.8 112.8 L178.8 113.8 L178.7 114.5 L178.6 115.2 L178.5 116.0 L178.3 116.8 L178.2 117.5 L178.0 118.2 L178.0 119.0 L178.0 119.9 L178.0 120.8 L178.0 121.8 L178.0 122.5 L177.8 123.2 L177.5 124.0 L177.2 124.5 L176.8 124.9 L176.0 125.1 L175.2 124.9 L174.8 124.5 L174.4 124.0 L174.0 123.3 L173.8 122.5 L173.6 121.8 L173.6 120.8 L173.6 120.0 L173.7 119.2 L173.8 118.5 L173.9 117.8 L173.9 117.0 L174.0 116.0 L174.0 115.2 L174.1 114.5 L174.2 113.8 L174.3 113.0 L174.4 112.2 L174.5 111.5 L174.7 110.8 L174.8 110.0 L174.9 109.2 L175.1 108.5 L175.2 107.8 L175.3 107.0 L175.4 106.2 L175.5 105.5 L175.7 104.8 L175.8 104.0 L175.9 103.2 L176.1 102.5 L176.2 101.8 L176.2 100.8 L175.9 100.0 L175.6 99.2 L175.3 98.5 L175.1 97.8 L174.8 97.0 L174.6 96.2 L174.4 95.5 L174.1 94.8 L173.9 94.0 L173.8 93.3 L173.6 92.5 L173.5 91.8 L173.4 91.0 L173.3 90.0 L173.4 89.0 L173.4 88.0 L173.5 87.2 L173.5 86.5 L173.6 85.8 L173.7 85.0 L173.8 84.2 L174.0 83.5 L174.1 82.8 L174.3 82.0 L174.5 81.2 L174.7 80.5 L174.9 79.8 L175.1 79.0 L175.4 78.2 L175.7 77.5 L176.0 77.0 L176.4 76.5 L176.9 76.0 L177.5 75.5 L178.0 75.2 L178.8 74.9 L179.5 74.7 L180.2 74.5 L180.5 74.5 M179.1 75.8 L180.0 75.7 L180.8 75.7 L181.5 75.9 L182.1 76.2 L182.6 76.8 L182.8 77.5 L182.9 78.2 L182.9 79.2 L182.8 80.0 L182.7 80.8 L182.5 81.5 L182.3 82.2 L182.1 83.0 L181.8 83.8 L181.5 84.5 L181.2 85.2 L181.0 86.0 L180.8 86.8 L180.5 87.5 L180.3 88.2 L180.1 89.0 L179.8 89.8 L179.6 90.5 L179.5 91.2 L179.3 92.0 L179.1 92.8 L179.0 93.5 L178.8 94.2 L178.5 94.9 L178.2 95.5 L177.8 96.0 L177.2 96.4 L176.5 96.6 L175.8 96.3 L175.3 95.8 L175.0 95.3 L174.6 94.5 L174.4 93.8 L174.1 93.0 L173.9 92.2 L173.8 91.5 L173.7 90.8 L173.7 89.8 L173.7 88.8 L173.7 87.8 L173.8 87.0 L173.9 86.2 L174.0 85.5 L174.1 84.8 L174.2 84.0 L174.4 83.2 L174.6 82.5 L174.8 81.8 L174.9 81.0 L175.1 80.2 L175.4 79.5 L175.6 78.8 L176.0 78.0 L176.3 77.5 L176.7 77.0 L177.2 76.5 L177.8 76.2 L178.5 75.9 L179.1 75.8 M177.1 106.2 L177.8 106.6 L177.9 107.2 L178.1 108.0 L178.1 108.8 L178.2 109.8 L178.2 110.8 L178.3 111.5 L178.3 112.5 L178.3 113.5 L178.3 114.5 L178.1 115.2 L178.0 116.0 L177.7 116.7 L177.5 117.5 L177.3 118.2 L177.3 119.0 L177.4 120.0 L177.4 120.8 L177.4 121.8 L177.3 122.5 L177.0 123.2 L176.6 123.8 L176.0 124.0 L175.2 123.8 L174.8 123.4 L174.4 122.8 L174.2 122.0 L174.1 121.2 L174.1 120.2 L174.2 119.5 L174.4 118.8 L174.4 118.0 L174.5 117.2 L174.6 116.3 L174.6 115.2 L174.7 114.5 L174.8 113.8 L174.9 113.0 L175.1 112.2 L175.2 111.6 L175.5 110.8 L175.7 110.0 L175.9 109.2 L176.1 108.5 L176.3 107.8 L176.6 107.0 L177.0 106.3 L177.1 106.2 M178.7 77.0 L179.5 77.0 L180.2 77.2 L181.0 77.7 L181.5 78.2 L181.8 78.8 L181.9 79.5 L181.9 80.5 L181.8 81.2 L181.7 82.0 L181.4 82.8 L181.1 83.5 L180.8 84.2 L180.4 85.0 L180.1 85.8 L179.8 86.5 L179.6 87.2 L179.3 88.0 L179.1 88.8 L178.8 89.5 L178.6 90.2 L178.4 91.0 L178.2 91.7 L178.0 92.5 L177.8 93.2 L177.4 93.8 L176.8 94.2 L175.8 94.2 L175.3 93.8 L174.9 93.2 L174.6 92.5 L174.3 91.8 L174.2 91.0 L174.1 90.2 L174.1 89.2 L174.1 88.2 L174.2 87.5 L174.3 86.8 L174.4 86.0 L174.5 85.2 L174.7 84.5 L174.8 83.8 L175.0 83.0 L175.2 82.2 L175.4 81.5 L175.6 80.8 L175.8 80.0 L176.1 79.2 L176.5 78.5 L176.8 78.0 L177.2 77.6 L177.8 77.3 L178.5 77.0 L178.7 77.0 M176.6 112.2 L177.3 112.5 L177.5 113.2 L177.5 114.1 L177.3 115.0 L177.0 115.7 L176.6 116.2 L175.8 116.0 L175.7 115.2 L175.7 114.2 L175.9 113.5 L176.2 112.8 L176.6 112.2 L176.6 112.2 M175.3 120.0 L176.1 120.2 L176.3 121.0 L176.3 121.8 L175.8 122.2 L175.2 122.0 L175.0 121.2 L175.0 120.5 L175.3 120.0 L175.3 120.0 M178.1 79.0 L179.0 79.2 L179.5 79.8 L179.7 80.5 L179.6 81.2 L179.2 81.9 L178.8 82.5 L178.4 83.0 L178.1 83.5 L177.8 84.1 L177.6 84.8 L177.6 85.8 L177.6 86.8 L177.5 87.5 L177.4 88.2 L177.2 89.0 L177.0 89.7 L176.8 90.5 L176.3 91.2 L175.8 91.6 L175.2 91.2 L174.9 90.5 L174.8 89.8 L174.7 89.0 L174.8 88.2 L174.8 87.5 L175.0 86.8 L175.2 86.0 L175.4 85.2 L175.7 84.5 L175.9 83.8 L176.1 83.0 L176.3 82.2 L176.5 81.6 L176.7 80.8 L177.0 80.0 L177.3 79.5 L178.0 79.0 L178.1 79.0" fill="none" stroke="#151515" stroke-width="0.5"/><g fill="#000" stroke="none" filter="url(#bl)"><path d="M179.5 62.0 L175.5 75.0 L173.2 88.0 L172.4 100.0 L171.4 115.0 L171.8 128.0 L174.0 134.0 L178.0 134.0 L180.2 128.0 L180.6 115.0 L181.6 100.0 L182.8 88.0 L183.5 75.0 L182.5 62.0 Z" opacity="0.15"/><path d="M178.0 64.0 L175.3 70.0 L172.5 78.0 L171.0 88.0 L171.1 100.0 L170.6 110.0 L169.9 122.0 L170.8 129.0 L172.6 133.5 L173.0 133.5 L173.8 129.0 L173.9 122.0 L174.0 110.0 L174.7 100.0 L174.8 88.0 L175.9 78.0 L177.3 70.0 L178.4 64.0 Z" opacity="0.66"/><path d="M187.6 73.0 L185.1 79.0 L182.2 86.0 L180.4 96.0 L179.9 103.0 L180.4 107.5 L180.8 107.5 L182.1 103.0 L183.6 96.0 L185.4 86.0 L187.3 79.0 L188.0 73.0 Z" opacity="0.6"/><path d="M180.1 109.5 L178.4 115.0 L178.0 122.0 L178.6 128.0 L179.6 132.5 L180.0 132.5 L181.4 128.0 L181.8 122.0 L181.6 115.0 L180.5 109.5 Z" opacity="0.62"/></g></g>
<rect x="22.8" y="26.8" width="115.8" height="2.5" fill="#b4b4b4"/>
<line x1="22.80" y1="26.80" x2="138.60" y2="26.80" stroke="#444" stroke-width="0.8" stroke-linecap="butt"/>
<line x1="138.60" y1="26.80" x2="138.60" y2="143.60" stroke="#333" stroke-width="0.8" stroke-linecap="butt"/>
<line x1="22.80" y1="26.50" x2="22.80" y2="143.60" stroke="#000" stroke-width="1.2" stroke-linecap="butt"/>
<line x1="20.20" y1="143.60" x2="139.00" y2="143.60" stroke="#000" stroke-width="1.3" stroke-linecap="butt"/>
<line x1="22.80" y1="143.60" x2="22.80" y2="146.80" stroke="#222" stroke-width="0.7" stroke-linecap="butt"/>
<line x1="22.80" y1="143.60" x2="20.24" y2="143.60" stroke="#222" stroke-width="0.7" stroke-linecap="butt"/>
<line x1="31.51" y1="143.60" x2="31.51" y2="145.30" stroke="#222" stroke-width="0.7" stroke-linecap="butt"/>
<line x1="22.80" y1="134.81" x2="21.44" y2="134.81" stroke="#222" stroke-width="0.7" stroke-linecap="butt"/>
<line x1="36.61" y1="143.60" x2="36.61" y2="145.30" stroke="#222" stroke-width="0.7" stroke-linecap="butt"/>
<line x1="22.80" y1="129.67" x2="21.44" y2="129.67" stroke="#222" stroke-width="0.7" stroke-linecap="butt"/>
<line x1="40.23" y1="143.60" x2="40.23" y2="145.30" stroke="#222" stroke-width="0.7" stroke-linecap="butt"/>
<line x1="22.80" y1="126.02" x2="21.44" y2="126.02" stroke="#222" stroke-width="0.7" stroke-linecap="butt"/>
<line x1="43.04" y1="143.60" x2="43.04" y2="145.30" stroke="#222" stroke-width="0.7" stroke-linecap="butt"/>
<line x1="22.80" y1="123.19" x2="21.44" y2="123.19" stroke="#222" stroke-width="0.7" stroke-linecap="butt"/>
<line x1="45.33" y1="143.60" x2="45.33" y2="145.30" stroke="#222" stroke-width="0.7" stroke-linecap="butt"/>
<line x1="22.80" y1="120.88" x2="21.44" y2="120.88" stroke="#222" stroke-width="0.7" stroke-linecap="butt"/>
<line x1="47.27" y1="143.60" x2="47.27" y2="145.30" stroke="#222" stroke-width="0.7" stroke-linecap="butt"/>
<line x1="22.80" y1="118.92" x2="21.44" y2="118.92" stroke="#222" stroke-width="0.7" stroke-linecap="butt"/>
<line x1="48.94" y1="143.60" x2="48.94" y2="145.30" stroke="#222" stroke-width="0.7" stroke-linecap="butt"/>
<line x1="22.80" y1="117.23" x2="21.44" y2="117.23" stroke="#222" stroke-width="0.7" stroke-linecap="butt"/>
<line x1="50.43" y1="143.60" x2="50.43" y2="145.30" stroke="#222" stroke-width="0.7" stroke-linecap="butt"/>
<line x1="22.80" y1="115.74" x2="21.44" y2="115.74" stroke="#222" stroke-width="0.7" stroke-linecap="butt"/>
<line x1="51.75" y1="143.60" x2="51.75" y2="146.80" stroke="#222" stroke-width="0.7" stroke-linecap="butt"/>
<line x1="22.80" y1="114.40" x2="20.24" y2="114.40" stroke="#222" stroke-width="0.7" stroke-linecap="butt"/>
<line x1="60.46" y1="143.60" x2="60.46" y2="145.30" stroke="#222" stroke-width="0.7" stroke-linecap="butt"/>
<line x1="22.80" y1="105.61" x2="21.44" y2="105.61" stroke="#222" stroke-width="0.7" stroke-linecap="butt"/>
<line x1="65.56" y1="143.60" x2="65.56" y2="145.30" stroke="#222" stroke-width="0.7" stroke-linecap="butt"/>
<line x1="22.80" y1="100.47" x2="21.44" y2="100.47" stroke="#222" stroke-width="0.7" stroke-linecap="butt"/>
<line x1="69.18" y1="143.60" x2="69.18" y2="145.30" stroke="#222" stroke-width="0.7" stroke-linecap="butt"/>
<line x1="22.80" y1="96.82" x2="21.44" y2="96.82" stroke="#222" stroke-width="0.7" stroke-linecap="butt"/>
<line x1="71.99" y1="143.60" x2="71.99" y2="145.30" stroke="#222" stroke-width="0.7" stroke-linecap="butt"/>
<line x1="22.80" y1="93.99" x2="21.44" y2="93.99" stroke="#222" stroke-width="0.7" stroke-linecap="butt"/>
<line x1="74.28" y1="143.60" x2="74.28" y2="145.30" stroke="#222" stroke-width="0.7" stroke-linecap="butt"/>
<line x1="22.80" y1="91.68" x2="21.44" y2="91.68" stroke="#222" stroke-width="0.7" stroke-linecap="butt"/>
<line x1="76.22" y1="143.60" x2="76.22" y2="145.30" stroke="#222" stroke-width="0.7" stroke-linecap="butt"/>
<line x1="22.80" y1="89.72" x2="21.44" y2="89.72" stroke="#222" stroke-width="0.7" stroke-linecap="butt"/>
<line x1="77.89" y1="143.60" x2="77.89" y2="145.30" stroke="#222" stroke-width="0.7" stroke-linecap="butt"/>
<line x1="22.80" y1="88.03" x2="21.44" y2="88.03" stroke="#222" stroke-width="0.7" stroke-linecap="butt"/>
<line x1="79.38" y1="143.60" x2="79.38" y2="145.30" stroke="#222" stroke-width="0.7" stroke-linecap="butt"/>
<line x1="22.80" y1="86.54" x2="21.44" y2="86.54" stroke="#222" stroke-width="0.7" stroke-linecap="butt"/>
<line x1="80.70" y1="143.60" x2="80.70" y2="146.80" stroke="#222" stroke-width="0.7" stroke-linecap="butt"/>
<line x1="22.80" y1="85.20" x2="20.24" y2="85.20" stroke="#222" stroke-width="0.7" stroke-linecap="butt"/>
<line x1="89.41" y1="143.60" x2="89.41" y2="145.30" stroke="#222" stroke-width="0.7" stroke-linecap="butt"/>
<line x1="22.80" y1="76.41" x2="21.44" y2="76.41" stroke="#222" stroke-width="0.7" stroke-linecap="butt"/>
<line x1="94.51" y1="143.60" x2="94.51" y2="145.30" stroke="#222" stroke-width="0.7" stroke-linecap="butt"/>
<line x1="22.80" y1="71.27" x2="21.44" y2="71.27" stroke="#222" stroke-width="0.7" stroke-linecap="butt"/>
<line x1="98.13" y1="143.60" x2="98.13" y2="145.30" stroke="#222" stroke-width="0.7" stroke-linecap="butt"/>
<line x1="22.80" y1="67.62" x2="21.44" y2="67.62" stroke="#222" stroke-width="0.7" stroke-linecap="butt"/>
<line x1="100.94" y1="143.60" x2="100.94" y2="145.30" stroke="#222" stroke-width="0.7" stroke-linecap="butt"/>
<line x1="22.80" y1="64.79" x2="21.44" y2="64.79" stroke="#222" stroke-width="0.7" stroke-linecap="butt"/>
<line x1="103.23" y1="143.60" x2="103.23" y2="145.30" stroke="#222" stroke-width="0.7" stroke-linecap="butt"/>
<line x1="22.80" y1="62.48" x2="21.44" y2="62.48" stroke="#222" stroke-width="0.7" stroke-linecap="butt"/>
<line x1="105.17" y1="143.60" x2="105.17" y2="145.30" stroke="#222" stroke-width="0.7" stroke-linecap="butt"/>
<line x1="22.80" y1="60.52" x2="21.44" y2="60.52" stroke="#222" stroke-width="0.7" stroke-linecap="butt"/>
<line x1="106.84" y1="143.60" x2="106.84" y2="145.30" stroke="#222" stroke-width="0.7" stroke-linecap="butt"/>
<line x1="22.80" y1="58.83" x2="21.44" y2="58.83" stroke="#222" stroke-width="0.7" stroke-linecap="butt"/>
<line x1="108.33" y1="143.60" x2="108.33" y2="145.30" stroke="#222" stroke-width="0.7" stroke-linecap="butt"/>
<line x1="22.80" y1="57.34" x2="21.44" y2="57.34" stroke="#222" stroke-width="0.7" stroke-linecap="butt"/>
<line x1="109.65" y1="143.60" x2="109.65" y2="146.80" stroke="#222" stroke-width="0.7" stroke-linecap="butt"/>
<line x1="22.80" y1="56.00" x2="20.24" y2="56.00" stroke="#222" stroke-width="0.7" stroke-linecap="butt"/>
<line x1="118.36" y1="143.60" x2="118.36" y2="145.30" stroke="#222" stroke-width="0.7" stroke-linecap="butt"/>
<line x1="22.80" y1="47.21" x2="21.44" y2="47.21" stroke="#222" stroke-width="0.7" stroke-linecap="butt"/>
<line x1="123.46" y1="143.60" x2="123.46" y2="145.30" stroke="#222" stroke-width="0.7" stroke-linecap="butt"/>
<line x1="22.80" y1="42.07" x2="21.44" y2="42.07" stroke="#222" stroke-width="0.7" stroke-linecap="butt"/>
<line x1="127.08" y1="143.60" x2="127.08" y2="145.30" stroke="#222" stroke-width="0.7" stroke-linecap="butt"/>
<line x1="22.80" y1="38.42" x2="21.44" y2="38.42" stroke="#222" stroke-width="0.7" stroke-linecap="butt"/>
<line x1="129.89" y1="143.60" x2="129.89" y2="145.30" stroke="#222" stroke-width="0.7" stroke-linecap="butt"/>
<line x1="22.80" y1="35.59" x2="21.44" y2="35.59" stroke="#222" stroke-width="0.7" stroke-linecap="butt"/>
<line x1="132.18" y1="143.60" x2="132.18" y2="145.30" stroke="#222" stroke-width="0.7" stroke-linecap="butt"/>
<line x1="22.80" y1="33.28" x2="21.44" y2="33.28" stroke="#222" stroke-width="0.7" stroke-linecap="butt"/>
<line x1="134.12" y1="143.60" x2="134.12" y2="145.30" stroke="#222" stroke-width="0.7" stroke-linecap="butt"/>
<line x1="22.80" y1="31.32" x2="21.44" y2="31.32" stroke="#222" stroke-width="0.7" stroke-linecap="butt"/>
<line x1="135.79" y1="143.60" x2="135.79" y2="145.30" stroke="#222" stroke-width="0.7" stroke-linecap="butt"/>
<line x1="22.80" y1="29.63" x2="21.44" y2="29.63" stroke="#222" stroke-width="0.7" stroke-linecap="butt"/>
<line x1="137.28" y1="143.60" x2="137.28" y2="145.30" stroke="#222" stroke-width="0.7" stroke-linecap="butt"/>
<line x1="22.80" y1="28.14" x2="21.44" y2="28.14" stroke="#222" stroke-width="0.7" stroke-linecap="butt"/>
<line x1="138.60" y1="143.60" x2="138.60" y2="146.80" stroke="#222" stroke-width="0.7" stroke-linecap="butt"/>
<line x1="22.80" y1="26.80" x2="20.20" y2="26.80" stroke="#222" stroke-width="0.7" stroke-linecap="butt"/>
<rect x="23.1" y="29.3" width="56.2" height="75.7" fill="none" stroke="#111" stroke-width="0.9"/>
<text x="25.7" y="37.5" font-size="8.2" font-weight="normal" text-anchor="start" fill="#222" >24.6</text>
<rect x="146.8" y="26.8" width="116.59999999999997" height="2.5" fill="#b4b4b4"/>
<line x1="146.80" y1="26.80" x2="263.40" y2="26.80" stroke="#444" stroke-width="0.8" stroke-linecap="butt"/>
<line x1="263.40" y1="26.80" x2="263.40" y2="143.60" stroke="#333" stroke-width="0.8" stroke-linecap="butt"/>
<line x1="146.80" y1="26.50" x2="146.80" y2="143.60" stroke="#000" stroke-width="1.2" stroke-linecap="butt"/>
<line x1="144.20" y1="143.60" x2="263.80" y2="143.60" stroke="#000" stroke-width="1.3" stroke-linecap="butt"/>
<line x1="146.80" y1="143.60" x2="146.80" y2="146.80" stroke="#222" stroke-width="0.7" stroke-linecap="butt"/>
<line x1="146.80" y1="143.60" x2="144.24" y2="143.60" stroke="#222" stroke-width="0.7" stroke-linecap="butt"/>
<line x1="155.58" y1="143.60" x2="155.58" y2="145.30" stroke="#222" stroke-width="0.7" stroke-linecap="butt"/>
<line x1="146.80" y1="134.81" x2="145.44" y2="134.81" stroke="#222" stroke-width="0.7" stroke-linecap="butt"/>
<line x1="160.71" y1="143.60" x2="160.71" y2="145.30" stroke="#222" stroke-width="0.7" stroke-linecap="butt"/>
<line x1="146.80" y1="129.67" x2="145.44" y2="129.67" stroke="#222" stroke-width="0.7" stroke-linecap="butt"/>
<line x1="164.35" y1="143.60" x2="164.35" y2="145.30" stroke="#222" stroke-width="0.7" stroke-linecap="butt"/>
<line x1="146.80" y1="126.02" x2="145.44" y2="126.02" stroke="#222" stroke-width="0.7" stroke-linecap="butt"/>
<line x1="167.17" y1="143.60" x2="167.17" y2="145.30" stroke="#222" stroke-width="0.7" stroke-linecap="butt"/>
<line x1="146.80" y1="123.19" x2="145.44" y2="123.19" stroke="#222" stroke-width="0.7" stroke-linecap="butt"/>
<line x1="169.48" y1="143.60" x2="169.48" y2="145.30" stroke="#222" stroke-width="0.7" stroke-linecap="butt"/>
<line x1="146.80" y1="120.88" x2="145.44" y2="120.88" stroke="#222" stroke-width="0.7" stroke-linecap="butt"/>
<line x1="171.43" y1="143.60" x2="171.43" y2="145.30" stroke="#222" stroke-width="0.7" stroke-linecap="butt"/>
<line x1="146.80" y1="118.92" x2="145.44" y2="118.92" stroke="#222" stroke-width="0.7" stroke-linecap="butt"/>
<line x1="173.13" y1="143.60" x2="173.13" y2="145.30" stroke="#222" stroke-width="0.7" stroke-linecap="butt"/>
<line x1="146.80" y1="117.23" x2="145.44" y2="117.23" stroke="#222" stroke-width="0.7" stroke-linecap="butt"/>
<line x1="174.62" y1="143.60" x2="174.62" y2="145.30" stroke="#222" stroke-width="0.7" stroke-linecap="butt"/>
<line x1="146.80" y1="115.74" x2="145.44" y2="115.74" stroke="#222" stroke-width="0.7" stroke-linecap="butt"/>
<line x1="175.95" y1="143.60" x2="175.95" y2="146.80" stroke="#222" stroke-width="0.7" stroke-linecap="butt"/>
<line x1="146.80" y1="114.40" x2="144.24" y2="114.40" stroke="#222" stroke-width="0.7" stroke-linecap="butt"/>
<line x1="184.73" y1="143.60" x2="184.73" y2="145.30" stroke="#222" stroke-width="0.7" stroke-linecap="butt"/>
<line x1="146.80" y1="105.61" x2="145.44" y2="105.61" stroke="#222" stroke-width="0.7" stroke-linecap="butt"/>
<line x1="189.86" y1="143.60" x2="189.86" y2="145.30" stroke="#222" stroke-width="0.7" stroke-linecap="butt"/>
<line x1="146.80" y1="100.47" x2="145.44" y2="100.47" stroke="#222" stroke-width="0.7" stroke-linecap="butt"/>
<line x1="193.50" y1="143.60" x2="193.50" y2="145.30" stroke="#222" stroke-width="0.7" stroke-linecap="butt"/>
<line x1="146.80" y1="96.82" x2="145.44" y2="96.82" stroke="#222" stroke-width="0.7" stroke-linecap="butt"/>
<line x1="196.32" y1="143.60" x2="196.32" y2="145.30" stroke="#222" stroke-width="0.7" stroke-linecap="butt"/>
<line x1="146.80" y1="93.99" x2="145.44" y2="93.99" stroke="#222" stroke-width="0.7" stroke-linecap="butt"/>
<line x1="198.63" y1="143.60" x2="198.63" y2="145.30" stroke="#222" stroke-width="0.7" stroke-linecap="butt"/>
<line x1="146.80" y1="91.68" x2="145.44" y2="91.68" stroke="#222" stroke-width="0.7" stroke-linecap="butt"/>
<line x1="200.58" y1="143.60" x2="200.58" y2="145.30" stroke="#222" stroke-width="0.7" stroke-linecap="butt"/>
<line x1="146.80" y1="89.72" x2="145.44" y2="89.72" stroke="#222" stroke-width="0.7" stroke-linecap="butt"/>
<line x1="202.28" y1="143.60" x2="202.28" y2="145.30" stroke="#222" stroke-width="0.7" stroke-linecap="butt"/>
<line x1="146.80" y1="88.03" x2="145.44" y2="88.03" stroke="#222" stroke-width="0.7" stroke-linecap="butt"/>
<line x1="203.77" y1="143.60" x2="203.77" y2="145.30" stroke="#222" stroke-width="0.7" stroke-linecap="butt"/>
<line x1="146.80" y1="86.54" x2="145.44" y2="86.54" stroke="#222" stroke-width="0.7" stroke-linecap="butt"/>
<line x1="205.10" y1="143.60" x2="205.10" y2="146.80" stroke="#222" stroke-width="0.7" stroke-linecap="butt"/>
<line x1="146.80" y1="85.20" x2="144.24" y2="85.20" stroke="#222" stroke-width="0.7" stroke-linecap="butt"/>
<line x1="213.88" y1="143.60" x2="213.88" y2="145.30" stroke="#222" stroke-width="0.7" stroke-linecap="butt"/>
<line x1="146.80" y1="76.41" x2="145.44" y2="76.41" stroke="#222" stroke-width="0.7" stroke-linecap="butt"/>
<line x1="219.01" y1="143.60" x2="219.01" y2="145.30" stroke="#222" stroke-width="0.7" stroke-linecap="butt"/>
<line x1="146.80" y1="71.27" x2="145.44" y2="71.27" stroke="#222" stroke-width="0.7" stroke-linecap="butt"/>
<line x1="222.65" y1="143.60" x2="222.65" y2="145.30" stroke="#222" stroke-width="0.7" stroke-linecap="butt"/>
<line x1="146.80" y1="67.62" x2="145.44" y2="67.62" stroke="#222" stroke-width="0.7" stroke-linecap="butt"/>
<line x1="225.47" y1="143.60" x2="225.47" y2="145.30" stroke="#222" stroke-width="0.7" stroke-linecap="butt"/>
<line x1="146.80" y1="64.79" x2="145.44" y2="64.79" stroke="#222" stroke-width="0.7" stroke-linecap="butt"/>
<line x1="227.78" y1="143.60" x2="227.78" y2="145.30" stroke="#222" stroke-width="0.7" stroke-linecap="butt"/>
<line x1="146.80" y1="62.48" x2="145.44" y2="62.48" stroke="#222" stroke-width="0.7" stroke-linecap="butt"/>
<line x1="229.73" y1="143.60" x2="229.73" y2="145.30" stroke="#222" stroke-width="0.7" stroke-linecap="butt"/>
<line x1="146.80" y1="60.52" x2="145.44" y2="60.52" stroke="#222" stroke-width="0.7" stroke-linecap="butt"/>
<line x1="231.43" y1="143.60" x2="231.43" y2="145.30" stroke="#222" stroke-width="0.7" stroke-linecap="butt"/>
<line x1="146.80" y1="58.83" x2="145.44" y2="58.83" stroke="#222" stroke-width="0.7" stroke-linecap="butt"/>
<line x1="232.92" y1="143.60" x2="232.92" y2="145.30" stroke="#222" stroke-width="0.7" stroke-linecap="butt"/>
<line x1="146.80" y1="57.34" x2="145.44" y2="57.34" stroke="#222" stroke-width="0.7" stroke-linecap="butt"/>
<line x1="234.25" y1="143.60" x2="234.25" y2="146.80" stroke="#222" stroke-width="0.7" stroke-linecap="butt"/>
<line x1="146.80" y1="56.00" x2="144.24" y2="56.00" stroke="#222" stroke-width="0.7" stroke-linecap="butt"/>
<line x1="243.03" y1="143.60" x2="243.03" y2="145.30" stroke="#222" stroke-width="0.7" stroke-linecap="butt"/>
<line x1="146.80" y1="47.21" x2="145.44" y2="47.21" stroke="#222" stroke-width="0.7" stroke-linecap="butt"/>
<line x1="248.16" y1="143.60" x2="248.16" y2="145.30" stroke="#222" stroke-width="0.7" stroke-linecap="butt"/>
<line x1="146.80" y1="42.07" x2="145.44" y2="42.07" stroke="#222" stroke-width="0.7" stroke-linecap="butt"/>
<line x1="251.80" y1="143.60" x2="251.80" y2="145.30" stroke="#222" stroke-width="0.7" stroke-linecap="butt"/>
<line x1="146.80" y1="38.42" x2="145.44" y2="38.42" stroke="#222" stroke-width="0.7" stroke-linecap="butt"/>
<line x1="254.62" y1="143.60" x2="254.62" y2="145.30" stroke="#222" stroke-width="0.7" stroke-linecap="butt"/>
<line x1="146.80" y1="35.59" x2="145.44" y2="35.59" stroke="#222" stroke-width="0.7" stroke-linecap="butt"/>
<line x1="256.93" y1="143.60" x2="256.93" y2="145.30" stroke="#222" stroke-width="0.7" stroke-linecap="butt"/>
<line x1="146.80" y1="33.28" x2="145.44" y2="33.28" stroke="#222" stroke-width="0.7" stroke-linecap="butt"/>
<line x1="258.88" y1="143.60" x2="258.88" y2="145.30" stroke="#222" stroke-width="0.7" stroke-linecap="butt"/>
<line x1="146.80" y1="31.32" x2="145.44" y2="31.32" stroke="#222" stroke-width="0.7" stroke-linecap="butt"/>
<line x1="260.58" y1="143.60" x2="260.58" y2="145.30" stroke="#222" stroke-width="0.7" stroke-linecap="butt"/>
<line x1="146.80" y1="29.63" x2="145.44" y2="29.63" stroke="#222" stroke-width="0.7" stroke-linecap="butt"/>
<line x1="262.07" y1="143.60" x2="262.07" y2="145.30" stroke="#222" stroke-width="0.7" stroke-linecap="butt"/>
<line x1="146.80" y1="28.14" x2="145.44" y2="28.14" stroke="#222" stroke-width="0.7" stroke-linecap="butt"/>
<line x1="263.40" y1="143.60" x2="263.40" y2="146.80" stroke="#222" stroke-width="0.7" stroke-linecap="butt"/>
<line x1="146.80" y1="26.80" x2="144.20" y2="26.80" stroke="#222" stroke-width="0.7" stroke-linecap="butt"/>
<rect x="147.10000000000002" y="29.3" width="57.39999999999999" height="75.7" fill="none" stroke="#111" stroke-width="0.9"/>
<text x="149.70000000000002" y="37.5" font-size="8.2" font-weight="normal" text-anchor="start" fill="#222" >73.2</text>
<text font-size="11.7" font-weight="bold"><tspan x="56.0" y="18.9" letter-spacing="-0.5">CD4</tspan><tspan x="77.9" y="17.2" font-size="8.6">+</tspan><tspan x="87.3" y="18.9">T</tspan><tspan x="94.2" y="21.7" font-size="9">EM</tspan></text>
<text font-size="11.7" font-weight="bold"><tspan x="179.8" y="19.0" letter-spacing="-0.5">CD4</tspan><tspan x="201.7" y="17.3" font-size="8.6">+</tspan><tspan x="210.8" y="19.0">T</tspan><tspan x="217.9" y="22.1" font-size="9">N</tspan></text>
<text transform="translate(14.0,95.0) rotate(-90)" font-size="9.9" font-weight="bold">IFN-<tspan stroke="none" font-weight="normal" font-size="10.4">γ</tspan></text>
<line x1="22.30" y1="157.30" x2="128.80" y2="157.30" stroke="#2a2a2a" stroke-width="0.9" stroke-linecap="butt"/>
<line x1="158.20" y1="157.30" x2="264.50" y2="157.30" stroke="#2a2a2a" stroke-width="0.9" stroke-linecap="butt"/>
<text x="133.5" y="159.5" font-size="10.4" font-weight="bold" text-anchor="start" fill="#000" >IL-2</text>
<line x1="323.20" y1="24.70" x2="323.20" y2="142.50" stroke="#000" stroke-width="1.5" stroke-linecap="butt"/>
<line x1="320.00" y1="141.80" x2="401.50" y2="141.80" stroke="#000" stroke-width="1.5" stroke-linecap="butt"/>
<line x1="319.70" y1="64.40" x2="323.20" y2="64.40" stroke="#000" stroke-width="1.2" stroke-linecap="butt"/>
<line x1="319.70" y1="103.10" x2="323.20" y2="103.10" stroke="#000" stroke-width="1.2" stroke-linecap="butt"/>
<line x1="342.70" y1="141.80" x2="342.70" y2="146.00" stroke="#000" stroke-width="1.2" stroke-linecap="butt"/>
<line x1="382.00" y1="141.80" x2="382.00" y2="146.00" stroke="#000" stroke-width="1.2" stroke-linecap="butt"/>
<text x="305.3" y="29.3" font-size="8.5" font-weight="bold">10<tspan font-size="4.6" dy="-2.4">7</tspan></text>
<text x="305.3" y="68.3" font-size="8.5" font-weight="bold">10<tspan font-size="4.6" dy="-2.4">6</tspan></text>
<text x="305.3" y="107.0" font-size="8.5" font-weight="bold">10<tspan font-size="4.6" dy="-2.4">5</tspan></text>
<text x="305.3" y="145.8" font-size="8.5" font-weight="bold">10<tspan font-size="4.6" dy="-2.4">4</tspan></text>
<text transform="translate(302.9,140.4) rotate(-90) scale(0.905,1)" font-size="9.25" font-weight="bold">Number Donor CD4<tspan font-size="5.5" dy="-2.5">+</tspan><tspan dy="2.5">/spleen</tspan></text>
<circle cx="336.1" cy="58.6" r="2.55" fill="#000"/>
<circle cx="343.5" cy="54.5" r="2.55" fill="#000"/>
<circle cx="343.4" cy="65.0" r="2.55" fill="#000"/>
<circle cx="350.9" cy="62.7" r="2.55" fill="#000"/>
<circle cx="382.4" cy="95.7" r="2.55" fill="#000"/>
<circle cx="382.4" cy="104.6" r="2.55" fill="#000"/>
<circle cx="382.4" cy="132.5" r="2.55" fill="#000"/>
<line x1="329.30" y1="59.30" x2="356.10" y2="59.30" stroke="#000" stroke-width="1.1" stroke-linecap="butt"/>
<line x1="368.00" y1="104.60" x2="394.70" y2="104.60" stroke="#000" stroke-width="1.1" stroke-linecap="butt"/>
<text x="337.7" y="159.0" font-size="11" font-weight="bold">T<tspan font-size="8.9" dy="4.2" dx="0">N</tspan></text>
<text x="372.8" y="159.0" font-size="11" font-weight="bold">T<tspan font-size="8.9" dy="4.2" dx="0">EM</tspan></text>
<line x1="441.50" y1="24.30" x2="441.50" y2="141.80" stroke="#000" stroke-width="1.5" stroke-linecap="butt"/>
<line x1="437.30" y1="141.10" x2="520.00" y2="141.10" stroke="#000" stroke-width="1.5" stroke-linecap="butt"/>
<line x1="437.20" y1="24.90" x2="441.50" y2="24.90" stroke="#000" stroke-width="1.2" stroke-linecap="butt"/>
<line x1="437.20" y1="54.10" x2="441.50" y2="54.10" stroke="#000" stroke-width="1.2" stroke-linecap="butt"/>
<line x1="437.20" y1="83.00" x2="441.50" y2="83.00" stroke="#000" stroke-width="1.2" stroke-linecap="butt"/>
<line x1="437.20" y1="112.00" x2="441.50" y2="112.00" stroke="#000" stroke-width="1.2" stroke-linecap="butt"/>
<line x1="460.50" y1="141.10" x2="460.50" y2="145.00" stroke="#000" stroke-width="1.2" stroke-linecap="butt"/>
<line x1="499.70" y1="141.10" x2="499.70" y2="145.00" stroke="#000" stroke-width="1.2" stroke-linecap="butt"/>
<text x="436.7" y="28.7" font-size="8.7" font-weight="bold" text-anchor="end" fill="#000" >100</text>
<text x="436.7" y="57.6" font-size="8.7" font-weight="bold" text-anchor="end" fill="#000" >75</text>
<text x="436.7" y="86.5" font-size="8.7" font-weight="bold" text-anchor="end" fill="#000" >50</text>
<text x="436.7" y="115.7" font-size="8.7" font-weight="bold" text-anchor="end" fill="#000" >25</text>
<text x="436.7" y="144.8" font-size="8.7" font-weight="bold" text-anchor="end" fill="#000" >0</text>
<text transform="translate(418.9,104.4) rotate(-90) scale(0.9,1)" font-size="10.3" font-weight="bold">% IFN-<tspan stroke="none" font-weight="normal" font-size="10.5">γ</tspan><tspan font-size="7" dy="-3.2">+</tspan></text>
<circle cx="454.2" cy="50.4" r="2.55" fill="#000"/>
<circle cx="461.4" cy="56.9" r="2.55" fill="#000"/>
<circle cx="461.4" cy="67.7" r="2.55" fill="#000"/>
<circle cx="468.7" cy="63.1" r="2.55" fill="#000"/>
<circle cx="500.5" cy="93.5" r="2.55" fill="#000"/>
<circle cx="507.5" cy="113.6" r="2.55" fill="#000"/>
<circle cx="500.3" cy="117.7" r="2.55" fill="#000"/>
<line x1="447.40" y1="58.60" x2="474.00" y2="58.60" stroke="#000" stroke-width="1.1" stroke-linecap="butt"/>
<line x1="486.40" y1="107.10" x2="513.00" y2="107.10" stroke="#000" stroke-width="1.1" stroke-linecap="butt"/>
<text x="455.4" y="159.0" font-size="11" font-weight="bold">T<tspan font-size="8.9" dy="4.2" dx="0">N</tspan></text>
<text x="490.6" y="159.0" font-size="11" font-weight="bold">T<tspan font-size="8.9" dy="4.2" dx="0">EM</tspan></text>
<line x1="36.50" y1="198.40" x2="36.50" y2="315.70" stroke="#000" stroke-width="1.5" stroke-linecap="butt"/>
<line x1="32.20" y1="315.00" x2="212.40" y2="315.00" stroke="#000" stroke-width="1.5" stroke-linecap="butt"/>
<line x1="32.20" y1="199.00" x2="36.50" y2="199.00" stroke="#000" stroke-width="1.2" stroke-linecap="butt"/>
<text x="31.7" y="202.8" font-size="8.9" font-weight="bold" text-anchor="end" fill="#000" >250</text>
<line x1="32.20" y1="222.20" x2="36.50" y2="222.20" stroke="#000" stroke-width="1.2" stroke-linecap="butt"/>
<text x="31.7" y="226.0" font-size="8.9" font-weight="bold" text-anchor="end" fill="#000" >200</text>
<line x1="32.20" y1="245.40" x2="36.50" y2="245.40" stroke="#000" stroke-width="1.2" stroke-linecap="butt"/>
<text x="31.7" y="249.20000000000002" font-size="8.9" font-weight="bold" text-anchor="end" fill="#000" >150</text>
<line x1="32.20" y1="268.60" x2="36.50" y2="268.60" stroke="#000" stroke-width="1.2" stroke-linecap="butt"/>
<text x="31.7" y="272.40000000000003" font-size="8.9" font-weight="bold" text-anchor="end" fill="#000" >100</text>
<line x1="32.20" y1="291.80" x2="36.50" y2="291.80" stroke="#000" stroke-width="1.2" stroke-linecap="butt"/>
<text x="31.7" y="295.6" font-size="8.9" font-weight="bold" text-anchor="end" fill="#000" >50</text>
<text x="31.7" y="319.1" font-size="8.9" font-weight="bold" text-anchor="end" fill="#000" >0</text>
<line x1="65.70" y1="315.00" x2="65.70" y2="318.20" stroke="#000" stroke-width="1.2" stroke-linecap="butt"/>
<line x1="124.30" y1="315.00" x2="124.30" y2="318.20" stroke="#000" stroke-width="1.2" stroke-linecap="butt"/>
<line x1="183.10" y1="315.00" x2="183.10" y2="318.20" stroke="#000" stroke-width="1.2" stroke-linecap="butt"/>
<text x="65.7" y="328" font-size="8.9" font-weight="bold" text-anchor="middle" fill="#000" >5</text>
<text x="124.0" y="328" font-size="8.9" font-weight="bold" text-anchor="middle" fill="#000" >7</text>
<text x="183.0" y="328" font-size="8.9" font-weight="bold" text-anchor="middle" fill="#000" >10</text>
<text x="122.6" y="341.6" font-size="9.7" font-weight="bold" text-anchor="middle" fill="#000" >Days After BMT</text>
<text transform="translate(12.6,278.8) rotate(-90)" font-size="9.25" font-weight="bold">IFN-<tspan stroke="none" font-weight="normal" font-size="9.6">γ</tspan> (pg/mL)</text>
<polyline fill="none" stroke="#000" stroke-width="1.85" stroke-linejoin="miter" points="65.70,307.00 124.30,222.70 183.10,303.80"/>
<polyline fill="none" stroke="#000" stroke-width="1.85" stroke-linejoin="miter" points="65.70,310.60 124.30,314.60 183.10,314.30"/>
<line x1="65.70" y1="302.60" x2="65.70" y2="311.50" stroke="#000" stroke-width="1.1" stroke-linecap="butt"/>
<line x1="63.10" y1="302.60" x2="68.30" y2="302.60" stroke="#000" stroke-width="1.1" stroke-linecap="butt"/>
<line x1="63.10" y1="311.50" x2="68.30" y2="311.50" stroke="#000" stroke-width="1.1" stroke-linecap="butt"/>
<line x1="124.30" y1="209.60" x2="124.30" y2="235.40" stroke="#000" stroke-width="1.1" stroke-linecap="butt"/>
<line x1="121.70" y1="209.60" x2="126.90" y2="209.60" stroke="#000" stroke-width="1.1" stroke-linecap="butt"/>
<line x1="121.70" y1="235.40" x2="126.90" y2="235.40" stroke="#000" stroke-width="1.1" stroke-linecap="butt"/>
<line x1="183.10" y1="295.70" x2="183.10" y2="311.20" stroke="#000" stroke-width="1.1" stroke-linecap="butt"/>
<line x1="180.50" y1="295.70" x2="185.70" y2="295.70" stroke="#000" stroke-width="1.1" stroke-linecap="butt"/>
<line x1="180.50" y1="311.20" x2="185.70" y2="311.20" stroke="#000" stroke-width="1.1" stroke-linecap="butt"/>
<rect x="63.50" y="304.80" width="4.4" height="4.4" fill="#000"/>
<rect x="122.10" y="220.50" width="4.4" height="4.4" fill="#000"/>
<rect x="180.90" y="301.60" width="4.4" height="4.4" fill="#000"/>
<path d="M63.05 313.20 L68.35 313.20 L65.70 308.20 Z" fill="#000"/>
<path d="M121.65 317.20 L126.95 317.20 L124.30 312.20 Z" fill="#000"/>
<path d="M180.45 316.90 L185.75 316.90 L183.10 311.90 Z" fill="#000"/>
<line x1="168.80" y1="201.00" x2="187.40" y2="201.00" stroke="#000" stroke-width="1.6" stroke-linecap="butt"/>
<line x1="168.80" y1="215.20" x2="187.40" y2="215.20" stroke="#000" stroke-width="1.6" stroke-linecap="butt"/>
<rect x="176.35" y="199.95" width="4.5" height="4.5" fill="#000"/>
<path d="M176.25 218.10 L180.95 218.10 L178.60 214.20 Z" fill="#000"/>
<text x="189.0" y="204.0" font-size="9.9" font-weight="normal">T<tspan font-size="6.9" dy="2.5" dx="-0.9">N</tspan></text>
<text x="189.0" y="218.0" font-size="9.9" font-weight="normal">T<tspan font-size="6.9" dy="2.9" dx="-0.9">EM</tspan></text>
<line x1="253.70" y1="198.30" x2="253.70" y2="315.70" stroke="#000" stroke-width="1.5" stroke-linecap="butt"/>
<line x1="249.30" y1="315.00" x2="429.20" y2="315.00" stroke="#000" stroke-width="1.5" stroke-linecap="butt"/>
<line x1="249.30" y1="198.90" x2="253.70" y2="198.90" stroke="#000" stroke-width="1.2" stroke-linecap="butt"/>
<text x="248.7" y="202.9" font-size="8.9" font-weight="bold" text-anchor="end" fill="#000" >70</text>
<line x1="249.30" y1="215.50" x2="253.70" y2="215.50" stroke="#000" stroke-width="1.2" stroke-linecap="butt"/>
<text x="248.7" y="219.5" font-size="8.9" font-weight="bold" text-anchor="end" fill="#000" >60</text>
<line x1="249.30" y1="232.10" x2="253.70" y2="232.10" stroke="#000" stroke-width="1.2" stroke-linecap="butt"/>
<text x="248.7" y="236.10000000000002" font-size="8.9" font-weight="bold" text-anchor="end" fill="#000" >50</text>
<line x1="249.30" y1="248.70" x2="253.70" y2="248.70" stroke="#000" stroke-width="1.2" stroke-linecap="butt"/>
<text x="248.7" y="252.70000000000002" font-size="8.9" font-weight="bold" text-anchor="end" fill="#000" >40</text>
<line x1="249.30" y1="265.30" x2="253.70" y2="265.30" stroke="#000" stroke-width="1.2" stroke-linecap="butt"/>
<text x="248.7" y="269.3" font-size="8.9" font-weight="bold" text-anchor="end" fill="#000" >30</text>
<line x1="249.30" y1="281.90" x2="253.70" y2="281.90" stroke="#000" stroke-width="1.2" stroke-linecap="butt"/>
<text x="248.7" y="285.9" font-size="8.9" font-weight="bold" text-anchor="end" fill="#000" >20</text>
<line x1="249.30" y1="298.50" x2="253.70" y2="298.50" stroke="#000" stroke-width="1.2" stroke-linecap="butt"/>
<text x="248.7" y="302.5" font-size="8.9" font-weight="bold" text-anchor="end" fill="#000" >10</text>
<text x="248.7" y="319.3" font-size="8.9" font-weight="bold" text-anchor="end" fill="#000" >0</text>
<line x1="283.00" y1="315.00" x2="283.00" y2="318.20" stroke="#000" stroke-width="1.2" stroke-linecap="butt"/>
<line x1="341.30" y1="315.00" x2="341.30" y2="318.20" stroke="#000" stroke-width="1.2" stroke-linecap="butt"/>
<line x1="399.90" y1="315.00" x2="399.90" y2="318.20" stroke="#000" stroke-width="1.2" stroke-linecap="butt"/>
<text x="283.2" y="328" font-size="8.9" font-weight="bold" text-anchor="middle" fill="#000" >5</text>
<text x="341.2" y="328" font-size="8.9" font-weight="bold" text-anchor="middle" fill="#000" >7</text>
<text x="400.0" y="328" font-size="8.9" font-weight="bold" text-anchor="middle" fill="#000" >10</text>
<text x="341.3" y="341.6" font-size="9.7" font-weight="bold" text-anchor="middle" fill="#000" >Days After BMT</text>
<text transform="translate(230.2,283.5) rotate(-90)" font-size="9.6" font-weight="bold">TNF-<tspan stroke="none" font-weight="normal" font-size="11">α</tspan> (pg/mL)</text>
<polyline fill="none" stroke="#000" stroke-width="1.85" stroke-linejoin="miter" points="283.00,292.40 341.30,229.20 399.90,247.80"/>
<polyline fill="none" stroke="#000" stroke-width="1.85" stroke-linejoin="miter" points="283.00,303.50 341.30,305.30 399.90,292.20"/>
<line x1="283.00" y1="287.60" x2="283.00" y2="296.00" stroke="#000" stroke-width="1.1" stroke-linecap="butt"/>
<line x1="280.40" y1="287.60" x2="285.60" y2="287.60" stroke="#000" stroke-width="1.1" stroke-linecap="butt"/>
<line x1="280.40" y1="296.00" x2="285.60" y2="296.00" stroke="#000" stroke-width="1.1" stroke-linecap="butt"/>
<line x1="341.30" y1="211.30" x2="341.30" y2="245.50" stroke="#000" stroke-width="1.1" stroke-linecap="butt"/>
<line x1="338.70" y1="211.30" x2="343.90" y2="211.30" stroke="#000" stroke-width="1.1" stroke-linecap="butt"/>
<line x1="338.70" y1="245.50" x2="343.90" y2="245.50" stroke="#000" stroke-width="1.1" stroke-linecap="butt"/>
<line x1="399.90" y1="237.30" x2="399.90" y2="256.60" stroke="#000" stroke-width="1.1" stroke-linecap="butt"/>
<line x1="397.30" y1="237.30" x2="402.50" y2="237.30" stroke="#000" stroke-width="1.1" stroke-linecap="butt"/>
<line x1="397.30" y1="256.60" x2="402.50" y2="256.60" stroke="#000" stroke-width="1.1" stroke-linecap="butt"/>
<line x1="341.30" y1="301.70" x2="341.30" y2="308.20" stroke="#000" stroke-width="1.1" stroke-linecap="butt"/>
<line x1="338.70" y1="301.70" x2="343.90" y2="301.70" stroke="#000" stroke-width="1.1" stroke-linecap="butt"/>
<line x1="338.70" y1="308.20" x2="343.90" y2="308.20" stroke="#000" stroke-width="1.1" stroke-linecap="butt"/>
<line x1="399.90" y1="287.30" x2="399.90" y2="297.10" stroke="#000" stroke-width="1.1" stroke-linecap="butt"/>
<line x1="397.30" y1="287.30" x2="402.50" y2="287.30" stroke="#000" stroke-width="1.1" stroke-linecap="butt"/>
<line x1="397.30" y1="297.10" x2="402.50" y2="297.10" stroke="#000" stroke-width="1.1" stroke-linecap="butt"/>
<rect x="339.10" y="227.00" width="4.4" height="4.4" fill="#000"/>
<rect x="397.70" y="245.60" width="4.4" height="4.4" fill="#000"/>
<rect x="280.8" y="289.6" width="4.7" height="6.3" fill="#000"/>
<path d="M281.00 306.10 L285.40 306.10 L283.20 302.30 Z" fill="#000"/>
<path d="M338.65 307.90 L343.95 307.90 L341.30 302.90 Z" fill="#000"/>
<path d="M397.25 294.80 L402.55 294.80 L399.90 289.80 Z" fill="#000"/>
<line x1="394.60" y1="201.00" x2="413.10" y2="201.00" stroke="#000" stroke-width="1.6" stroke-linecap="butt"/>
<line x1="394.60" y1="215.20" x2="413.10" y2="215.20" stroke="#000" stroke-width="1.6" stroke-linecap="butt"/>
<rect x="402.10" y="199.95" width="4.5" height="4.5" fill="#000"/>
<path d="M402.00 218.10 L406.70 218.10 L404.35 214.20 Z" fill="#000"/>
<text x="414.8" y="204.0" font-size="9.9" font-weight="normal">T<tspan font-size="6.9" dy="2.5" dx="-0.9">N</tspan></text>
<text x="414.8" y="218.0" font-size="9.9" font-weight="normal">T<tspan font-size="6.9" dy="2.9" dx="-0.9">EM</tspan></text>
</svg>
</body></html>
